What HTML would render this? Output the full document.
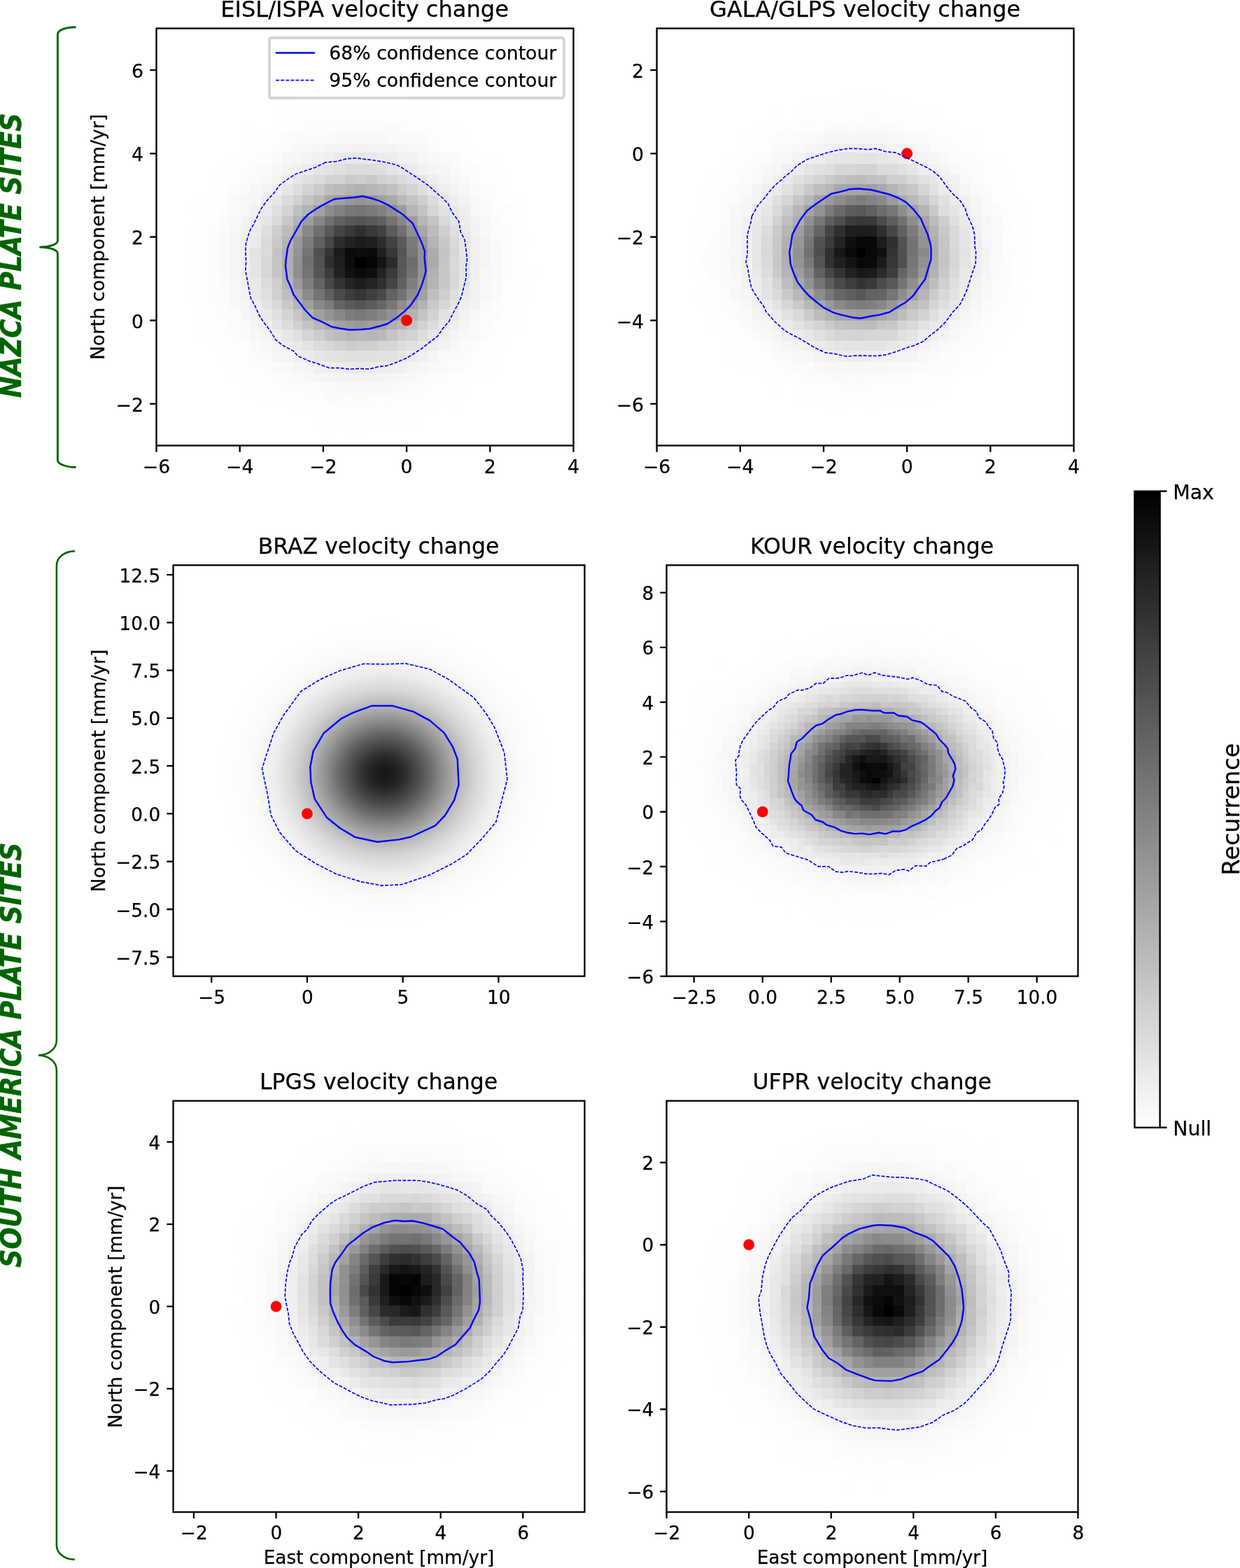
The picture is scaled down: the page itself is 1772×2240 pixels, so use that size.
<!DOCTYPE html>
<html lang="en">
<head>
<meta charset="utf-8">
<title>Velocity change at Nazca and South America plate sites</title>
<style>
html,body{margin:0;padding:0;background:#fff}
body{width:1772px;height:2240px;overflow:hidden}
svg{display:block;font-family:"DejaVu Sans","Liberation Sans",sans-serif;fill:#000}
svg text{white-space:pre;stroke:#000;stroke-width:0.25px}
.pl text{stroke:#006400;stroke-width:0.4px}
.pl{font-family:"DejaVu Sans Condensed","DejaVu Sans","Liberation Sans",sans-serif;font-weight:bold;font-style:oblique}
</style>
</head>
<body>
<svg width="1772" height="2240" viewBox="0 0 1772 2240">
<defs>
<clipPath id="cp0"><rect x="223.5" y="40.55" width="596" height="595.95"/></clipPath>
<clipPath id="cp1"><rect x="938.6" y="40.55" width="595.9" height="595.95"/></clipPath>
<clipPath id="cp2"><rect x="247.55" y="807.4" width="587.9" height="587.2"/></clipPath>
<radialGradient id="rg2" cx="0.5" cy="0.5" r="0.5"><stop offset="0" stop-color="rgb(22,22,22)"/><stop offset="0.0233" stop-color="rgb(24,24,24)"/><stop offset="0.0465" stop-color="rgb(29,29,29)"/><stop offset="0.0698" stop-color="rgb(36,36,36)"/><stop offset="0.093" stop-color="rgb(45,45,45)"/><stop offset="0.1163" stop-color="rgb(56,56,56)"/><stop offset="0.1395" stop-color="rgb(67,67,67)"/><stop offset="0.1628" stop-color="rgb(79,79,79)"/><stop offset="0.186" stop-color="rgb(92,92,92)"/><stop offset="0.2093" stop-color="rgb(105,105,105)"/><stop offset="0.2326" stop-color="rgb(119,119,119)"/><stop offset="0.2558" stop-color="rgb(133,133,133)"/><stop offset="0.2791" stop-color="rgb(146,146,146)"/><stop offset="0.3023" stop-color="rgb(159,159,159)"/><stop offset="0.3256" stop-color="rgb(171,171,171)"/><stop offset="0.3488" stop-color="rgb(182,182,182)"/><stop offset="0.3721" stop-color="rgb(193,193,193)"/><stop offset="0.3953" stop-color="rgb(203,203,203)"/><stop offset="0.4186" stop-color="rgb(211,211,211)"/><stop offset="0.4419" stop-color="rgb(219,219,219)"/><stop offset="0.4651" stop-color="rgb(225,225,225)"/><stop offset="0.4884" stop-color="rgb(231,231,231)"/><stop offset="0.5116" stop-color="rgb(236,236,236)"/><stop offset="0.5349" stop-color="rgb(240,240,240)"/><stop offset="0.5581" stop-color="rgb(243,243,243)"/><stop offset="0.5814" stop-color="rgb(246,246,246)"/><stop offset="0.6047" stop-color="rgb(248,248,248)"/><stop offset="0.6279" stop-color="rgb(250,250,250)"/><stop offset="0.6512" stop-color="rgb(251,251,251)"/><stop offset="0.6744" stop-color="rgb(252,252,252)"/><stop offset="0.6977" stop-color="rgb(253,253,253)"/><stop offset="0.7209" stop-color="rgb(254,254,254)"/><stop offset="0.7442" stop-color="rgb(254,254,254)"/><stop offset="0.7674" stop-color="rgb(255,255,255)"/><stop offset="0.7907" stop-color="rgb(255,255,255)"/><stop offset="0.814" stop-color="rgb(255,255,255)"/><stop offset="0.8372" stop-color="rgb(255,255,255)"/><stop offset="0.8605" stop-color="rgb(255,255,255)"/><stop offset="0.8837" stop-color="rgb(255,255,255)"/><stop offset="0.907" stop-color="rgb(255,255,255)"/><stop offset="0.9302" stop-color="rgb(255,255,255)"/><stop offset="0.9535" stop-color="rgb(255,255,255)"/><stop offset="0.9767" stop-color="rgb(255,255,255)"/><stop offset="1" stop-color="rgb(255,255,255)"/></radialGradient>
<clipPath id="cp3"><rect x="952.55" y="807.4" width="587.95" height="587.2"/></clipPath>
<clipPath id="cp4"><rect x="247.55" y="1572.65" width="587.9" height="587.45"/></clipPath>
<clipPath id="cp5"><rect x="952.55" y="1572.65" width="587.95" height="587.45"/></clipPath>
<linearGradient id="cbg" x1="0" y1="0" x2="0" y2="1"><stop offset="0" stop-color="#000"/><stop offset="1" stop-color="#fff"/></linearGradient>
</defs>
<rect width="1772" height="2240" fill="#fff"/>
<g id="ax0">
<g clip-path="url(#cp0)">
<g shape-rendering="crispEdges">
<path fill="rgb(0,0,0)" d="M507 367h16v16h-16z"/>
<path fill="rgb(6,6,6)" d="M523 367h16v16h-16z"/>
<path fill="rgb(11,11,11)" d="M493 354h14v13h-14zM507 383h16v14h-16zM523 354h16v13h-16z"/>
<path fill="rgb(12,12,12)" d="M493 367h14v16h-14z"/>
<path fill="rgb(13,13,13)" d="M507 354h16v13h-16z"/>
<path fill="rgb(15,15,15)" d="M523 383h16v14h-16z"/>
<path fill="rgb(16,16,16)" d="M493 383h14v14h-14z"/>
<path fill="rgb(20,20,20)" d="M539 367h13v16h-13z"/>
<path fill="rgb(26,26,26)" d="M477 354h16v13h-16z"/>
<path fill="rgb(27,27,27)" d="M507 338h16v16h-16z"/>
<path fill="rgb(28,28,28)" d="M507 397h16v16h-16z"/>
<path fill="rgb(30,30,30)" d="M523 338h16v16h-16z"/>
<path fill="rgb(31,31,31)" d="M477 367h16v16h-16z"/>
<path fill="rgb(32,32,32)" d="M539 354h13v13h-13z"/>
<path fill="rgb(34,34,34)" d="M477 383h16v14h-16zM493 338h14v16h-14z"/>
<path fill="rgb(35,35,35)" d="M493 397h14v16h-14zM539 383h13v14h-13z"/>
<path fill="rgb(36,36,36)" d="M523 397h16v16h-16z"/>
<path fill="rgb(43,43,43)" d="M552 367h16v16h-16z"/>
<path fill="rgb(44,44,44)" d="M477 338h16v16h-16z"/>
<path fill="rgb(45,45,45)" d="M539 338h13v16h-13z"/>
<path fill="rgb(47,47,47)" d="M464 367h13v16h-13zM507 322h16v16h-16z"/>
<path fill="rgb(48,48,48)" d="M539 397h13v16h-13z"/>
<path fill="rgb(52,52,52)" d="M477 397h16v16h-16z"/>
<path fill="rgb(53,53,53)" d="M464 354h13v13h-13zM507 413h16v16h-16z"/>
<path fill="rgb(56,56,56)" d="M523 322h16v16h-16zM552 354h16v13h-16z"/>
<path fill="rgb(57,57,57)" d="M493 322h14v16h-14z"/>
<path fill="rgb(59,59,59)" d="M552 383h16v14h-16z"/>
<path fill="rgb(61,61,61)" d="M464 383h13v14h-13zM493 413h14v16h-14z"/>
<path fill="rgb(63,63,63)" d="M523 413h16v16h-16z"/>
<path fill="rgb(65,65,65)" d="M539 322h13v16h-13zM552 338h16v16h-16z"/>
<path fill="rgb(69,69,69)" d="M477 322h16v16h-16zM552 397h16v16h-16z"/>
<path fill="rgb(71,71,71)" d="M464 397h13v16h-13zM464 338h13v16h-13z"/>
<path fill="rgb(73,73,73)" d="M539 413h13v16h-13z"/>
<path fill="rgb(75,75,75)" d="M477 413h16v16h-16z"/>
<path fill="rgb(78,78,78)" d="M448 354h16v13h-16z"/>
<path fill="rgb(82,82,82)" d="M448 367h16v16h-16z"/>
<path fill="rgb(84,84,84)" d="M568 354h13v13h-13z"/>
<path fill="rgb(85,85,85)" d="M448 383h16v14h-16zM507 429h16v13h-16zM507 309h16v13h-16z"/>
<path fill="rgb(87,87,87)" d="M493 309h14v13h-14z"/>
<path fill="rgb(88,88,88)" d="M464 322h13v16h-13zM568 367h13v16h-13z"/>
<path fill="rgb(89,89,89)" d="M523 309h16v13h-16zM568 383h13v14h-13z"/>
<path fill="rgb(91,91,91)" d="M493 429h14v13h-14zM552 322h16v16h-16zM568 338h13v16h-13z"/>
<path fill="rgb(92,92,92)" d="M523 429h16v13h-16z"/>
<path fill="rgb(96,96,96)" d="M448 338h16v16h-16zM464 413h13v16h-13z"/>
<path fill="rgb(97,97,97)" d="M477 309h16v13h-16zM539 309h13v13h-13zM568 397h13v16h-13z"/>
<path fill="rgb(98,98,98)" d="M552 413h16v16h-16z"/>
<path fill="rgb(99,99,99)" d="M448 397h16v16h-16z"/>
<path fill="rgb(100,100,100)" d="M477 429h16v13h-16z"/>
<path fill="rgb(102,102,102)" d="M539 429h13v13h-13z"/>
<path fill="rgb(110,110,110)" d="M581 367h16v16h-16z"/>
<path fill="rgb(111,111,111)" d="M448 322h16v16h-16z"/>
<path fill="rgb(112,112,112)" d="M432 367h16v16h-16zM568 322h13v16h-13z"/>
<path fill="rgb(114,114,114)" d="M464 309h13v13h-13zM568 413h13v16h-13zM581 383h16v14h-16z"/>
<path fill="rgb(116,116,116)" d="M432 383h16v14h-16zM432 354h16v13h-16zM448 413h16v16h-16zM507 293h16v16h-16zM552 309h16v13h-16z"/>
<path fill="rgb(118,118,118)" d="M552 429h16v13h-16zM581 354h16v13h-16z"/>
<path fill="rgb(119,119,119)" d="M493 293h14v16h-14z"/>
<path fill="rgb(120,120,120)" d="M507 442h16v16h-16z"/>
<path fill="rgb(122,122,122)" d="M523 293h16v16h-16z"/>
<path fill="rgb(123,123,123)" d="M581 338h16v16h-16z"/>
<path fill="rgb(124,124,124)" d="M464 429h13v13h-13zM493 442h14v16h-14z"/>
<path fill="rgb(125,125,125)" d="M432 338h16v16h-16z"/>
<path fill="rgb(126,126,126)" d="M523 442h16v16h-16z"/>
<path fill="rgb(127,127,127)" d="M432 397h16v16h-16zM581 397h16v16h-16z"/>
<path fill="rgb(129,129,129)" d="M539 293h13v16h-13z"/>
<path fill="rgb(130,130,130)" d="M477 293h16v16h-16z"/>
<path fill="rgb(135,135,135)" d="M448 309h16v13h-16z"/>
<path fill="rgb(136,136,136)" d="M432 322h16v16h-16zM448 429h16v13h-16zM539 442h13v16h-13zM568 309h13v13h-13z"/>
<path fill="rgb(137,137,137)" d="M477 442h16v16h-16z"/>
<path fill="rgb(140,140,140)" d="M432 413h16v16h-16z"/>
<path fill="rgb(141,141,141)" d="M581 413h16v16h-16z"/>
<path fill="rgb(142,142,142)" d="M464 293h13v16h-13zM568 429h13v13h-13z"/>
<path fill="rgb(143,143,143)" d="M552 293h16v16h-16z"/>
<path fill="rgb(144,144,144)" d="M419 383h13v14h-13zM419 367h13v16h-13zM581 322h16v16h-16z"/>
<path fill="rgb(146,146,146)" d="M552 442h16v16h-16zM597 367h14v16h-14z"/>
<path fill="rgb(147,147,147)" d="M597 354h14v13h-14z"/>
<path fill="rgb(148,148,148)" d="M419 354h13v13h-13zM464 442h13v16h-13zM507 279h16v14h-16zM597 383h14v14h-14z"/>
<path fill="rgb(151,151,151)" d="M597 338h14v16h-14z"/>
<path fill="rgb(152,152,152)" d="M493 279h14v14h-14z"/>
<path fill="rgb(153,153,153)" d="M419 338h13v16h-13zM507 458h16v13h-16zM523 279h16v14h-16z"/>
<path fill="rgb(155,155,155)" d="M419 397h13v16h-13zM597 397h14v16h-14z"/>
<path fill="rgb(157,157,157)" d="M432 309h16v13h-16zM493 458h14v13h-14zM523 458h16v13h-16zM568 293h13v16h-13zM581 309h16v13h-16z"/>
<path fill="rgb(159,159,159)" d="M432 429h16v13h-16zM581 429h16v13h-16z"/>
<path fill="rgb(160,160,160)" d="M448 442h16v16h-16zM477 279h16v14h-16zM539 279h13v14h-13z"/>
<path fill="rgb(161,161,161)" d="M448 293h16v16h-16zM477 458h16v13h-16zM597 413h14v16h-14z"/>
<path fill="rgb(162,162,162)" d="M568 442h13v16h-13z"/>
<path fill="rgb(163,163,163)" d="M539 458h13v13h-13z"/>
<path fill="rgb(166,166,166)" d="M419 322h13v16h-13z"/>
<path fill="rgb(167,167,167)" d="M597 322h14v16h-14z"/>
<path fill="rgb(168,168,168)" d="M464 279h13v14h-13z"/>
<path fill="rgb(169,169,169)" d="M419 413h13v16h-13zM552 279h16v14h-16z"/>
<path fill="rgb(170,170,170)" d="M611 367h16v16h-16z"/>
<path fill="rgb(173,173,173)" d="M464 458h13v13h-13zM611 354h16v13h-16z"/>
<path fill="rgb(175,175,175)" d="M403 367h16v16h-16zM403 354h16v13h-16z"/>
<path fill="rgb(176,176,176)" d="M403 383h16v14h-16zM552 458h16v13h-16z"/>
<path fill="rgb(177,177,177)" d="M507 263h16v16h-16zM611 383h16v14h-16z"/>
<path fill="rgb(178,178,178)" d="M432 293h16v16h-16z"/>
<path fill="rgb(179,179,179)" d="M419 309h13v13h-13zM581 442h16v16h-16z"/>
<path fill="rgb(180,180,180)" d="M403 338h16v16h-16zM432 442h16v16h-16zM597 429h14v13h-14zM611 397h16v16h-16zM611 338h16v16h-16z"/>
<path fill="rgb(181,181,181)" d="M403 397h16v16h-16zM493 263h14v16h-14zM523 263h16v16h-16zM581 293h16v16h-16z"/>
<path fill="rgb(182,182,182)" d="M419 429h13v13h-13zM493 471h14v16h-14zM597 309h14v13h-14z"/>
<path fill="rgb(183,183,183)" d="M448 458h16v13h-16zM523 471h16v16h-16zM568 458h13v13h-13z"/>
<path fill="rgb(184,184,184)" d="M448 279h16v14h-16z"/>
<path fill="rgb(185,185,185)" d="M477 263h16v16h-16zM507 471h16v16h-16zM568 279h13v14h-13z"/>
<path fill="rgb(186,186,186)" d="M539 471h13v16h-13zM539 263h13v16h-13z"/>
<path fill="rgb(188,188,188)" d="M403 322h16v16h-16zM611 322h16v16h-16z"/>
<path fill="rgb(189,189,189)" d="M477 471h16v16h-16z"/>
<path fill="rgb(190,190,190)" d="M403 413h16v16h-16zM464 263h13v16h-13z"/>
<path fill="rgb(191,191,191)" d="M611 413h16v16h-16z"/>
<path fill="rgb(192,192,192)" d="M419 293h13v16h-13zM552 263h16v16h-16z"/>
<path fill="rgb(194,194,194)" d="M464 471h13v16h-13z"/>
<path fill="rgb(195,195,195)" d="M581 279h16v14h-16zM597 293h14v16h-14z"/>
<path fill="rgb(196,196,196)" d="M389 354h14v13h-14zM432 458h16v13h-16zM432 279h16v14h-16zM581 458h16v13h-16zM597 442h14v16h-14zM611 309h16v13h-16zM627 354h16v13h-16z"/>
<path fill="rgb(197,197,197)" d="M552 471h16v16h-16z"/>
<path fill="rgb(198,198,198)" d="M389 383h14v14h-14zM389 367h14v16h-14zM419 442h13v16h-13z"/>
<path fill="rgb(199,199,199)" d="M403 309h16v13h-16zM627 383h16v14h-16zM627 367h16v16h-16z"/>
<path fill="rgb(200,200,200)" d="M403 429h16v13h-16zM627 397h16v16h-16z"/>
<path fill="rgb(201,201,201)" d="M389 338h14v16h-14zM523 250h16v13h-16zM627 338h16v16h-16z"/>
<path fill="rgb(202,202,202)" d="M448 263h16v16h-16zM493 250h14v13h-14zM611 429h16v13h-16z"/>
<path fill="rgb(204,204,204)" d="M493 487h14v14h-14zM507 250h16v13h-16zM568 263h13v16h-13z"/>
<path fill="rgb(205,205,205)" d="M448 471h16v16h-16z"/>
<path fill="rgb(206,206,206)" d="M389 397h14v16h-14zM389 322h14v16h-14zM507 487h16v14h-16zM627 413h16v16h-16z"/>
<path fill="rgb(207,207,207)" d="M523 487h16v14h-16zM568 471h13v16h-13zM597 279h14v14h-14zM627 322h16v16h-16z"/>
<path fill="rgb(208,208,208)" d="M389 413h14v16h-14zM419 458h13v13h-13zM539 250h13v13h-13z"/>
<path fill="rgb(209,209,209)" d="M477 487h16v14h-16zM477 250h16v13h-16zM597 458h14v13h-14z"/>
<path fill="rgb(210,210,210)" d="M419 279h13v14h-13zM611 442h16v16h-16z"/>
<path fill="rgb(211,211,211)" d="M403 293h16v16h-16zM432 263h16v16h-16zM464 250h13v13h-13zM581 471h16v16h-16zM581 263h16v16h-16z"/>
<path fill="rgb(212,212,212)" d="M403 442h16v16h-16z"/>
<path fill="rgb(213,213,213)" d="M432 471h16v16h-16zM539 487h13v14h-13zM552 250h16v13h-16zM611 293h16v16h-16z"/>
<path fill="rgb(215,215,215)" d="M373 383h16v14h-16zM373 367h16v16h-16zM464 487h13v14h-13zM552 487h16v14h-16zM627 429h16v13h-16zM643 354h13v13h-13z"/>
<path fill="rgb(217,217,217)" d="M389 429h14v13h-14zM389 309h14v13h-14zM627 309h16v13h-16zM643 397h13v16h-13zM643 383h13v14h-13z"/>
<path fill="rgb(218,218,218)" d="M373 338h16v16h-16zM643 367h13v16h-13zM643 338h13v16h-13z"/>
<path fill="rgb(219,219,219)" d="M373 354h16v13h-16zM448 250h16v13h-16zM568 250h13v13h-13z"/>
<path fill="rgb(220,220,220)" d="M373 397h16v16h-16zM403 279h16v14h-16zM448 487h16v14h-16zM493 234h14v16h-14zM507 234h16v16h-16zM611 458h16v13h-16zM611 279h16v14h-16z"/>
<path fill="rgb(221,221,221)" d="M403 458h16v13h-16zM419 263h13v16h-13zM523 234h16v16h-16zM568 487h13v14h-13zM597 471h14v16h-14z"/>
<path fill="rgb(222,222,222)" d="M597 263h14v16h-14z"/>
<path fill="rgb(223,223,223)" d="M373 322h16v16h-16zM389 442h14v16h-14zM389 293h14v16h-14zM493 501h14v16h-14zM507 501h16v16h-16zM539 234h13v16h-13zM643 413h13v16h-13z"/>
<path fill="rgb(224,224,224)" d="M373 413h16v16h-16zM432 250h16v13h-16zM477 234h16v16h-16zM523 501h16v16h-16zM581 250h16v13h-16zM643 322h13v16h-13z"/>
<path fill="rgb(225,225,225)" d="M419 471h13v16h-13zM627 293h16v16h-16z"/>
<path fill="rgb(226,226,226)" d="M477 501h16v16h-16zM539 501h13v16h-13zM581 487h16v14h-16zM627 442h16v16h-16z"/>
<path fill="rgb(227,227,227)" d="M552 501h16v16h-16z"/>
<path fill="rgb(228,228,228)" d="M357 354h16v13h-16zM373 429h16v13h-16zM432 487h16v14h-16zM464 501h13v16h-13zM464 234h13v16h-13zM643 429h13v13h-13zM643 309h13v13h-13z"/>
<path fill="rgb(229,229,229)" d="M357 383h16v14h-16zM448 234h16v16h-16zM552 234h16v16h-16zM656 383h16v14h-16zM656 367h16v16h-16z"/>
<path fill="rgb(230,230,230)" d="M357 367h16v16h-16zM373 309h16v13h-16zM389 458h14v13h-14zM389 279h14v14h-14zM403 263h16v16h-16zM597 250h14v13h-14zM611 471h16v16h-16zM627 279h16v14h-16z"/>
<path fill="rgb(231,231,231)" d="M419 250h13v13h-13zM568 501h13v16h-13zM611 263h16v16h-16zM656 354h16v13h-16z"/>
<path fill="rgb(232,232,232)" d="M403 471h16v16h-16zM448 501h16v16h-16zM493 218h14v16h-14zM568 234h13v16h-13zM597 487h14v14h-14zM627 458h16v13h-16zM643 293h13v16h-13zM656 397h16v16h-16zM656 338h16v16h-16z"/>
<path fill="rgb(233,233,233)" d="M357 413h16v16h-16zM357 397h16v16h-16zM373 293h16v16h-16zM419 487h13v14h-13zM507 218h16v16h-16zM523 218h16v16h-16z"/>
<path fill="rgb(234,234,234)" d="M357 338h16v16h-16zM373 442h16v16h-16zM477 218h16v16h-16zM507 517h16v16h-16zM643 442h13v16h-13zM656 322h16v16h-16z"/>
<path fill="rgb(235,235,235)" d="M357 322h16v16h-16zM523 517h16v16h-16zM539 218h13v16h-13zM656 413h16v16h-16z"/>
<path fill="rgb(236,236,236)" d="M373 279h16v14h-16zM432 501h16v16h-16zM493 517h14v16h-14zM552 218h16v16h-16zM581 501h16v16h-16zM581 234h16v16h-16z"/>
<path fill="rgb(237,237,237)" d="M357 309h16v13h-16zM432 234h16v16h-16zM477 517h16v16h-16zM539 517h13v16h-13zM611 487h16v14h-16zM656 309h16v13h-16z"/>
<path fill="rgb(238,238,238)" d="M389 263h14v16h-14zM403 487h16v14h-16zM464 218h13v16h-13zM611 250h16v13h-16zM627 471h16v16h-16zM627 263h16v16h-16zM643 279h13v14h-13z"/>
<path fill="rgb(239,239,239)" d="M344 383h13v14h-13zM344 367h13v16h-13zM357 429h16v13h-16zM373 458h16v13h-16zM389 471h14v16h-14zM403 250h16v13h-16zM464 517h13v16h-13zM552 517h16v16h-16zM656 293h16v16h-16zM672 383h13v14h-13zM672 367h13v16h-13zM672 354h13v13h-13z"/>
<path fill="rgb(240,240,240)" d="M344 354h13v13h-13zM344 338h13v16h-13zM419 501h13v16h-13zM448 517h16v16h-16zM448 218h16v16h-16zM568 517h13v16h-13zM597 501h14v16h-14zM643 458h13v13h-13zM656 429h16v13h-16zM672 338h13v16h-13z"/>
<path fill="rgb(241,241,241)" d="M344 397h13v16h-13zM357 442h16v16h-16zM357 293h16v16h-16zM419 234h13v16h-13zM568 218h13v16h-13zM597 234h14v16h-14zM672 397h13v16h-13z"/>
<path fill="rgb(242,242,242)" d="M344 322h13v16h-13zM507 205h16v13h-16zM581 218h16v16h-16zM656 442h16v16h-16zM672 413h13v16h-13zM672 322h13v16h-13z"/>
<path fill="rgb(243,243,243)" d="M344 413h13v16h-13zM344 309h13v13h-13zM373 263h16v16h-16zM389 487h14v14h-14zM389 250h14v13h-14zM432 218h16v16h-16zM477 533h16v13h-16zM493 533h14v13h-14zM493 205h14v13h-14zM523 533h16v13h-16zM523 205h16v13h-16zM539 205h13v13h-13zM627 487h16v14h-16zM627 250h16v13h-16zM643 263h13v16h-13zM656 279h16v14h-16zM672 429h13v13h-13zM672 309h13v13h-13z"/>
<path fill="rgb(244,244,244)" d="M373 471h16v16h-16zM403 234h16v16h-16zM464 205h13v13h-13zM477 205h16v13h-16zM507 533h16v13h-16zM539 533h13v13h-13zM552 205h16v13h-16zM581 517h16v16h-16zM611 234h16v16h-16zM643 471h13v16h-13z"/>
<path fill="rgb(245,245,245)" d="M328 367h16v16h-16zM328 354h16v13h-16zM344 429h13v13h-13zM357 458h16v13h-16zM403 501h16v16h-16zM432 517h16v16h-16zM464 533h13v13h-13zM552 533h16v13h-16zM611 501h16v16h-16zM656 458h16v13h-16zM685 367h16v16h-16zM685 354h16v13h-16z"/>
<path fill="rgb(246,246,246)" d="M328 383h16v14h-16zM328 338h16v16h-16zM344 442h13v16h-13zM357 279h16v14h-16zM389 501h14v16h-14zM419 517h13v16h-13zM419 218h13v16h-13zM448 533h16v13h-16zM448 205h16v13h-16zM568 205h13v13h-13zM597 517h14v16h-14zM597 218h14v16h-14zM685 338h16v16h-16z"/>
<path fill="rgb(247,247,247)" d="M328 397h16v16h-16zM328 322h16v16h-16zM344 293h13v16h-13zM344 279h13v14h-13zM357 471h16v16h-16zM357 263h16v16h-16zM373 487h16v14h-16zM389 234h14v16h-14zM403 218h16v16h-16zM507 189h16v16h-16zM568 533h13v13h-13zM627 234h16v16h-16zM643 487h13v14h-13zM643 250h13v13h-13zM656 263h16v16h-16zM672 293h13v16h-13zM685 413h16v16h-16zM685 397h16v16h-16zM685 383h16v14h-16z"/>
<path fill="rgb(248,248,248)" d="M328 429h16v13h-16zM328 413h16v16h-16zM328 309h16v13h-16zM373 250h16v13h-16zM432 533h16v13h-16zM432 205h16v13h-16zM477 546h16v16h-16zM493 546h14v16h-14zM493 189h14v16h-14zM523 546h16v16h-16zM523 189h16v16h-16zM539 546h13v16h-13zM539 189h13v16h-13zM581 533h16v13h-16zM581 205h16v13h-16zM611 517h16v16h-16zM611 218h16v16h-16zM656 471h16v16h-16zM672 442h13v16h-13zM672 279h13v14h-13zM685 322h16v16h-16zM685 309h16v13h-16z"/>
<path fill="rgb(249,249,249)" d="M315 367h13v16h-13zM315 354h13v13h-13zM315 338h13v16h-13zM403 517h16v16h-16zM419 205h13v13h-13zM477 189h16v16h-16zM507 546h16v16h-16zM552 546h16v16h-16zM597 205h14v13h-14zM627 501h16v16h-16zM656 250h16v13h-16zM672 458h13v13h-13zM685 429h16v13h-16zM701 383h16v14h-16zM701 367h16v16h-16zM701 354h16v13h-16z"/>
<path fill="rgb(250,250,250)" d="M315 397h13v16h-13zM315 383h13v14h-13zM315 322h13v16h-13zM328 293h16v16h-16zM328 279h16v14h-16zM344 458h13v13h-13zM344 263h13v16h-13zM357 487h16v14h-16zM357 250h16v13h-16zM373 501h16v16h-16zM373 234h16v16h-16zM389 517h14v16h-14zM389 218h14v16h-14zM419 533h13v13h-13zM464 546h13v16h-13zM464 189h13v16h-13zM552 189h16v16h-16zM568 546h13v16h-13zM568 189h13v16h-13zM597 533h14v13h-14zM627 517h16v16h-16zM627 218h16v16h-16zM643 501h13v16h-13zM643 234h13v16h-13zM656 487h16v14h-16zM672 471h13v16h-13zM672 263h13v16h-13zM685 293h16v16h-16zM701 413h16v16h-16zM701 397h16v16h-16zM701 338h16v16h-16z"/>
<path fill="rgb(251,251,251)" d="M315 413h13v16h-13zM315 309h13v13h-13zM328 458h16v13h-16zM328 442h16v16h-16zM344 471h13v16h-13zM344 250h13v13h-13zM357 501h16v16h-16zM357 234h16v16h-16zM403 533h16v13h-16zM403 205h16v13h-16zM419 189h13v16h-13zM432 546h16v16h-16zM432 189h16v16h-16zM448 546h16v16h-16zM448 189h16v16h-16zM464 562h13v13h-13zM477 562h16v13h-16zM493 175h14v14h-14zM507 562h16v13h-16zM507 175h16v14h-16zM539 175h13v14h-13zM552 175h16v14h-16zM581 546h16v16h-16zM581 189h16v16h-16zM597 189h14v16h-14zM611 533h16v13h-16zM611 205h16v13h-16zM643 218h13v16h-13zM656 501h16v16h-16zM685 458h16v13h-16zM685 442h16v16h-16zM685 279h16v14h-16zM701 322h16v16h-16z"/>
<path fill="rgb(252,252,252)" d="M299 413h16v16h-16zM299 397h16v16h-16zM299 383h16v14h-16zM299 367h16v16h-16zM299 354h16v13h-16zM299 338h16v16h-16zM299 322h16v16h-16zM315 442h13v16h-13zM315 429h13v13h-13zM315 293h13v16h-13zM328 471h16v16h-16zM328 263h16v16h-16zM373 517h16v16h-16zM373 218h16v16h-16zM389 533h14v13h-14zM389 205h14v13h-14zM403 546h16v16h-16zM403 189h16v16h-16zM419 546h13v16h-13zM432 175h16v14h-16zM448 175h16v14h-16zM464 175h13v14h-13zM477 175h16v14h-16zM493 562h14v13h-14zM523 562h16v13h-16zM523 175h16v14h-16zM539 562h13v13h-13zM552 562h16v13h-16zM568 175h13v14h-13zM597 546h14v16h-14zM627 533h16v13h-16zM643 517h13v16h-13zM656 517h16v16h-16zM656 234h16v16h-16zM672 487h13v14h-13zM672 250h13v13h-13zM672 234h13v16h-13zM685 471h16v16h-16zM685 263h16v16h-16zM701 442h16v16h-16zM701 429h16v13h-16zM701 309h16v13h-16zM701 293h16v16h-16zM717 383h14v14h-14zM717 367h14v16h-14zM717 354h14v13h-14zM717 338h14v16h-14zM717 322h14v16h-14z"/>
<path fill="rgb(253,253,253)" d="M285 383h14v14h-14zM285 338h14v16h-14zM299 442h16v16h-16zM299 429h16v13h-16zM299 309h16v13h-16zM315 471h13v16h-13zM315 458h13v13h-13zM315 279h13v14h-13zM328 487h16v14h-16zM328 250h16v13h-16zM344 501h13v16h-13zM344 487h13v14h-13zM344 234h13v16h-13zM344 218h13v16h-13zM357 517h16v16h-16zM357 218h16v16h-16zM373 533h16v13h-16zM389 546h14v16h-14zM389 189h14v16h-14zM419 175h13v14h-13zM432 562h16v13h-16zM448 562h16v13h-16zM477 575h16v16h-16zM477 159h16v16h-16zM493 575h14v16h-14zM493 159h14v16h-14zM507 575h16v16h-16zM507 159h16v16h-16zM523 575h16v16h-16zM523 159h16v16h-16zM539 159h13v16h-13zM552 575h16v16h-16zM568 562h13v13h-13zM568 159h13v16h-13zM581 562h16v13h-16zM581 175h16v14h-16zM597 562h14v13h-14zM597 175h14v14h-14zM611 546h16v16h-16zM611 189h16v16h-16zM627 546h16v16h-16zM627 205h16v13h-16zM627 189h16v16h-16zM643 205h13v13h-13zM656 218h16v16h-16zM672 501h13v16h-13zM685 250h16v13h-16zM701 471h16v16h-16zM701 458h16v13h-16zM701 279h16v14h-16zM701 263h16v16h-16zM717 429h14v13h-14zM717 413h14v16h-14zM717 397h14v16h-14zM717 293h14v16h-14zM731 413h16v16h-16zM731 397h16v16h-16zM731 383h16v14h-16z"/>
<path fill="rgb(254,254,254)" d="M269 413h16v16h-16zM269 397h16v16h-16zM269 367h16v16h-16zM269 354h16v13h-16zM269 338h16v16h-16zM269 322h16v16h-16zM269 293h16v16h-16zM285 471h14v16h-14zM285 458h14v13h-14zM285 442h14v16h-14zM285 429h14v13h-14zM285 413h14v16h-14zM285 397h14v16h-14zM285 367h14v16h-14zM285 354h14v13h-14zM285 322h14v16h-14zM285 309h14v13h-14zM285 293h14v16h-14zM285 279h14v14h-14zM299 487h16v14h-16zM299 471h16v16h-16zM299 458h16v13h-16zM299 293h16v16h-16zM299 279h16v14h-16zM299 263h16v16h-16zM299 250h16v13h-16zM315 501h13v16h-13zM315 487h13v14h-13zM315 263h13v16h-13zM315 250h13v13h-13zM315 234h13v16h-13zM328 533h16v13h-16zM328 517h16v16h-16zM328 501h16v16h-16zM328 234h16v16h-16zM328 218h16v16h-16zM344 546h13v16h-13zM344 533h13v13h-13zM344 517h13v16h-13zM344 205h13v13h-13zM344 189h13v16h-13zM344 175h13v14h-13zM357 546h16v16h-16zM357 533h16v13h-16zM357 205h16v13h-16zM357 189h16v16h-16zM373 562h16v13h-16zM373 546h16v16h-16zM373 205h16v13h-16zM373 189h16v16h-16zM389 562h14v13h-14zM389 175h14v14h-14zM389 159h14v16h-14zM403 562h16v13h-16zM403 175h16v14h-16zM403 159h16v16h-16zM419 575h13v16h-13zM419 562h13v13h-13zM419 159h13v16h-13zM432 575h16v16h-16zM432 159h16v16h-16zM432 143h16v16h-16zM432 130h16v13h-16zM448 591h16v16h-16zM448 575h16v16h-16zM448 159h16v16h-16zM448 143h16v16h-16zM464 607h13v14h-13zM464 591h13v16h-13zM464 575h13v16h-13zM464 159h13v16h-13zM464 143h13v16h-13zM477 591h16v16h-16zM477 143h16v16h-16zM493 607h14v14h-14zM493 591h14v16h-14zM493 143h14v16h-14zM493 130h14v13h-14zM507 607h16v14h-16zM507 591h16v16h-16zM507 143h16v16h-16zM507 130h16v13h-16zM523 591h16v16h-16zM523 143h16v16h-16zM539 591h13v16h-13zM539 575h13v16h-13zM539 143h13v16h-13zM539 130h13v13h-13zM552 591h16v16h-16zM552 159h16v16h-16zM552 143h16v16h-16zM568 591h13v16h-13zM568 575h13v16h-13zM568 143h13v16h-13zM581 591h16v16h-16zM581 575h16v16h-16zM581 159h16v16h-16zM597 575h14v16h-14zM597 159h14v16h-14zM611 575h16v16h-16zM611 562h16v13h-16zM611 175h16v14h-16zM611 159h16v16h-16zM627 562h16v13h-16zM627 175h16v14h-16zM643 575h13v16h-13zM643 562h13v13h-13zM643 546h13v16h-13zM643 533h13v13h-13zM643 189h13v16h-13zM643 175h13v14h-13zM656 546h16v16h-16zM656 533h16v13h-16zM656 205h16v13h-16zM656 189h16v16h-16zM672 533h13v13h-13zM672 517h13v16h-13zM672 218h13v16h-13zM672 205h13v13h-13zM685 533h16v13h-16zM685 517h16v16h-16zM685 501h16v16h-16zM685 487h16v14h-16zM685 234h16v16h-16zM685 218h16v16h-16zM701 517h16v16h-16zM701 501h16v16h-16zM701 487h16v14h-16zM701 250h16v13h-16zM701 218h16v16h-16zM717 487h14v14h-14zM717 471h14v16h-14zM717 458h14v13h-14zM717 442h14v16h-14zM717 309h14v13h-14zM717 263h14v16h-14zM717 250h14v13h-14zM731 458h16v13h-16zM731 442h16v16h-16zM731 429h16v13h-16zM731 367h16v16h-16zM731 354h16v13h-16zM731 338h16v16h-16zM731 322h16v16h-16zM731 309h16v13h-16zM731 293h16v16h-16zM731 279h16v14h-16zM747 413h13v16h-13zM747 397h13v16h-13zM747 383h13v14h-13zM747 338h13v16h-13zM760 383h16v14h-16z"/>
</g>
<circle cx="581.1" cy="457.72" r="8" fill="#ff0000"/>
<path d="M569.2 302.1L554.7 292.9L542.5 287.2L529.9 283L517.9 280.2L506.4 282L485.9 283.6L477.5 284.5L459.5 293.9L450.6 299.2L439.7 306.8L430.9 316.2L424.3 327.6L415 344L411 354.3L409 368.3L408 379L410.4 399.1L415.4 409.8L419.4 420.8L429 433.6L435.5 442.3L446.7 453.8L459.6 459.7L474.3 466.9L486.1 469.3L499.4 471.3L515.9 470.7L528.4 469.6L543 465.8L553.7 462.5L567.5 453.4L577.4 445.4L586.5 436.5L597 421.3L602.2 408.6L606.4 395.8L608.6 387.3L606.6 368.7L607.1 359.3L602.3 345.9L597.5 335.6L589.7 319.1L577.5 307.8Z" fill="none" stroke="#0000ff" stroke-width="2.45" stroke-linejoin="round"/>
<path d="M465 231.9L451.1 239L440 242.7L422.4 248.7L410.8 256.1L399.8 264.3L391.3 276.2L381.5 286.6L373.8 297.2L368.6 307.5L362.8 319.8L356.9 329.9L351.5 347.4L350.9 360.4L351.6 374.3L350.9 387.3L352.9 397.2L355.7 412.7L358.2 425.6L364.5 437.2L370.4 450.2L376.7 460.3L385.7 471.8L394.2 485.6L403.9 493.2L419.7 501.7L425.6 508.5L443.1 516.3L452.2 518.9L470.4 525.6L484.4 525.5L498.8 527.4L512 526.6L528 527.2L540.1 524L553.5 522.4L566.6 517.6L580.5 511.8L590 506.2L603.9 497L612.2 490.3L625.6 480.1L632.9 469.1L641.5 459.4L646.5 449.2L655.8 431.9L659.4 423.8L663 408.7L666.2 396.4L666 380.4L667.5 370.3L665.5 352.6L663.9 342.4L658.2 331.2L655.6 316.1L646.3 303.6L640.6 291.4L633 283.4L622.1 273.8L612.1 265L600.4 256.8L588.5 249L574.6 239.7L566.6 235.7L551.5 231.9L534.9 229.1L522.6 227.6L509.5 225.8L495.4 226.8L480.8 230.6Z" fill="none" stroke="#0000ff" stroke-width="1.7" stroke-dasharray="4.93 2.13" stroke-linejoin="round"/>
</g>
<path d="M223.5 636.5v9.3M342.7 636.5v9.3M461.9 636.5v9.3M581.1 636.5v9.3M700.3 636.5v9.3M819.5 636.5v9.3M223.5 576.9h-9.3M223.5 457.72h-9.3M223.5 338.53h-9.3M223.5 219.34h-9.3M223.5 100.15h-9.3" stroke="#000" stroke-width="2.35" fill="none"/>
<rect x="223.5" y="40.55" width="596" height="595.95" fill="none" stroke="#000" stroke-width="2.35"/>
<g font-size="26.7px" text-anchor="middle">
<text x="223.5" y="675.7">−6</text>
<text x="342.7" y="675.7">−4</text>
<text x="461.9" y="675.7">−2</text>
<text x="581.1" y="675.7">0</text>
<text x="700.3" y="675.7">2</text>
<text x="819.5" y="675.7">4</text>
</g>
<g font-size="26.7px" text-anchor="end">
<text x="204.9" y="587.7">−2</text>
<text x="204.9" y="468.52">0</text>
<text x="204.9" y="349.33">2</text>
<text x="204.9" y="230.14">4</text>
<text x="204.9" y="110.95">6</text>
</g>
<text x="521.1" y="24.3" font-size="32.1px" text-anchor="middle">EISL/ISPA velocity change</text>
<text transform="translate(149.1 338.52) rotate(-90)" font-size="26.7px" text-anchor="middle">North component [mm/yr]</text>
</g>
<g id="ax1">
<g clip-path="url(#cp1)">
<g shape-rendering="crispEdges">
<path fill="rgb(0,0,0)" d="M1224 354h13v13h-13z"/>
<path fill="rgb(7,7,7)" d="M1224 338h13v16h-13z"/>
<path fill="rgb(8,8,8)" d="M1224 367h13v16h-13zM1237 354h16v13h-16zM1237 338h16v16h-16z"/>
<path fill="rgb(10,10,10)" d="M1208 354h16v13h-16zM1237 367h16v16h-16z"/>
<path fill="rgb(15,15,15)" d="M1208 338h16v16h-16z"/>
<path fill="rgb(16,16,16)" d="M1253 354h14v13h-14z"/>
<path fill="rgb(20,20,20)" d="M1208 367h16v16h-16z"/>
<path fill="rgb(23,23,23)" d="M1192 354h16v13h-16z"/>
<path fill="rgb(25,25,25)" d="M1224 383h13v14h-13z"/>
<path fill="rgb(26,26,26)" d="M1253 367h14v16h-14z"/>
<path fill="rgb(27,27,27)" d="M1237 383h16v14h-16z"/>
<path fill="rgb(28,28,28)" d="M1224 322h13v16h-13zM1253 338h14v16h-14z"/>
<path fill="rgb(30,30,30)" d="M1208 322h16v16h-16zM1237 322h16v16h-16z"/>
<path fill="rgb(32,32,32)" d="M1192 367h16v16h-16z"/>
<path fill="rgb(34,34,34)" d="M1208 383h16v14h-16z"/>
<path fill="rgb(35,35,35)" d="M1192 338h16v16h-16z"/>
<path fill="rgb(42,42,42)" d="M1253 383h14v14h-14z"/>
<path fill="rgb(46,46,46)" d="M1253 322h14v16h-14z"/>
<path fill="rgb(47,47,47)" d="M1192 322h16v16h-16zM1267 338h16v16h-16z"/>
<path fill="rgb(49,49,49)" d="M1179 367h13v16h-13zM1179 354h13v13h-13z"/>
<path fill="rgb(52,52,52)" d="M1192 383h16v14h-16zM1224 397h13v16h-13z"/>
<path fill="rgb(53,53,53)" d="M1267 354h16v13h-16z"/>
<path fill="rgb(54,54,54)" d="M1267 367h16v16h-16z"/>
<path fill="rgb(55,55,55)" d="M1224 309h13v13h-13z"/>
<path fill="rgb(57,57,57)" d="M1237 397h16v16h-16zM1237 309h16v13h-16z"/>
<path fill="rgb(59,59,59)" d="M1179 338h13v16h-13z"/>
<path fill="rgb(60,60,60)" d="M1208 309h16v13h-16z"/>
<path fill="rgb(61,61,61)" d="M1208 397h16v16h-16zM1267 383h16v14h-16z"/>
<path fill="rgb(67,67,67)" d="M1179 322h13v16h-13z"/>
<path fill="rgb(71,71,71)" d="M1179 383h13v14h-13zM1267 322h16v16h-16z"/>
<path fill="rgb(74,74,74)" d="M1192 397h16v16h-16z"/>
<path fill="rgb(75,75,75)" d="M1253 309h14v13h-14z"/>
<path fill="rgb(76,76,76)" d="M1253 397h14v16h-14z"/>
<path fill="rgb(79,79,79)" d="M1163 354h16v13h-16zM1192 309h16v13h-16z"/>
<path fill="rgb(80,80,80)" d="M1283 367h13v16h-13zM1283 354h13v13h-13z"/>
<path fill="rgb(82,82,82)" d="M1283 338h13v16h-13z"/>
<path fill="rgb(83,83,83)" d="M1163 338h16v16h-16z"/>
<path fill="rgb(84,84,84)" d="M1163 367h16v16h-16z"/>
<path fill="rgb(87,87,87)" d="M1224 413h13v16h-13z"/>
<path fill="rgb(88,88,88)" d="M1224 293h13v16h-13zM1267 397h16v16h-16z"/>
<path fill="rgb(92,92,92)" d="M1208 293h16v16h-16z"/>
<path fill="rgb(94,94,94)" d="M1179 397h13v16h-13zM1179 309h13v13h-13zM1267 309h16v13h-16z"/>
<path fill="rgb(95,95,95)" d="M1208 413h16v16h-16z"/>
<path fill="rgb(96,96,96)" d="M1237 293h16v16h-16zM1283 322h13v16h-13z"/>
<path fill="rgb(98,98,98)" d="M1163 383h16v14h-16zM1237 413h16v16h-16z"/>
<path fill="rgb(100,100,100)" d="M1163 322h16v16h-16zM1253 413h14v16h-14z"/>
<path fill="rgb(101,101,101)" d="M1283 383h13v14h-13z"/>
<path fill="rgb(102,102,102)" d="M1192 413h16v16h-16z"/>
<path fill="rgb(106,106,106)" d="M1192 293h16v16h-16z"/>
<path fill="rgb(109,109,109)" d="M1253 293h14v16h-14z"/>
<path fill="rgb(112,112,112)" d="M1149 354h14v13h-14z"/>
<path fill="rgb(114,114,114)" d="M1283 309h13v13h-13zM1296 354h16v13h-16z"/>
<path fill="rgb(115,115,115)" d="M1296 338h16v16h-16z"/>
<path fill="rgb(117,117,117)" d="M1163 397h16v16h-16zM1267 413h16v16h-16zM1283 397h13v16h-13z"/>
<path fill="rgb(118,118,118)" d="M1267 293h16v16h-16z"/>
<path fill="rgb(119,119,119)" d="M1149 338h14v16h-14zM1163 309h16v13h-16zM1296 367h16v16h-16z"/>
<path fill="rgb(120,120,120)" d="M1179 413h13v16h-13z"/>
<path fill="rgb(122,122,122)" d="M1149 367h14v16h-14z"/>
<path fill="rgb(123,123,123)" d="M1179 293h13v16h-13zM1296 383h16v14h-16z"/>
<path fill="rgb(124,124,124)" d="M1224 279h13v14h-13zM1296 322h16v16h-16z"/>
<path fill="rgb(125,125,125)" d="M1224 429h13v13h-13z"/>
<path fill="rgb(128,128,128)" d="M1149 322h14v16h-14zM1237 429h16v13h-16z"/>
<path fill="rgb(129,129,129)" d="M1208 429h16v13h-16z"/>
<path fill="rgb(130,130,130)" d="M1208 279h16v14h-16z"/>
<path fill="rgb(131,131,131)" d="M1237 279h16v14h-16z"/>
<path fill="rgb(133,133,133)" d="M1149 383h14v14h-14z"/>
<path fill="rgb(135,135,135)" d="M1253 429h14v13h-14z"/>
<path fill="rgb(137,137,137)" d="M1192 429h16v13h-16z"/>
<path fill="rgb(138,138,138)" d="M1253 279h14v14h-14zM1312 354h16v13h-16z"/>
<path fill="rgb(140,140,140)" d="M1192 279h16v14h-16z"/>
<path fill="rgb(141,141,141)" d="M1283 413h13v16h-13zM1283 293h13v16h-13z"/>
<path fill="rgb(142,142,142)" d="M1163 413h16v16h-16zM1296 397h16v16h-16zM1296 309h16v13h-16z"/>
<path fill="rgb(144,144,144)" d="M1312 367h16v16h-16z"/>
<path fill="rgb(145,145,145)" d="M1149 309h14v13h-14zM1163 293h16v16h-16z"/>
<path fill="rgb(146,146,146)" d="M1133 354h16v13h-16zM1149 397h14v16h-14zM1312 338h16v16h-16z"/>
<path fill="rgb(148,148,148)" d="M1133 367h16v16h-16z"/>
<path fill="rgb(151,151,151)" d="M1133 338h16v16h-16zM1267 429h16v13h-16zM1312 322h16v16h-16z"/>
<path fill="rgb(152,152,152)" d="M1179 279h13v14h-13z"/>
<path fill="rgb(153,153,153)" d="M1179 429h13v13h-13zM1312 383h16v14h-16z"/>
<path fill="rgb(155,155,155)" d="M1267 279h16v14h-16z"/>
<path fill="rgb(157,157,157)" d="M1133 322h16v16h-16z"/>
<path fill="rgb(158,158,158)" d="M1133 383h16v14h-16z"/>
<path fill="rgb(160,160,160)" d="M1224 442h13v16h-13zM1296 413h16v16h-16z"/>
<path fill="rgb(161,161,161)" d="M1237 263h16v16h-16zM1296 293h16v16h-16z"/>
<path fill="rgb(162,162,162)" d="M1237 442h16v16h-16z"/>
<path fill="rgb(163,163,163)" d="M1149 293h14v16h-14z"/>
<path fill="rgb(165,165,165)" d="M1149 413h14v16h-14zM1208 442h16v16h-16zM1208 263h16v16h-16zM1224 263h13v16h-13z"/>
<path fill="rgb(166,166,166)" d="M1163 279h16v14h-16zM1312 309h16v13h-16z"/>
<path fill="rgb(167,167,167)" d="M1192 442h16v16h-16zM1283 429h13v13h-13z"/>
<path fill="rgb(168,168,168)" d="M1133 397h16v16h-16zM1163 429h16v13h-16zM1192 263h16v16h-16zM1253 442h14v16h-14z"/>
<path fill="rgb(169,169,169)" d="M1253 263h14v16h-14zM1312 397h16v16h-16z"/>
<path fill="rgb(170,170,170)" d="M1283 279h13v14h-13z"/>
<path fill="rgb(172,172,172)" d="M1328 354h13v13h-13z"/>
<path fill="rgb(174,174,174)" d="M1117 354h16v13h-16zM1133 309h16v13h-16zM1328 338h13v16h-13z"/>
<path fill="rgb(175,175,175)" d="M1328 367h13v16h-13z"/>
<path fill="rgb(176,176,176)" d="M1179 442h13v16h-13zM1267 442h16v16h-16z"/>
<path fill="rgb(177,177,177)" d="M1117 367h16v16h-16zM1117 338h16v16h-16z"/>
<path fill="rgb(178,178,178)" d="M1328 383h13v14h-13z"/>
<path fill="rgb(179,179,179)" d="M1328 322h13v16h-13z"/>
<path fill="rgb(180,180,180)" d="M1267 263h16v16h-16zM1312 293h16v16h-16z"/>
<path fill="rgb(181,181,181)" d="M1117 383h16v14h-16z"/>
<path fill="rgb(182,182,182)" d="M1179 263h13v16h-13zM1312 413h16v16h-16z"/>
<path fill="rgb(183,183,183)" d="M1117 322h16v16h-16zM1133 293h16v16h-16z"/>
<path fill="rgb(184,184,184)" d="M1149 429h14v13h-14zM1149 279h14v14h-14z"/>
<path fill="rgb(185,185,185)" d="M1133 413h16v16h-16zM1296 279h16v14h-16z"/>
<path fill="rgb(186,186,186)" d="M1296 429h16v13h-16z"/>
<path fill="rgb(188,188,188)" d="M1224 250h13v13h-13zM1237 458h16v13h-16zM1328 309h13v13h-13z"/>
<path fill="rgb(189,189,189)" d="M1163 442h16v16h-16zM1224 458h13v13h-13z"/>
<path fill="rgb(190,190,190)" d="M1117 397h16v16h-16zM1163 263h16v16h-16zM1208 250h16v13h-16zM1283 442h13v16h-13zM1328 397h13v16h-13z"/>
<path fill="rgb(191,191,191)" d="M1208 458h16v13h-16zM1283 263h13v16h-13z"/>
<path fill="rgb(192,192,192)" d="M1117 309h16v13h-16zM1237 250h16v13h-16z"/>
<path fill="rgb(194,194,194)" d="M1192 458h16v13h-16z"/>
<path fill="rgb(195,195,195)" d="M1192 250h16v13h-16zM1253 250h14v13h-14z"/>
<path fill="rgb(196,196,196)" d="M1312 429h16v13h-16z"/>
<path fill="rgb(197,197,197)" d="M1253 458h14v13h-14zM1341 367h16v16h-16zM1341 338h16v16h-16z"/>
<path fill="rgb(198,198,198)" d="M1296 263h16v16h-16zM1312 279h16v14h-16zM1341 354h16v13h-16z"/>
<path fill="rgb(199,199,199)" d="M1104 367h13v16h-13zM1133 279h16v14h-16z"/>
<path fill="rgb(200,200,200)" d="M1104 354h13v13h-13zM1104 338h13v16h-13zM1267 458h16v13h-16zM1341 383h16v14h-16z"/>
<path fill="rgb(201,201,201)" d="M1133 429h16v13h-16zM1149 263h14v16h-14zM1328 293h13v16h-13zM1341 322h16v16h-16z"/>
<path fill="rgb(202,202,202)" d="M1117 413h16v16h-16zM1117 293h16v16h-16zM1296 442h16v16h-16z"/>
<path fill="rgb(203,203,203)" d="M1104 383h13v14h-13zM1104 322h13v16h-13zM1149 442h14v16h-14zM1179 458h13v13h-13zM1179 250h13v13h-13z"/>
<path fill="rgb(204,204,204)" d="M1328 413h13v16h-13z"/>
<path fill="rgb(205,205,205)" d="M1267 250h16v13h-16zM1341 309h16v13h-16z"/>
<path fill="rgb(207,207,207)" d="M1283 250h13v13h-13zM1341 397h16v16h-16z"/>
<path fill="rgb(210,210,210)" d="M1104 309h13v13h-13z"/>
<path fill="rgb(211,211,211)" d="M1163 458h16v13h-16zM1163 250h16v13h-16zM1224 471h13v16h-13zM1224 234h13v16h-13zM1237 234h16v16h-16zM1283 458h13v13h-13zM1312 442h16v16h-16z"/>
<path fill="rgb(212,212,212)" d="M1104 397h13v16h-13zM1208 471h16v16h-16z"/>
<path fill="rgb(213,213,213)" d="M1192 471h16v16h-16zM1312 263h16v16h-16zM1328 429h13v13h-13z"/>
<path fill="rgb(214,214,214)" d="M1117 279h16v14h-16zM1133 263h16v16h-16zM1237 471h16v16h-16zM1328 279h13v14h-13zM1357 367h14v16h-14z"/>
<path fill="rgb(215,215,215)" d="M1117 429h16v13h-16zM1192 234h16v16h-16zM1208 234h16v16h-16zM1253 471h14v16h-14zM1357 354h14v13h-14z"/>
<path fill="rgb(216,216,216)" d="M1088 354h16v13h-16zM1267 471h16v16h-16zM1296 458h16v13h-16z"/>
<path fill="rgb(217,217,217)" d="M1088 338h16v16h-16zM1133 442h16v16h-16zM1296 250h16v13h-16zM1341 413h16v16h-16zM1357 383h14v14h-14zM1357 338h14v16h-14zM1357 322h14v16h-14z"/>
<path fill="rgb(218,218,218)" d="M1104 413h13v16h-13zM1104 293h13v16h-13zM1149 458h14v13h-14zM1149 250h14v13h-14z"/>
<path fill="rgb(219,219,219)" d="M1088 367h16v16h-16zM1179 471h13v16h-13zM1253 234h14v16h-14z"/>
<path fill="rgb(220,220,220)" d="M1088 322h16v16h-16zM1267 234h16v16h-16z"/>
<path fill="rgb(221,221,221)" d="M1088 383h16v14h-16zM1341 293h16v16h-16z"/>
<path fill="rgb(223,223,223)" d="M1179 234h13v16h-13zM1328 442h13v16h-13zM1341 429h16v13h-16zM1357 397h14v16h-14z"/>
<path fill="rgb(224,224,224)" d="M1283 471h13v16h-13zM1357 309h14v13h-14z"/>
<path fill="rgb(225,225,225)" d="M1104 279h13v14h-13zM1133 250h16v13h-16zM1163 471h16v16h-16zM1283 234h13v16h-13zM1312 250h16v13h-16zM1328 263h13v16h-13zM1341 279h16v14h-16z"/>
<path fill="rgb(226,226,226)" d="M1088 397h16v16h-16zM1117 442h16v16h-16zM1117 263h16v16h-16zM1163 234h16v16h-16zM1312 458h16v13h-16z"/>
<path fill="rgb(227,227,227)" d="M1088 309h16v13h-16zM1133 458h16v13h-16zM1357 413h14v16h-14z"/>
<path fill="rgb(228,228,228)" d="M1088 413h16v16h-16zM1104 429h13v13h-13zM1208 487h16v14h-16zM1237 487h16v14h-16zM1237 218h16v16h-16zM1371 354h16v13h-16z"/>
<path fill="rgb(229,229,229)" d="M1224 487h13v14h-13zM1224 218h13v16h-13zM1253 487h14v14h-14zM1296 471h16v16h-16zM1357 293h14v16h-14zM1371 367h16v16h-16z"/>
<path fill="rgb(230,230,230)" d="M1149 234h14v16h-14zM1192 487h16v14h-16zM1192 218h16v16h-16zM1208 218h16v16h-16zM1296 234h16v16h-16zM1371 338h16v16h-16z"/>
<path fill="rgb(231,231,231)" d="M1075 367h13v16h-13zM1075 354h13v13h-13zM1088 293h16v16h-16zM1149 471h14v16h-14zM1253 218h14v16h-14zM1371 322h16v16h-16z"/>
<path fill="rgb(232,232,232)" d="M1075 338h13v16h-13zM1075 322h13v16h-13zM1179 487h13v14h-13zM1328 250h13v13h-13z"/>
<path fill="rgb(233,233,233)" d="M1075 383h13v14h-13zM1179 218h13v16h-13zM1267 487h16v14h-16zM1267 218h16v16h-16zM1328 458h13v13h-13zM1341 442h16v16h-16zM1357 429h14v13h-14zM1371 383h16v14h-16z"/>
<path fill="rgb(234,234,234)" d="M1104 442h13v16h-13zM1117 458h16v13h-16zM1117 250h16v13h-16zM1341 263h16v16h-16z"/>
<path fill="rgb(235,235,235)" d="M1075 309h13v13h-13zM1088 429h16v13h-16zM1088 279h16v14h-16zM1104 263h13v16h-13zM1357 279h14v14h-14zM1371 397h16v16h-16zM1371 309h16v13h-16z"/>
<path fill="rgb(236,236,236)" d="M1075 397h13v16h-13zM1133 471h16v16h-16zM1163 487h16v14h-16zM1283 487h13v14h-13z"/>
<path fill="rgb(237,237,237)" d="M1133 234h16v16h-16zM1208 501h16v16h-16zM1283 218h13v16h-13zM1312 471h16v16h-16zM1312 234h16v16h-16zM1371 413h16v16h-16zM1387 338h16v16h-16z"/>
<path fill="rgb(238,238,238)" d="M1163 218h16v16h-16zM1224 501h13v16h-13zM1296 487h16v14h-16zM1341 458h16v13h-16zM1357 442h14v16h-14zM1371 293h16v16h-16zM1387 383h16v14h-16zM1387 354h16v13h-16z"/>
<path fill="rgb(239,239,239)" d="M1075 293h13v16h-13zM1117 471h16v16h-16zM1208 205h16v13h-16zM1224 205h13v13h-13zM1237 501h16v16h-16zM1237 205h16v13h-16zM1328 471h13v16h-13zM1387 367h16v16h-16zM1387 322h16v16h-16z"/>
<path fill="rgb(240,240,240)" d="M1059 338h16v16h-16zM1075 413h13v16h-13zM1088 263h16v16h-16zM1104 458h13v13h-13zM1117 234h16v16h-16zM1149 487h14v14h-14zM1149 218h14v16h-14zM1192 501h16v16h-16zM1192 205h16v13h-16zM1253 205h14v13h-14zM1341 250h16v13h-16zM1357 263h14v16h-14zM1371 279h16v14h-16z"/>
<path fill="rgb(241,241,241)" d="M1059 367h16v16h-16zM1059 354h16v13h-16zM1088 442h16v16h-16zM1104 250h13v13h-13zM1179 501h13v16h-13zM1253 501h14v16h-14zM1296 218h16v16h-16zM1371 429h16v13h-16z"/>
<path fill="rgb(242,242,242)" d="M1059 383h16v14h-16zM1059 322h16v16h-16zM1075 429h13v13h-13zM1179 205h13v13h-13zM1267 501h16v16h-16zM1312 487h16v14h-16zM1328 234h13v16h-13zM1357 250h14v13h-14zM1387 397h16v16h-16zM1387 309h16v13h-16z"/>
<path fill="rgb(243,243,243)" d="M1059 397h16v16h-16zM1059 309h16v13h-16zM1075 279h13v14h-13zM1283 205h13v13h-13z"/>
<path fill="rgb(244,244,244)" d="M1075 442h13v16h-13zM1075 263h13v16h-13zM1133 487h16v14h-16zM1133 218h16v16h-16zM1163 501h16v16h-16zM1163 205h16v13h-16zM1267 205h16v13h-16zM1283 501h13v16h-13zM1312 218h16v16h-16zM1341 471h16v16h-16zM1341 234h16v16h-16zM1403 354h13v13h-13z"/>
<path fill="rgb(245,245,245)" d="M1059 413h16v16h-16zM1088 250h16v13h-16zM1104 471h13v16h-13zM1296 501h16v16h-16zM1371 442h16v16h-16zM1387 413h16v16h-16zM1387 293h16v16h-16zM1403 367h13v16h-13z"/>
<path fill="rgb(246,246,246)" d="M1043 367h16v16h-16zM1043 322h16v16h-16zM1059 293h16v16h-16zM1088 458h16v13h-16zM1104 234h13v16h-13zM1117 487h16v14h-16zM1149 205h14v13h-14zM1179 189h13v16h-13zM1224 189h13v16h-13zM1253 517h14v16h-14zM1296 205h16v13h-16zM1357 458h14v13h-14zM1371 263h16v16h-16zM1387 429h16v13h-16zM1387 279h16v14h-16zM1403 383h13v14h-13zM1403 338h13v16h-13zM1403 309h13v13h-13z"/>
<path fill="rgb(247,247,247)" d="M1043 383h16v14h-16zM1043 354h16v13h-16zM1043 338h16v16h-16zM1059 429h16v13h-16zM1059 279h16v14h-16zM1117 218h16v16h-16zM1149 501h14v16h-14zM1179 517h13v16h-13zM1192 517h16v16h-16zM1192 189h16v16h-16zM1208 517h16v16h-16zM1208 189h16v16h-16zM1224 517h13v16h-13zM1237 517h16v16h-16zM1237 189h16v16h-16zM1253 189h14v16h-14zM1312 205h16v13h-16zM1328 487h13v14h-13zM1328 218h13v16h-13zM1357 471h14v16h-14zM1403 322h13v16h-13z"/>
<path fill="rgb(248,248,248)" d="M1043 413h16v16h-16zM1043 309h16v13h-16zM1043 293h16v16h-16zM1075 458h13v13h-13zM1088 471h16v16h-16zM1088 234h16v16h-16zM1104 487h13v14h-13zM1104 218h13v16h-13zM1133 501h16v16h-16zM1133 205h16v13h-16zM1163 517h16v16h-16zM1267 189h16v16h-16zM1312 501h16v16h-16zM1357 234h14v16h-14zM1387 442h16v16h-16zM1403 413h13v16h-13zM1403 397h13v16h-13z"/>
<path fill="rgb(249,249,249)" d="M1029 354h14v13h-14zM1043 397h16v16h-16zM1075 250h13v13h-13zM1163 189h16v16h-16zM1267 517h16v16h-16zM1283 517h13v16h-13zM1283 189h13v16h-13zM1341 487h16v14h-16zM1341 218h16v16h-16zM1371 458h16v13h-16zM1371 250h16v13h-16zM1403 293h13v16h-13zM1416 354h16v13h-16zM1416 338h16v16h-16z"/>
<path fill="rgb(250,250,250)" d="M1029 397h14v16h-14zM1029 383h14v14h-14zM1029 367h14v16h-14zM1029 338h14v16h-14zM1029 322h14v16h-14zM1059 442h16v16h-16zM1059 263h16v16h-16zM1117 501h16v16h-16zM1117 205h16v13h-16zM1149 189h14v16h-14zM1192 533h16v13h-16zM1192 175h16v14h-16zM1224 533h13v13h-13zM1224 175h13v14h-13zM1253 175h14v14h-14zM1267 175h16v14h-16zM1296 517h16v16h-16zM1296 189h16v16h-16zM1328 501h13v16h-13zM1387 263h16v16h-16zM1403 429h13v13h-13zM1403 279h13v14h-13zM1416 383h16v14h-16zM1416 367h16v16h-16zM1416 322h16v16h-16zM1416 309h16v13h-16z"/>
<path fill="rgb(251,251,251)" d="M1043 442h16v16h-16zM1043 429h16v13h-16zM1043 279h16v14h-16zM1043 263h16v16h-16zM1059 458h16v13h-16zM1059 250h16v13h-16zM1075 471h13v16h-13zM1075 234h13v16h-13zM1088 487h16v14h-16zM1088 218h16v16h-16zM1104 501h13v16h-13zM1104 205h13v13h-13zM1133 517h16v16h-16zM1133 189h16v16h-16zM1149 517h14v16h-14zM1179 533h13v13h-13zM1179 175h13v14h-13zM1208 533h16v13h-16zM1208 175h16v14h-16zM1237 533h16v13h-16zM1237 175h16v14h-16zM1253 533h14v13h-14zM1267 533h16v13h-16zM1312 517h16v16h-16zM1312 189h16v16h-16zM1328 205h13v13h-13zM1341 205h16v13h-16zM1357 487h14v14h-14zM1357 218h14v16h-14zM1371 471h16v16h-16zM1371 234h16v16h-16zM1387 458h16v13h-16zM1387 250h16v13h-16zM1403 263h13v16h-13zM1416 413h16v16h-16zM1416 397h16v16h-16zM1416 293h16v16h-16z"/>
<path fill="rgb(252,252,252)" d="M1013 383h16v14h-16zM1013 367h16v16h-16zM1013 354h16v13h-16zM1013 338h16v16h-16zM1029 429h14v13h-14zM1029 413h14v16h-14zM1029 309h14v13h-14zM1029 293h14v16h-14zM1029 279h14v14h-14zM1059 234h16v16h-16zM1075 218h13v16h-13zM1104 189h13v16h-13zM1117 517h16v16h-16zM1117 189h16v16h-16zM1149 533h14v13h-14zM1149 175h14v14h-14zM1163 533h16v13h-16zM1208 546h16v16h-16zM1224 546h13v16h-13zM1237 159h16v16h-16zM1283 533h13v13h-13zM1283 175h13v14h-13zM1328 517h13v16h-13zM1328 189h13v16h-13zM1341 517h16v16h-16zM1341 501h16v16h-16zM1357 501h14v16h-14zM1357 205h14v13h-14zM1371 487h16v14h-16zM1371 218h16v16h-16zM1387 471h16v16h-16zM1387 234h16v16h-16zM1403 442h13v16h-13zM1416 429h16v13h-16zM1432 397h13v16h-13zM1432 383h13v14h-13zM1432 367h13v16h-13zM1432 354h13v13h-13zM1432 322h13v16h-13z"/>
<path fill="rgb(253,253,253)" d="M1000 367h13v16h-13zM1000 354h13v13h-13zM1013 397h16v16h-16zM1013 322h16v16h-16zM1013 309h16v13h-16zM1013 293h16v16h-16zM1029 442h14v16h-14zM1029 263h14v16h-14zM1043 458h16v13h-16zM1043 250h16v13h-16zM1043 234h16v16h-16zM1059 487h16v14h-16zM1059 471h16v16h-16zM1059 218h16v16h-16zM1075 501h13v16h-13zM1075 487h13v14h-13zM1088 501h16v16h-16zM1088 205h16v13h-16zM1088 189h16v16h-16zM1104 517h13v16h-13zM1117 533h16v13h-16zM1117 175h16v14h-16zM1133 533h16v13h-16zM1133 175h16v14h-16zM1149 546h14v16h-14zM1149 159h14v16h-14zM1163 546h16v16h-16zM1163 175h16v14h-16zM1179 546h13v16h-13zM1179 159h13v16h-13zM1192 546h16v16h-16zM1192 159h16v16h-16zM1208 159h16v16h-16zM1224 159h13v16h-13zM1237 546h16v16h-16zM1253 546h14v16h-14zM1253 159h14v16h-14zM1267 546h16v16h-16zM1267 159h16v16h-16zM1283 546h13v16h-13zM1283 159h13v16h-13zM1296 546h16v16h-16zM1296 533h16v13h-16zM1296 175h16v14h-16zM1312 533h16v13h-16zM1312 175h16v14h-16zM1328 533h13v13h-13zM1328 175h13v14h-13zM1341 189h16v16h-16zM1357 517h14v16h-14zM1357 189h14v16h-14zM1387 487h16v14h-16zM1387 218h16v16h-16zM1403 471h13v16h-13zM1403 458h13v13h-13zM1403 250h13v13h-13zM1403 234h13v16h-13zM1416 458h16v13h-16zM1416 442h16v16h-16zM1416 279h16v14h-16zM1416 263h16v16h-16zM1432 429h13v13h-13zM1432 413h13v16h-13zM1432 338h13v16h-13zM1432 309h13v13h-13zM1432 293h13v16h-13zM1445 354h16v13h-16z"/>
<path fill="rgb(254,254,254)" d="M984 413h16v16h-16zM984 383h16v14h-16zM984 354h16v13h-16zM984 338h16v16h-16zM984 322h16v16h-16zM984 309h16v13h-16zM1000 429h13v13h-13zM1000 413h13v16h-13zM1000 397h13v16h-13zM1000 383h13v14h-13zM1000 338h13v16h-13zM1000 322h13v16h-13zM1000 309h13v13h-13zM1000 293h13v16h-13zM1000 279h13v14h-13zM1000 263h13v16h-13zM1013 458h16v13h-16zM1013 442h16v16h-16zM1013 429h16v13h-16zM1013 413h16v16h-16zM1013 279h16v14h-16zM1013 263h16v16h-16zM1013 250h16v13h-16zM1029 501h14v16h-14zM1029 487h14v14h-14zM1029 471h14v16h-14zM1029 458h14v13h-14zM1029 250h14v13h-14zM1029 234h14v16h-14zM1029 218h14v16h-14zM1043 487h16v14h-16zM1043 471h16v16h-16zM1043 218h16v16h-16zM1059 517h16v16h-16zM1059 501h16v16h-16zM1059 205h16v13h-16zM1059 189h16v16h-16zM1075 517h13v16h-13zM1075 205h13v13h-13zM1075 189h13v16h-13zM1075 175h13v14h-13zM1088 533h16v13h-16zM1088 517h16v16h-16zM1088 175h16v14h-16zM1104 546h13v16h-13zM1104 533h13v13h-13zM1104 175h13v14h-13zM1104 159h13v16h-13zM1133 562h16v13h-16zM1133 546h16v16h-16zM1133 159h16v16h-16zM1149 562h14v13h-14zM1149 143h14v16h-14zM1163 562h16v13h-16zM1163 159h16v16h-16zM1163 143h16v16h-16zM1179 575h13v16h-13zM1179 562h13v13h-13zM1179 143h13v16h-13zM1192 575h16v16h-16zM1192 562h16v13h-16zM1192 143h16v16h-16zM1208 562h16v13h-16zM1208 143h16v16h-16zM1208 130h16v13h-16zM1224 562h13v13h-13zM1224 143h13v16h-13zM1224 130h13v13h-13zM1237 575h16v16h-16zM1237 562h16v13h-16zM1237 143h16v16h-16zM1253 562h14v13h-14zM1253 143h14v16h-14zM1253 130h14v13h-14zM1267 562h16v13h-16zM1267 143h16v16h-16zM1283 562h13v13h-13zM1283 143h13v16h-13zM1296 562h16v13h-16zM1296 159h16v16h-16zM1312 562h16v13h-16zM1312 546h16v16h-16zM1312 159h16v16h-16zM1328 159h13v16h-13zM1341 546h16v16h-16zM1341 533h16v13h-16zM1341 175h16v14h-16zM1357 533h14v13h-14zM1357 175h14v14h-14zM1371 517h16v16h-16zM1371 501h16v16h-16zM1371 205h16v13h-16zM1371 189h16v16h-16zM1387 517h16v16h-16zM1387 501h16v16h-16zM1387 205h16v13h-16zM1387 189h16v16h-16zM1403 501h13v16h-13zM1403 487h13v14h-13zM1403 218h13v16h-13zM1416 487h16v14h-16zM1416 471h16v16h-16zM1416 250h16v13h-16zM1416 234h16v16h-16zM1416 218h16v16h-16zM1432 458h13v13h-13zM1432 442h13v16h-13zM1432 279h13v14h-13zM1432 263h13v16h-13zM1432 250h13v13h-13zM1445 442h16v16h-16zM1445 429h16v13h-16zM1445 413h16v16h-16zM1445 397h16v16h-16zM1445 383h16v14h-16zM1445 367h16v16h-16zM1445 338h16v16h-16zM1445 322h16v16h-16zM1445 309h16v13h-16zM1445 293h16v16h-16zM1445 279h16v14h-16zM1461 413h14v16h-14zM1461 383h14v14h-14zM1461 367h14v16h-14zM1461 354h14v13h-14zM1461 338h14v16h-14zM1461 309h14v13h-14zM1461 293h14v16h-14z"/>
</g>
<circle cx="1296.14" cy="219.34" r="8" fill="#ff0000"/>
<path d="M1329.9 349.7L1325.7 334.8L1319.5 320.9L1316 312.6L1305.2 299L1295 289.1L1284.2 283L1271 277.7L1255.3 273.7L1245.4 271.3L1226.7 269.5L1214.3 270.2L1202.3 273.6L1187.4 277L1176.3 284.4L1165.5 291.8L1153.5 300.7L1143.2 314.6L1138.2 323.6L1132.2 335.1L1130.1 349.8L1128.1 359.9L1129.6 377L1132.8 386.7L1139.7 403L1148 413.8L1157.4 423.8L1165 430L1178.1 440.2L1191.9 446.9L1205.5 450.6L1219.9 453.8L1229.7 454.8L1244.2 451.8L1256.2 449.9L1270.9 446L1287.4 435.7L1294.4 431.8L1305.1 422.3L1315.4 407.7L1321.9 399.1L1325.7 386.2L1330.4 370.7L1330.6 357.5Z" fill="none" stroke="#0000ff" stroke-width="2.45" stroke-linejoin="round"/>
<path d="M1074.5 308.7L1073.1 317.3L1067.8 335.7L1068 345.8L1068.1 362.4L1065.9 374.6L1068.8 383.6L1070.9 397.9L1073.9 411.7L1083.3 426.6L1091.3 437.4L1094.6 445.2L1107 459.3L1118.4 469.6L1125.8 474.9L1142.5 483.5L1152.1 489.2L1162.2 495.5L1178.8 503.7L1189.6 504.8L1210.2 509.2L1221.5 508.1L1236.9 508.2L1251.7 508.5L1264.5 507.2L1278.6 503L1295.2 496.9L1304.7 494.2L1319.7 487.6L1329.5 478.9L1339.7 471.2L1351.1 460.2L1361 446.4L1371.6 435.4L1377.3 424.3L1382 413.4L1385.7 401.8L1389.5 389.7L1394.2 376.7L1394.6 360.2L1393.1 352.1L1392.7 335.1L1389.5 322.8L1382.2 307.6L1379.3 297.9L1372.1 286.7L1361.6 276.9L1352.5 266.2L1343 252.8L1333.7 244.6L1323.2 238.7L1310.6 232.5L1293.4 224.3L1279.4 217.8L1266.4 216.8L1250.8 212.1L1241.8 213.7L1226.9 212.5L1212.7 212.2L1195.1 215L1182.6 218L1167.3 223L1153.8 227.5L1138.8 236.7L1131.3 244.6L1121.4 252.6L1106.8 265.4L1098.2 275.3L1090.9 284.7L1083.1 293.4Z" fill="none" stroke="#0000ff" stroke-width="1.7" stroke-dasharray="4.93 2.13" stroke-linejoin="round"/>
</g>
<path d="M938.6 636.5v9.3M1057.78 636.5v9.3M1176.96 636.5v9.3M1296.14 636.5v9.3M1415.32 636.5v9.3M1534.5 636.5v9.3M938.6 576.9h-9.3M938.6 457.72h-9.3M938.6 338.53h-9.3M938.6 219.34h-9.3M938.6 100.15h-9.3" stroke="#000" stroke-width="2.35" fill="none"/>
<rect x="938.6" y="40.55" width="595.9" height="595.95" fill="none" stroke="#000" stroke-width="2.35"/>
<g font-size="26.7px" text-anchor="middle">
<text x="938.6" y="675.7">−6</text>
<text x="1057.78" y="675.7">−4</text>
<text x="1176.96" y="675.7">−2</text>
<text x="1296.14" y="675.7">0</text>
<text x="1415.32" y="675.7">2</text>
<text x="1534.5" y="675.7">4</text>
</g>
<g font-size="26.7px" text-anchor="end">
<text x="920" y="587.7">−6</text>
<text x="920" y="468.52">−4</text>
<text x="920" y="349.33">−2</text>
<text x="920" y="230.14">0</text>
<text x="920" y="110.95">2</text>
</g>
<text x="1236.15" y="24.3" font-size="32.1px" text-anchor="middle">GALA/GLPS velocity change</text>
</g>
<g id="ax2">
<g clip-path="url(#cp2)">
<ellipse cx="549.7" cy="1105.23" rx="306.88" ry="280.68" fill="url(#rg2)"/>
<circle cx="438.96" cy="1162.45" r="7.89" fill="#ff0000"/>
<path d="M531.8 1008.1L504 1018.3L488.1 1026.3L462.5 1047.5L447.7 1073.1L443.3 1095.7L444.3 1117.3L449.7 1141.3L466.9 1167.7L485.5 1182.7L507.3 1195.9L539.1 1202.8L569.9 1199.4L587.4 1195.5L622.1 1179.4L636 1164.8L649.2 1142.9L655.5 1121.1L653.7 1084.5L646.9 1066.8L634.6 1046.8L614.3 1029.4L590.6 1016.6L561 1008.3Z" fill="none" stroke="#0000ff" stroke-width="2.42" stroke-linejoin="round"/>
<path d="M515.9 1259.7L545.8 1265.1L574.1 1263.6L612.1 1250.8L646.1 1233.9L667.5 1220.2L688.9 1197.8L708.8 1174.3L717 1143.5L724.9 1113.3L720.6 1075L706.9 1039.6L695.4 1020.2L676.9 996.4L640.8 970.5L614.3 956L579.8 947.9L550.4 948.8L519.2 948.4L485.6 958.2L457.7 970.5L430 987.7L405.3 1021.7L391.2 1046.9L380.2 1080.2L374.5 1098L382.5 1135.8L387.2 1164.5L399.5 1188.8L422.1 1215.1L451.3 1233.7L480.7 1248.7Z" fill="none" stroke="#0000ff" stroke-width="1.68" stroke-dasharray="4.86 2.1" stroke-linejoin="round"/>
</g>
<path d="M302.24 1394.6v9.18M438.96 1394.6v9.18M575.68 1394.6v9.18M712.4 1394.6v9.18M247.55 1367.29h-9.18M247.55 1299.01h-9.18M247.55 1230.73h-9.18M247.55 1162.45h-9.18M247.55 1094.17h-9.18M247.55 1025.89h-9.18M247.55 957.61h-9.18M247.55 889.33h-9.18M247.55 821.06h-9.18" stroke="#000" stroke-width="2.32" fill="none"/>
<rect x="247.55" y="807.4" width="587.9" height="587.2" fill="none" stroke="#000" stroke-width="2.32"/>
<g font-size="26.34px" text-anchor="middle">
<text x="302.54" y="1433.8">−5</text>
<text x="439.26" y="1433.8">0</text>
<text x="575.98" y="1433.8">5</text>
<text x="712.7" y="1433.8">10</text>
</g>
<g font-size="26.34px" text-anchor="end">
<text x="229.2" y="1377.84">−7.5</text>
<text x="229.2" y="1309.56">−5.0</text>
<text x="229.2" y="1241.28">−2.5</text>
<text x="229.2" y="1173">0.0</text>
<text x="229.2" y="1104.72">2.5</text>
<text x="229.2" y="1036.44">5.0</text>
<text x="229.2" y="968.16">7.5</text>
<text x="229.2" y="899.88">10.0</text>
<text x="229.2" y="831.61">12.5</text>
</g>
<text x="541.1" y="791" font-size="31.54px" text-anchor="middle">BRAZ velocity change</text>
<text transform="translate(149.9 1101) rotate(-90)" font-size="26.34px" text-anchor="middle">North component [mm/yr]</text>
</g>
<g id="ax3">
<g clip-path="url(#cp3)">
<g shape-rendering="crispEdges">
<path fill="rgb(0,0,0)" d="M1247 1111h11v8h-11z"/>
<path fill="rgb(6,6,6)" d="M1229 1090h8v10h-8z"/>
<path fill="rgb(8,8,8)" d="M1237 1100h10v11h-10z"/>
<path fill="rgb(9,9,9)" d="M1258 1090h10v10h-10z"/>
<path fill="rgb(10,10,10)" d="M1237 1111h10v8h-10zM1237 1090h10v10h-10z"/>
<path fill="rgb(12,12,12)" d="M1247 1090h11v10h-11z"/>
<path fill="rgb(13,13,13)" d="M1229 1111h8v8h-8zM1247 1100h11v11h-11z"/>
<path fill="rgb(15,15,15)" d="M1229 1100h8v11h-8zM1229 1079h8v11h-8zM1258 1100h10v11h-10z"/>
<path fill="rgb(17,17,17)" d="M1218 1090h11v10h-11z"/>
<path fill="rgb(19,19,19)" d="M1268 1100h8v11h-8z"/>
<path fill="rgb(20,20,20)" d="M1258 1111h10v8h-10z"/>
<path fill="rgb(21,21,21)" d="M1247 1119h11v10h-11z"/>
<path fill="rgb(22,22,22)" d="M1258 1079h10v11h-10z"/>
<path fill="rgb(23,23,23)" d="M1218 1100h11v11h-11zM1247 1079h11v11h-11zM1268 1090h8v10h-8z"/>
<path fill="rgb(24,24,24)" d="M1218 1079h11v11h-11zM1237 1119h10v10h-10zM1237 1079h10v11h-10z"/>
<path fill="rgb(26,26,26)" d="M1218 1111h11v8h-11z"/>
<path fill="rgb(28,28,28)" d="M1247 1071h11v8h-11z"/>
<path fill="rgb(31,31,31)" d="M1258 1119h10v10h-10z"/>
<path fill="rgb(32,32,32)" d="M1237 1071h10v8h-10zM1268 1111h8v8h-8z"/>
<path fill="rgb(33,33,33)" d="M1218 1119h11v10h-11zM1229 1119h8v10h-8zM1276 1111h11v8h-11z"/>
<path fill="rgb(34,34,34)" d="M1208 1100h10v11h-10zM1208 1090h10v10h-10z"/>
<path fill="rgb(35,35,35)" d="M1200 1100h8v11h-8zM1268 1079h8v11h-8zM1276 1090h11v10h-11z"/>
<path fill="rgb(36,36,36)" d="M1200 1090h8v10h-8zM1208 1111h10v8h-10zM1258 1071h10v8h-10z"/>
<path fill="rgb(38,38,38)" d="M1208 1079h10v11h-10zM1229 1071h8v8h-8zM1276 1100h11v11h-11z"/>
<path fill="rgb(41,41,41)" d="M1237 1129h10v11h-10z"/>
<path fill="rgb(42,42,42)" d="M1200 1111h8v8h-8zM1208 1119h10v10h-10z"/>
<path fill="rgb(44,44,44)" d="M1258 1129h10v11h-10z"/>
<path fill="rgb(45,45,45)" d="M1229 1129h8v11h-8zM1268 1119h8v10h-8zM1287 1111h10v8h-10z"/>
<path fill="rgb(47,47,47)" d="M1218 1071h11v8h-11zM1247 1129h11v11h-11zM1276 1079h11v11h-11z"/>
<path fill="rgb(48,48,48)" d="M1247 1061h11v10h-11z"/>
<path fill="rgb(50,50,50)" d="M1276 1119h11v10h-11z"/>
<path fill="rgb(51,51,51)" d="M1208 1071h10v8h-10z"/>
<path fill="rgb(53,53,53)" d="M1190 1100h10v11h-10zM1287 1100h10v11h-10z"/>
<path fill="rgb(54,54,54)" d="M1237 1061h10v10h-10zM1268 1071h8v8h-8z"/>
<path fill="rgb(55,55,55)" d="M1208 1129h10v11h-10zM1218 1129h11v11h-11z"/>
<path fill="rgb(56,56,56)" d="M1190 1111h10v8h-10z"/>
<path fill="rgb(57,57,57)" d="M1190 1090h10v10h-10zM1229 1061h8v10h-8zM1268 1129h8v11h-8z"/>
<path fill="rgb(58,58,58)" d="M1200 1079h8v11h-8zM1258 1061h10v10h-10zM1276 1071h11v8h-11z"/>
<path fill="rgb(59,59,59)" d="M1190 1119h10v10h-10zM1287 1079h10v11h-10z"/>
<path fill="rgb(60,60,60)" d="M1229 1140h8v10h-8zM1247 1140h11v10h-11z"/>
<path fill="rgb(61,61,61)" d="M1237 1140h10v10h-10z"/>
<path fill="rgb(62,62,62)" d="M1200 1119h8v10h-8z"/>
<path fill="rgb(64,64,64)" d="M1287 1090h10v10h-10z"/>
<path fill="rgb(65,65,65)" d="M1287 1119h10v10h-10z"/>
<path fill="rgb(66,66,66)" d="M1200 1071h8v8h-8z"/>
<path fill="rgb(67,67,67)" d="M1190 1079h10v11h-10zM1200 1129h8v11h-8zM1208 1061h10v10h-10zM1287 1071h10v8h-10zM1297 1090h11v10h-11z"/>
<path fill="rgb(68,68,68)" d="M1297 1111h11v8h-11z"/>
<path fill="rgb(69,69,69)" d="M1218 1061h11v10h-11z"/>
<path fill="rgb(71,71,71)" d="M1179 1100h11v11h-11zM1258 1140h10v10h-10z"/>
<path fill="rgb(72,72,72)" d="M1268 1061h8v10h-8zM1276 1129h11v11h-11z"/>
<path fill="rgb(73,73,73)" d="M1287 1129h10v11h-10zM1297 1100h11v11h-11z"/>
<path fill="rgb(74,74,74)" d="M1179 1090h11v10h-11zM1190 1071h10v8h-10zM1237 1050h10v11h-10zM1247 1050h11v11h-11zM1297 1079h11v11h-11z"/>
<path fill="rgb(75,75,75)" d="M1200 1061h8v10h-8zM1218 1140h11v10h-11zM1247 1150h11v8h-11zM1268 1140h8v10h-8z"/>
<path fill="rgb(76,76,76)" d="M1208 1140h10v10h-10zM1297 1119h11v10h-11z"/>
<path fill="rgb(77,77,77)" d="M1190 1129h10v11h-10z"/>
<path fill="rgb(78,78,78)" d="M1179 1111h11v8h-11z"/>
<path fill="rgb(81,81,81)" d="M1179 1079h11v11h-11zM1276 1061h11v10h-11z"/>
<path fill="rgb(82,82,82)" d="M1237 1150h10v8h-10z"/>
<path fill="rgb(85,85,85)" d="M1208 1050h10v11h-10zM1218 1050h11v11h-11zM1229 1150h8v8h-8zM1308 1111h8v8h-8z"/>
<path fill="rgb(86,86,86)" d="M1308 1100h8v11h-8z"/>
<path fill="rgb(87,87,87)" d="M1229 1050h8v11h-8zM1276 1140h11v10h-11z"/>
<path fill="rgb(88,88,88)" d="M1297 1129h11v11h-11zM1297 1071h11v8h-11z"/>
<path fill="rgb(89,89,89)" d="M1258 1150h10v8h-10zM1308 1090h8v10h-8z"/>
<path fill="rgb(90,90,90)" d="M1200 1140h8v10h-8zM1258 1050h10v11h-10zM1308 1079h8v11h-8z"/>
<path fill="rgb(92,92,92)" d="M1179 1119h11v10h-11zM1179 1071h11v8h-11zM1308 1119h8v10h-8z"/>
<path fill="rgb(93,93,93)" d="M1179 1129h11v11h-11zM1268 1050h8v11h-8zM1287 1061h10v10h-10z"/>
<path fill="rgb(94,94,94)" d="M1169 1111h10v8h-10zM1268 1150h8v8h-8zM1287 1140h10v10h-10z"/>
<path fill="rgb(95,95,95)" d="M1169 1090h10v10h-10zM1218 1150h11v8h-11z"/>
<path fill="rgb(96,96,96)" d="M1169 1100h10v11h-10zM1190 1061h10v10h-10z"/>
<path fill="rgb(97,97,97)" d="M1190 1140h10v10h-10z"/>
<path fill="rgb(98,98,98)" d="M1200 1050h8v11h-8zM1276 1050h11v11h-11z"/>
<path fill="rgb(100,100,100)" d="M1258 1042h10v8h-10zM1316 1079h10v11h-10z"/>
<path fill="rgb(101,101,101)" d="M1229 1042h8v8h-8zM1276 1150h11v8h-11zM1316 1100h10v11h-10z"/>
<path fill="rgb(102,102,102)" d="M1237 1042h10v8h-10zM1308 1071h8v8h-8z"/>
<path fill="rgb(103,103,103)" d="M1169 1079h10v11h-10zM1200 1150h8v8h-8zM1208 1150h10v8h-10zM1297 1061h11v10h-11z"/>
<path fill="rgb(104,104,104)" d="M1179 1061h11v10h-11zM1316 1111h10v8h-10zM1316 1090h10v10h-10z"/>
<path fill="rgb(105,105,105)" d="M1247 1042h11v8h-11zM1308 1129h8v11h-8z"/>
<path fill="rgb(107,107,107)" d="M1169 1119h10v10h-10z"/>
<path fill="rgb(109,109,109)" d="M1161 1111h8v8h-8zM1297 1140h11v10h-11z"/>
<path fill="rgb(110,110,110)" d="M1161 1100h8v11h-8zM1218 1042h11v8h-11zM1237 1158h10v11h-10zM1247 1158h11v11h-11zM1308 1061h8v10h-8z"/>
<path fill="rgb(111,111,111)" d="M1297 1050h11v11h-11z"/>
<path fill="rgb(112,112,112)" d="M1169 1071h10v8h-10zM1229 1158h8v11h-8z"/>
<path fill="rgb(113,113,113)" d="M1161 1079h8v11h-8zM1258 1158h10v11h-10zM1268 1042h8v8h-8z"/>
<path fill="rgb(114,114,114)" d="M1161 1090h8v10h-8zM1179 1140h11v10h-11zM1190 1150h10v8h-10zM1190 1050h10v11h-10zM1287 1050h10v11h-10zM1316 1119h10v10h-10zM1316 1071h10v8h-10z"/>
<path fill="rgb(115,115,115)" d="M1169 1129h10v11h-10zM1169 1061h10v10h-10zM1268 1158h8v11h-8zM1287 1150h10v8h-10z"/>
<path fill="rgb(116,116,116)" d="M1208 1158h10v11h-10z"/>
<path fill="rgb(118,118,118)" d="M1316 1129h10v11h-10z"/>
<path fill="rgb(119,119,119)" d="M1308 1140h8v10h-8z"/>
<path fill="rgb(121,121,121)" d="M1208 1042h10v8h-10zM1276 1042h11v8h-11zM1326 1100h11v11h-11zM1326 1090h11v10h-11z"/>
<path fill="rgb(122,122,122)" d="M1218 1158h11v11h-11zM1326 1119h11v10h-11z"/>
<path fill="rgb(123,123,123)" d="M1161 1119h8v10h-8zM1297 1150h11v8h-11zM1326 1079h11v11h-11z"/>
<path fill="rgb(125,125,125)" d="M1247 1032h11v10h-11z"/>
<path fill="rgb(126,126,126)" d="M1169 1140h10v10h-10z"/>
<path fill="rgb(127,127,127)" d="M1276 1158h11v11h-11z"/>
<path fill="rgb(128,128,128)" d="M1287 1042h10v8h-10zM1316 1140h10v10h-10zM1316 1061h10v10h-10z"/>
<path fill="rgb(129,129,129)" d="M1150 1090h11v10h-11zM1179 1050h11v11h-11zM1326 1111h11v8h-11z"/>
<path fill="rgb(130,130,130)" d="M1150 1100h11v11h-11zM1161 1129h8v11h-8zM1200 1042h8v8h-8zM1237 1032h10v10h-10zM1287 1158h10v11h-10z"/>
<path fill="rgb(131,131,131)" d="M1229 1032h8v10h-8z"/>
<path fill="rgb(132,132,132)" d="M1161 1071h8v8h-8zM1218 1032h11v10h-11z"/>
<path fill="rgb(133,133,133)" d="M1179 1150h11v8h-11zM1190 1042h10v8h-10zM1200 1158h8v11h-8zM1208 1032h10v10h-10zM1258 1032h10v10h-10z"/>
<path fill="rgb(134,134,134)" d="M1150 1111h11v8h-11zM1247 1169h11v10h-11zM1326 1071h11v8h-11z"/>
<path fill="rgb(135,135,135)" d="M1161 1061h8v10h-8zM1308 1050h8v11h-8z"/>
<path fill="rgb(136,136,136)" d="M1150 1079h11v11h-11zM1190 1158h10v11h-10zM1229 1169h8v10h-8z"/>
<path fill="rgb(137,137,137)" d="M1258 1169h10v10h-10zM1308 1150h8v8h-8z"/>
<path fill="rgb(138,138,138)" d="M1150 1071h11v8h-11zM1237 1169h10v10h-10zM1337 1111h10v8h-10z"/>
<path fill="rgb(139,139,139)" d="M1326 1129h11v11h-11z"/>
<path fill="rgb(140,140,140)" d="M1150 1119h11v10h-11zM1169 1050h10v11h-10zM1268 1032h8v10h-8zM1337 1100h10v11h-10z"/>
<path fill="rgb(141,141,141)" d="M1268 1169h8v10h-8zM1326 1061h11v10h-11z"/>
<path fill="rgb(142,142,142)" d="M1140 1100h10v11h-10zM1161 1140h8v10h-8zM1337 1090h10v10h-10z"/>
<path fill="rgb(143,143,143)" d="M1179 1042h11v8h-11zM1218 1169h11v10h-11zM1276 1169h11v10h-11zM1276 1032h11v10h-11zM1297 1042h11v8h-11z"/>
<path fill="rgb(144,144,144)" d="M1297 1158h11v11h-11zM1326 1140h11v10h-11zM1337 1079h10v11h-10z"/>
<path fill="rgb(146,146,146)" d="M1150 1129h11v11h-11zM1316 1050h10v11h-10zM1337 1071h10v8h-10z"/>
<path fill="rgb(147,147,147)" d="M1200 1032h8v10h-8zM1208 1169h10v10h-10zM1308 1042h8v8h-8zM1337 1119h10v10h-10z"/>
<path fill="rgb(148,148,148)" d="M1140 1090h10v10h-10zM1161 1050h8v11h-8zM1237 1021h10v11h-10zM1287 1032h10v10h-10z"/>
<path fill="rgb(149,149,149)" d="M1140 1119h10v10h-10z"/>
<path fill="rgb(150,150,150)" d="M1140 1111h10v8h-10zM1169 1150h10v8h-10z"/>
<path fill="rgb(151,151,151)" d="M1150 1140h11v10h-11z"/>
<path fill="rgb(152,152,152)" d="M1218 1021h11v11h-11zM1258 1021h10v11h-10zM1308 1158h8v11h-8zM1316 1150h10v8h-10zM1347 1100h8v11h-8z"/>
<path fill="rgb(153,153,153)" d="M1150 1061h11v10h-11zM1179 1158h11v11h-11zM1247 1021h11v11h-11zM1297 1032h11v10h-11z"/>
<path fill="rgb(154,154,154)" d="M1161 1150h8v8h-8zM1200 1169h8v10h-8zM1287 1169h10v10h-10z"/>
<path fill="rgb(155,155,155)" d="M1140 1079h10v11h-10zM1229 1021h8v11h-8zM1337 1129h10v11h-10z"/>
<path fill="rgb(156,156,156)" d="M1190 1032h10v10h-10zM1237 1179h10v8h-10zM1268 1021h8v11h-8z"/>
<path fill="rgb(157,157,157)" d="M1169 1042h10v8h-10zM1326 1050h11v11h-11zM1347 1090h8v10h-8z"/>
<path fill="rgb(159,159,159)" d="M1169 1158h10v11h-10zM1268 1179h8v8h-8z"/>
<path fill="rgb(160,160,160)" d="M1297 1169h11v10h-11z"/>
<path fill="rgb(161,161,161)" d="M1179 1032h11v10h-11zM1190 1169h10v10h-10zM1247 1179h11v8h-11zM1258 1179h10v8h-10zM1316 1042h10v8h-10zM1326 1150h11v8h-11zM1347 1119h8v10h-8z"/>
<path fill="rgb(162,162,162)" d="M1140 1129h10v11h-10zM1229 1179h8v8h-8zM1347 1111h8v8h-8z"/>
<path fill="rgb(163,163,163)" d="M1140 1071h10v8h-10zM1200 1021h8v11h-8zM1218 1179h11v8h-11z"/>
<path fill="rgb(164,164,164)" d="M1129 1111h11v8h-11zM1208 1021h10v11h-10zM1337 1061h10v10h-10z"/>
<path fill="rgb(165,165,165)" d="M1129 1100h11v11h-11zM1150 1150h11v8h-11zM1208 1179h10v8h-10zM1276 1179h11v8h-11zM1287 1021h10v11h-10zM1347 1129h8v11h-8z"/>
<path fill="rgb(166,166,166)" d="M1140 1061h10v10h-10zM1347 1079h8v11h-8z"/>
<path fill="rgb(167,167,167)" d="M1129 1119h11v10h-11zM1140 1140h10v10h-10zM1150 1050h11v11h-11zM1276 1021h11v11h-11zM1308 1032h8v10h-8zM1316 1158h10v11h-10zM1347 1071h8v8h-8z"/>
<path fill="rgb(168,168,168)" d="M1129 1090h11v10h-11zM1308 1169h8v10h-8zM1337 1140h10v10h-10z"/>
<path fill="rgb(169,169,169)" d="M1129 1079h11v11h-11zM1161 1042h8v8h-8zM1179 1169h11v10h-11z"/>
<path fill="rgb(170,170,170)" d="M1190 1021h10v11h-10zM1355 1100h11v11h-11z"/>
<path fill="rgb(171,171,171)" d="M1161 1158h8v11h-8zM1200 1179h8v8h-8z"/>
<path fill="rgb(172,172,172)" d="M1326 1042h11v8h-11z"/>
<path fill="rgb(173,173,173)" d="M1247 1011h11v10h-11zM1287 1179h10v8h-10zM1355 1079h11v11h-11z"/>
<path fill="rgb(174,174,174)" d="M1229 1011h8v10h-8zM1247 1187h11v10h-11zM1347 1140h8v10h-8zM1355 1111h11v8h-11z"/>
<path fill="rgb(175,175,175)" d="M1169 1169h10v10h-10zM1237 1187h10v10h-10zM1237 1011h10v10h-10zM1337 1150h10v8h-10zM1337 1050h10v11h-10zM1355 1090h11v10h-11z"/>
<path fill="rgb(176,176,176)" d="M1169 1032h10v10h-10zM1190 1179h10v8h-10zM1268 1011h8v10h-8zM1297 1021h11v11h-11zM1347 1061h8v10h-8z"/>
<path fill="rgb(177,177,177)" d="M1129 1129h11v11h-11zM1129 1071h11v8h-11zM1150 1158h11v11h-11zM1218 1011h11v10h-11zM1229 1187h8v10h-8zM1258 1011h10v10h-10zM1297 1179h11v8h-11zM1316 1169h10v10h-10zM1355 1119h11v10h-11z"/>
<path fill="rgb(178,178,178)" d="M1179 1021h11v11h-11zM1218 1187h11v10h-11zM1326 1158h11v11h-11z"/>
<path fill="rgb(179,179,179)" d="M1150 1042h11v8h-11z"/>
<path fill="rgb(180,180,180)" d="M1121 1100h8v11h-8zM1208 1011h10v10h-10zM1258 1187h10v10h-10zM1308 1179h8v8h-8z"/>
<path fill="rgb(181,181,181)" d="M1121 1090h8v10h-8zM1129 1061h11v10h-11zM1140 1150h10v8h-10zM1140 1050h10v11h-10zM1179 1179h11v8h-11zM1200 1011h8v10h-8zM1308 1021h8v11h-8zM1316 1032h10v10h-10zM1355 1129h11v11h-11z"/>
<path fill="rgb(182,182,182)" d="M1121 1119h8v10h-8zM1121 1111h8v8h-8zM1161 1032h8v10h-8zM1355 1071h11v8h-11z"/>
<path fill="rgb(183,183,183)" d="M1121 1079h8v11h-8z"/>
<path fill="rgb(184,184,184)" d="M1129 1140h11v10h-11zM1208 1187h10v10h-10zM1276 1187h11v10h-11z"/>
<path fill="rgb(185,185,185)" d="M1129 1050h11v11h-11zM1150 1032h11v10h-11zM1161 1169h8v10h-8zM1169 1021h10v11h-10zM1268 1187h8v10h-8zM1276 1011h11v10h-11zM1326 1032h11v10h-11zM1337 1042h10v8h-10zM1366 1100h10v11h-10z"/>
<path fill="rgb(186,186,186)" d="M1121 1129h8v11h-8zM1347 1150h8v8h-8z"/>
<path fill="rgb(187,187,187)" d="M1337 1158h10v11h-10z"/>
<path fill="rgb(188,188,188)" d="M1366 1111h10v8h-10zM1366 1090h10v10h-10z"/>
<path fill="rgb(189,189,189)" d="M1190 1011h10v10h-10zM1200 1187h8v10h-8zM1247 1003h11v8h-11zM1287 1011h10v10h-10zM1366 1079h10v11h-10z"/>
<path fill="rgb(190,190,190)" d="M1121 1071h8v8h-8zM1169 1179h10v8h-10zM1347 1050h8v11h-8zM1355 1061h11v10h-11z"/>
<path fill="rgb(191,191,191)" d="M1355 1140h11v10h-11z"/>
<path fill="rgb(192,192,192)" d="M1140 1042h10v8h-10zM1326 1169h11v10h-11zM1366 1129h10v11h-10zM1366 1119h10v10h-10z"/>
<path fill="rgb(193,193,193)" d="M1111 1090h10v10h-10zM1316 1021h10v11h-10zM1347 1042h8v8h-8zM1355 1050h11v11h-11z"/>
<path fill="rgb(194,194,194)" d="M1111 1100h10v11h-10zM1129 1150h11v8h-11zM1140 1158h10v11h-10zM1179 1011h11v10h-11zM1237 1003h10v8h-10zM1297 1187h11v10h-11zM1316 1179h10v8h-10z"/>
<path fill="rgb(195,195,195)" d="M1111 1111h10v8h-10zM1121 1140h8v10h-8zM1150 1169h11v10h-11zM1161 1021h8v11h-8zM1190 1187h10v10h-10zM1287 1187h10v10h-10zM1366 1071h10v8h-10z"/>
<path fill="rgb(196,196,196)" d="M1121 1061h8v10h-8zM1169 1011h10v10h-10zM1218 1003h11v8h-11zM1229 1003h8v8h-8zM1247 1197h11v11h-11zM1258 1197h10v11h-10zM1337 1032h10v10h-10z"/>
<path fill="rgb(197,197,197)" d="M1111 1119h10v10h-10zM1111 1079h10v11h-10zM1229 1197h8v11h-8zM1237 1197h10v11h-10zM1258 1003h10v8h-10zM1297 1011h11v10h-11zM1347 1158h8v11h-8zM1376 1100h8v11h-8zM1376 1090h8v10h-8z"/>
<path fill="rgb(198,198,198)" d="M1111 1129h10v11h-10zM1140 1032h10v10h-10zM1179 1187h11v10h-11zM1366 1061h10v10h-10z"/>
<path fill="rgb(199,199,199)" d="M1111 1071h10v8h-10zM1161 1179h8v8h-8zM1208 1003h10v8h-10zM1268 1003h8v8h-8zM1276 1003h11v8h-11zM1308 1011h8v10h-8z"/>
<path fill="rgb(200,200,200)" d="M1129 1158h11v11h-11zM1129 1042h11v8h-11zM1218 1197h11v11h-11zM1287 1003h10v8h-10z"/>
<path fill="rgb(201,201,201)" d="M1121 1150h8v8h-8zM1200 1003h8v8h-8zM1308 1187h8v10h-8zM1326 1021h11v11h-11zM1355 1150h11v8h-11z"/>
<path fill="rgb(202,202,202)" d="M1121 1050h8v11h-8zM1150 1179h11v8h-11zM1150 1021h11v11h-11zM1169 1187h10v10h-10zM1366 1140h10v10h-10zM1376 1119h8v10h-8z"/>
<path fill="rgb(203,203,203)" d="M1140 1169h10v10h-10zM1200 1197h8v11h-8zM1287 1197h10v11h-10zM1297 1003h11v8h-11zM1347 1032h8v10h-8zM1376 1111h8v8h-8zM1376 1079h8v11h-8z"/>
<path fill="rgb(204,204,204)" d="M1111 1061h10v10h-10zM1268 1197h8v11h-8zM1276 1197h11v11h-11zM1326 1179h11v8h-11zM1337 1169h10v10h-10zM1347 1169h8v10h-8z"/>
<path fill="rgb(205,205,205)" d="M1100 1111h11v8h-11zM1100 1100h11v11h-11zM1355 1042h11v8h-11z"/>
<path fill="rgb(206,206,206)" d="M1208 1197h10v11h-10zM1316 1187h10v10h-10zM1376 1071h8v8h-8z"/>
<path fill="rgb(207,207,207)" d="M1100 1090h11v10h-11zM1100 1079h11v11h-11zM1229 992h8v11h-8zM1337 1021h10v11h-10zM1366 1050h10v11h-10z"/>
<path fill="rgb(208,208,208)" d="M1100 1129h11v11h-11zM1100 1119h11v10h-11zM1100 1071h11v8h-11zM1111 1050h10v11h-10zM1121 1042h8v8h-8zM1190 1197h10v11h-10zM1247 992h11v11h-11zM1258 992h10v11h-10zM1316 1011h10v10h-10zM1337 1179h10v8h-10zM1355 1158h11v11h-11zM1376 1129h8v11h-8z"/>
<path fill="rgb(209,209,209)" d="M1140 1021h10v11h-10zM1161 1011h8v10h-8zM1237 992h10v11h-10zM1297 1197h11v11h-11zM1376 1140h8v10h-8zM1376 1061h8v10h-8zM1384 1111h11v8h-11zM1384 1090h11v10h-11z"/>
<path fill="rgb(210,210,210)" d="M1111 1150h10v8h-10zM1121 1158h8v11h-8zM1218 992h11v11h-11zM1237 1208h10v10h-10zM1276 992h11v11h-11zM1308 1003h8v8h-8zM1326 1011h11v10h-11zM1347 1021h8v11h-8z"/>
<path fill="rgb(211,211,211)" d="M1111 1140h10v10h-10zM1129 1032h11v10h-11zM1140 1179h10v8h-10zM1179 1197h11v11h-11zM1179 1003h11v8h-11zM1229 1208h8v10h-8zM1326 1187h11v10h-11z"/>
<path fill="rgb(212,212,212)" d="M1100 1061h11v10h-11zM1161 1187h8v10h-8zM1190 1003h10v8h-10zM1366 1150h10v8h-10zM1384 1100h11v11h-11z"/>
<path fill="rgb(213,213,213)" d="M1092 1100h8v11h-8zM1129 1169h11v10h-11zM1169 1197h10v11h-10zM1247 1208h11v10h-11zM1268 992h8v11h-8zM1347 1179h8v8h-8zM1355 1032h11v10h-11z"/>
<path fill="rgb(214,214,214)" d="M1092 1090h8v10h-8zM1100 1140h11v10h-11zM1169 1003h10v8h-10zM1200 992h8v11h-8zM1218 1208h11v10h-11zM1268 1208h8v10h-8zM1287 992h10v11h-10zM1355 1169h11v10h-11zM1384 1079h11v11h-11z"/>
<path fill="rgb(215,215,215)" d="M1150 1011h11v10h-11zM1208 1208h10v10h-10zM1208 992h10v11h-10zM1276 1208h11v10h-11zM1366 1158h10v11h-10zM1376 1150h8v8h-8zM1384 1119h11v10h-11z"/>
<path fill="rgb(216,216,216)" d="M1092 1111h8v8h-8zM1121 1032h8v10h-8zM1140 1011h10v10h-10zM1150 1187h11v10h-11zM1258 1208h10v10h-10zM1308 1197h8v11h-8zM1316 1003h10v8h-10zM1376 1050h8v11h-8zM1395 1119h10v10h-10zM1395 1100h10v11h-10z"/>
<path fill="rgb(217,217,217)" d="M1092 1079h8v11h-8zM1111 1042h10v8h-10zM1129 1179h11v8h-11zM1337 1011h10v10h-10zM1366 1042h10v8h-10z"/>
<path fill="rgb(218,218,218)" d="M1092 1119h8v10h-8zM1121 1169h8v10h-8zM1129 1021h11v11h-11zM1179 992h11v11h-11zM1200 1208h8v10h-8zM1316 1197h10v11h-10zM1384 1129h11v11h-11zM1384 1071h11v8h-11z"/>
<path fill="rgb(219,219,219)" d="M1092 1071h8v8h-8zM1100 1150h11v8h-11zM1100 1050h11v11h-11zM1111 1158h10v11h-10zM1287 1208h10v10h-10zM1355 1021h11v11h-11zM1366 1032h10v10h-10zM1384 1061h11v10h-11zM1395 1090h10v10h-10z"/>
<path fill="rgb(220,220,220)" d="M1161 1197h8v11h-8zM1161 1003h8v8h-8zM1190 1208h10v10h-10zM1337 1187h10v10h-10zM1384 1140h11v10h-11zM1395 1111h10v8h-10z"/>
<path fill="rgb(221,221,221)" d="M1100 1158h11v11h-11zM1190 992h10v11h-10zM1218 982h11v10h-11zM1229 982h8v10h-8zM1237 982h10v10h-10zM1347 1187h8v10h-8zM1376 1042h8v8h-8zM1384 1050h11v11h-11zM1395 1079h10v11h-10z"/>
<path fill="rgb(222,222,222)" d="M1082 1111h10v8h-10zM1082 1079h10v11h-10zM1100 1042h11v8h-11zM1140 1187h10v10h-10zM1150 1003h11v8h-11zM1297 1208h11v10h-11zM1347 1011h8v10h-8zM1355 1179h11v8h-11zM1366 1169h10v10h-10zM1384 1150h11v8h-11zM1395 1071h10v8h-10z"/>
<path fill="rgb(223,223,223)" d="M1082 1119h10v10h-10zM1092 1140h8v10h-8zM1092 1129h8v11h-8zM1111 1169h10v10h-10zM1111 1032h10v10h-10zM1121 1021h8v11h-8zM1169 992h10v11h-10zM1247 982h11v10h-11zM1258 1218h10v8h-10zM1258 982h10v10h-10zM1297 992h11v11h-11zM1308 992h8v11h-8zM1316 992h10v11h-10zM1326 1197h11v11h-11zM1326 1003h11v8h-11zM1376 1158h8v11h-8z"/>
<path fill="rgb(224,224,224)" d="M1082 1071h10v8h-10zM1121 1179h8v8h-8zM1179 1208h11v10h-11zM1268 982h8v10h-8zM1276 982h11v10h-11zM1308 1208h8v10h-8zM1395 1129h10v11h-10z"/>
<path fill="rgb(225,225,225)" d="M1082 1100h10v11h-10zM1082 1090h10v10h-10zM1092 1061h8v10h-8zM1150 1197h11v11h-11zM1208 982h10v10h-10zM1287 982h10v10h-10zM1337 1197h10v11h-10zM1366 1021h10v11h-10z"/>
<path fill="rgb(226,226,226)" d="M1129 1011h11v10h-11zM1337 1003h10v8h-10zM1355 1187h11v10h-11zM1366 1179h10v8h-10zM1405 1090h11v10h-11z"/>
<path fill="rgb(227,227,227)" d="M1092 1050h8v11h-8zM1111 1179h10v8h-10zM1129 1187h11v10h-11zM1200 982h8v10h-8zM1237 1218h10v8h-10zM1268 1218h8v8h-8zM1376 1169h8v10h-8zM1376 1032h8v10h-8zM1384 1042h11v8h-11z"/>
<path fill="rgb(228,228,228)" d="M1071 1100h11v11h-11zM1071 1090h11v10h-11zM1082 1140h10v10h-10zM1092 1150h8v8h-8zM1140 1003h10v8h-10zM1161 1208h8v10h-8zM1161 992h8v11h-8zM1169 1208h10v10h-10zM1247 1218h11v8h-11zM1316 1208h10v10h-10zM1326 992h11v11h-11zM1355 1011h11v10h-11zM1405 1119h11v10h-11z"/>
<path fill="rgb(229,229,229)" d="M1082 1129h10v11h-10zM1100 1169h11v10h-11zM1111 1021h10v11h-10zM1121 1011h8v10h-8zM1190 982h10v10h-10zM1200 1218h8v8h-8zM1208 1218h10v8h-10zM1218 1218h11v8h-11zM1229 1218h8v8h-8zM1276 1218h11v8h-11zM1347 1003h8v8h-8zM1395 1140h10v10h-10zM1395 1061h10v10h-10zM1395 1050h10v11h-10zM1405 1079h11v11h-11z"/>
<path fill="rgb(230,230,230)" d="M1100 1032h11v10h-11zM1129 1003h11v8h-11zM1150 992h11v11h-11zM1287 1218h10v8h-10zM1366 1011h10v10h-10zM1384 1158h11v11h-11zM1395 1150h10v8h-10z"/>
<path fill="rgb(231,231,231)" d="M1082 1061h10v10h-10zM1121 1187h8v10h-8zM1190 1218h10v8h-10zM1208 974h10v8h-10zM1229 1226h8v11h-8zM1237 974h10v8h-10zM1268 974h8v8h-8zM1297 1218h11v8h-11zM1297 982h11v10h-11zM1326 1208h11v10h-11zM1347 1197h8v11h-8zM1384 1032h11v10h-11zM1405 1129h11v11h-11zM1405 1100h11v11h-11zM1405 1071h11v8h-11z"/>
<path fill="rgb(232,232,232)" d="M1071 1119h11v10h-11zM1071 1111h11v8h-11zM1082 1050h10v11h-10zM1092 1158h8v11h-8zM1092 1042h8v8h-8zM1140 1197h10v11h-10zM1169 982h10v10h-10zM1179 982h11v10h-11zM1208 1226h10v11h-10zM1229 974h8v8h-8zM1247 974h11v8h-11zM1395 1042h10v8h-10zM1405 1111h11v8h-11zM1405 1061h11v10h-11z"/>
<path fill="rgb(233,233,233)" d="M1071 1079h11v11h-11zM1179 1218h11v8h-11zM1200 1226h8v11h-8zM1200 974h8v8h-8zM1218 974h11v8h-11zM1258 974h10v8h-10zM1308 1218h8v8h-8zM1308 982h8v10h-8zM1337 1208h10v10h-10zM1337 992h10v11h-10zM1366 1187h10v10h-10zM1395 1158h10v11h-10zM1416 1100h7v11h-7z"/>
<path fill="rgb(234,234,234)" d="M1071 1071h11v8h-11zM1092 1032h8v10h-8zM1111 1011h10v10h-10zM1140 1208h10v10h-10zM1169 1218h10v8h-10zM1218 1226h11v11h-11zM1276 974h11v8h-11zM1355 1003h11v8h-11zM1376 1179h8v8h-8zM1376 1021h8v11h-8zM1416 1090h7v10h-7zM1416 1079h7v11h-7z"/>
<path fill="rgb(235,235,235)" d="M1071 1129h11v11h-11zM1082 1158h10v11h-10zM1082 1042h10v8h-10zM1100 1179h11v8h-11zM1100 1021h11v11h-11zM1121 1003h8v8h-8zM1140 992h10v11h-10zM1150 982h11v10h-11zM1161 982h8v10h-8zM1237 1226h10v11h-10zM1247 1226h11v11h-11zM1258 1226h10v11h-10zM1326 982h11v10h-11zM1355 1197h11v11h-11zM1384 1169h11v10h-11zM1384 1021h11v11h-11zM1405 1140h11v10h-11zM1405 1050h11v11h-11zM1416 1129h7v11h-7zM1416 1071h7v8h-7z"/>
<path fill="rgb(236,236,236)" d="M1061 1111h10v8h-10zM1071 1061h11v10h-11zM1092 1169h8v10h-8zM1111 1187h10v10h-10zM1129 1208h11v10h-11zM1129 1197h11v11h-11zM1190 974h10v8h-10zM1218 964h11v10h-11zM1287 1226h10v11h-10zM1287 974h10v8h-10zM1316 1218h10v8h-10zM1316 982h10v10h-10zM1347 992h8v11h-8z"/>
<path fill="rgb(237,237,237)" d="M1061 1119h10v10h-10zM1061 1090h10v10h-10zM1071 1150h11v8h-11zM1071 1140h11v10h-11zM1082 1150h10v8h-10zM1092 1179h8v8h-8zM1100 1187h11v10h-11zM1150 1218h11v8h-11zM1150 1208h11v10h-11zM1161 1218h8v8h-8zM1169 974h10v8h-10zM1190 1226h10v11h-10zM1237 964h10v10h-10zM1268 1226h8v11h-8zM1276 1226h11v11h-11zM1297 1226h11v11h-11zM1308 974h8v8h-8zM1366 1197h10v11h-10zM1366 1003h10v8h-10zM1376 1187h8v10h-8zM1405 1150h11v8h-11zM1416 1119h7v10h-7zM1416 1111h7v8h-7zM1416 1061h7v10h-7zM1416 1050h7v11h-7z"/>
<path fill="rgb(238,238,238)" d="M1061 1129h10v11h-10zM1061 1079h10v11h-10zM1061 1071h10v8h-10zM1071 1050h11v11h-11zM1082 1021h10v11h-10zM1121 1197h8v11h-8zM1129 992h11v11h-11zM1179 1226h11v11h-11zM1229 964h8v10h-8zM1258 964h10v10h-10zM1347 1208h8v10h-8zM1395 1169h10v10h-10zM1395 1032h10v10h-10zM1405 1042h11v8h-11zM1405 1032h11v10h-11zM1416 1140h7v10h-7z"/>
<path fill="rgb(239,239,239)" d="M1061 1100h10v11h-10zM1082 1032h10v10h-10zM1092 1021h8v11h-8zM1100 1011h11v10h-11zM1111 1003h10v8h-10zM1179 974h11v8h-11zM1208 964h10v10h-10zM1297 974h11v8h-11zM1308 1226h8v11h-8zM1337 982h10v10h-10zM1376 1011h8v10h-8zM1384 1179h11v8h-11zM1384 1011h11v10h-11zM1405 1158h11v11h-11zM1416 1150h7v8h-7zM1423 1100h11v11h-11z"/>
<path fill="rgb(240,240,240)" d="M1061 1150h10v8h-10zM1061 1140h10v10h-10zM1061 1061h10v10h-10zM1071 1042h11v8h-11zM1082 1169h10v10h-10zM1111 1197h10v11h-10zM1169 1226h10v11h-10zM1229 1237h8v10h-8zM1237 1237h10v10h-10zM1247 1237h11v10h-11zM1247 964h11v10h-11zM1268 964h8v10h-8zM1337 1218h10v8h-10zM1355 1208h11v10h-11zM1423 1119h11v10h-11zM1423 1111h11v8h-11zM1423 1090h11v10h-11zM1423 1079h11v11h-11z"/>
<path fill="rgb(241,241,241)" d="M1053 1100h8v11h-8zM1053 1090h8v10h-8zM1053 1079h8v11h-8zM1071 1158h11v11h-11zM1121 992h8v11h-8zM1140 1218h10v8h-10zM1161 974h8v8h-8zM1169 964h10v10h-10zM1200 964h8v10h-8zM1218 1237h11v10h-11zM1258 1237h10v10h-10zM1258 953h10v11h-10zM1268 1237h8v10h-8zM1276 1237h11v10h-11zM1276 964h11v10h-11zM1316 974h10v8h-10zM1326 1218h11v8h-11zM1347 982h8v10h-8zM1355 992h11v11h-11zM1376 1197h8v11h-8zM1376 1003h8v8h-8zM1384 1187h11v10h-11zM1423 1140h11v10h-11zM1423 1129h11v11h-11z"/>
<path fill="rgb(242,242,242)" d="M1053 1111h8v8h-8zM1092 1011h8v10h-8zM1100 1197h11v11h-11zM1100 1003h11v8h-11zM1129 982h11v10h-11zM1150 974h11v8h-11zM1190 964h10v10h-10zM1208 1237h10v10h-10zM1287 964h10v10h-10zM1316 1226h10v11h-10zM1326 974h11v8h-11zM1347 1218h8v8h-8zM1395 1021h10v11h-10zM1405 1021h11v11h-11zM1416 1042h7v8h-7zM1423 1071h11v8h-11zM1434 1100h10v11h-10z"/>
<path fill="rgb(243,243,243)" d="M1053 1129h8v11h-8zM1053 1119h8v10h-8zM1053 1071h8v8h-8zM1061 1050h10v11h-10zM1071 1169h11v10h-11zM1082 1179h10v8h-10zM1092 1187h8v10h-8zM1121 1208h8v10h-8zM1121 982h8v10h-8zM1129 1218h11v8h-11zM1140 974h10v8h-10zM1161 1226h8v11h-8zM1179 964h11v10h-11zM1200 1237h8v10h-8zM1218 953h11v11h-11zM1229 953h8v11h-8zM1287 1237h10v10h-10zM1297 964h11v10h-11zM1308 1237h8v10h-8zM1366 1208h10v10h-10zM1384 1197h11v11h-11zM1384 1003h11v8h-11zM1395 1187h10v10h-10zM1395 1179h10v8h-10zM1395 1011h10v10h-10zM1405 1169h11v10h-11zM1416 1158h7v11h-7zM1423 1061h11v10h-11zM1434 1111h10v8h-10zM1434 1090h10v10h-10zM1434 1079h10v11h-10z"/>
<path fill="rgb(244,244,244)" d="M1042 1100h11v11h-11zM1053 1050h8v11h-8zM1061 1158h10v11h-10zM1071 1032h11v10h-11zM1071 1021h11v11h-11zM1082 1011h10v10h-10zM1092 1197h8v11h-8zM1111 1208h10v10h-10zM1140 982h10v10h-10zM1161 1237h8v10h-8zM1179 1237h11v10h-11zM1190 1237h10v10h-10zM1200 953h8v11h-8zM1237 953h10v11h-10zM1247 953h11v11h-11zM1276 953h11v11h-11zM1297 953h11v11h-11zM1316 964h10v10h-10zM1326 1226h11v11h-11zM1355 1218h11v8h-11zM1355 982h11v10h-11zM1366 992h10v11h-10zM1376 992h8v11h-8zM1423 1050h11v11h-11zM1434 1140h10v10h-10z"/>
<path fill="rgb(245,245,245)" d="M1042 1119h11v10h-11zM1042 1090h11v10h-11zM1042 1079h11v11h-11zM1053 1150h8v8h-8zM1053 1140h8v10h-8zM1053 1061h8v10h-8zM1061 1042h10v8h-10zM1061 1032h10v10h-10zM1082 1187h10v10h-10zM1092 1003h8v8h-8zM1111 992h10v11h-10zM1121 1218h8v8h-8zM1161 964h8v10h-8zM1218 1247h11v11h-11zM1229 1247h8v11h-8zM1237 1247h10v11h-10zM1258 1247h10v11h-10zM1287 953h10v11h-10zM1308 964h8v10h-8zM1337 1226h10v11h-10zM1337 964h10v10h-10zM1347 974h8v8h-8zM1366 982h10v10h-10zM1376 982h8v10h-8zM1384 992h11v11h-11zM1405 1179h11v8h-11zM1416 1169h7v10h-7zM1416 1032h7v10h-7zM1423 1158h11v11h-11zM1423 1150h11v8h-11zM1434 1119h10v10h-10zM1434 1061h10v10h-10z"/>
<path fill="rgb(246,246,246)" d="M1032 1111h10v8h-10zM1042 1140h11v10h-11zM1042 1129h11v11h-11zM1042 1111h11v8h-11zM1071 1179h11v8h-11zM1100 992h11v11h-11zM1129 974h11v8h-11zM1140 1226h10v11h-10zM1140 964h10v10h-10zM1150 1237h11v10h-11zM1150 1226h11v11h-11zM1169 1237h10v10h-10zM1190 1247h10v11h-10zM1190 953h10v11h-10zM1208 1247h10v11h-10zM1208 953h10v11h-10zM1247 1247h11v11h-11zM1268 953h8v11h-8zM1287 1247h10v11h-10zM1297 1237h11v10h-11zM1316 1237h10v10h-10zM1337 974h10v8h-10zM1366 1218h10v8h-10zM1395 1197h10v11h-10zM1405 1187h11v10h-11zM1416 1179h7v8h-7zM1423 1169h11v10h-11zM1423 1042h11v8h-11zM1434 1129h10v11h-10zM1434 1071h10v8h-10zM1444 1111h11v8h-11zM1444 1079h11v11h-11z"/>
<path fill="rgb(247,247,247)" d="M1032 1119h10v10h-10zM1042 1061h11v10h-11zM1053 1042h8v8h-8zM1061 1179h10v8h-10zM1061 1169h10v10h-10zM1071 1187h11v10h-11zM1071 1011h11v10h-11zM1082 1003h10v8h-10zM1092 1208h8v10h-8zM1100 1208h11v10h-11zM1111 1218h10v8h-10zM1111 982h10v10h-10zM1129 964h11v10h-11zM1150 964h11v10h-11zM1161 953h8v11h-8zM1169 953h10v11h-10zM1200 1247h8v11h-8zM1229 943h8v10h-8zM1237 943h10v10h-10zM1258 943h10v10h-10zM1268 1247h8v11h-8zM1276 1247h11v11h-11zM1326 1237h11v10h-11zM1326 964h11v10h-11zM1347 1237h8v10h-8zM1376 1208h8v10h-8zM1384 1208h11v10h-11zM1395 1003h10v8h-10zM1405 1011h11v10h-11zM1416 1021h7v11h-7zM1416 1011h7v10h-7zM1423 1179h11v8h-11zM1434 1158h10v11h-10zM1434 1050h10v11h-10zM1444 1119h11v10h-11zM1444 1100h11v11h-11zM1444 1090h11v10h-11zM1444 1071h11v8h-11z"/>
<path fill="rgb(248,248,248)" d="M1032 1100h10v11h-10zM1032 1071h10v8h-10zM1032 1061h10v10h-10zM1042 1150h11v8h-11zM1042 1071h11v8h-11zM1042 1050h11v11h-11zM1053 1169h8v10h-8zM1053 1032h8v10h-8zM1082 1197h10v11h-10zM1092 992h8v11h-8zM1111 974h10v8h-10zM1121 974h8v8h-8zM1129 1226h11v11h-11zM1179 953h11v11h-11zM1218 1258h11v8h-11zM1218 943h11v10h-11zM1229 1258h8v8h-8zM1247 1258h11v8h-11zM1258 1258h10v8h-10zM1268 943h8v10h-8zM1276 1258h11v8h-11zM1297 1247h11v11h-11zM1326 953h11v11h-11zM1337 1237h10v10h-10zM1347 1226h8v11h-8zM1347 964h8v10h-8zM1355 974h11v8h-11zM1355 964h11v10h-11zM1366 974h10v8h-10zM1376 1218h8v8h-8zM1384 982h11v10h-11zM1395 992h10v11h-10zM1405 1003h11v8h-11zM1423 1032h11v10h-11zM1423 1021h11v11h-11zM1434 1150h10v8h-10zM1434 1042h10v8h-10zM1444 1129h11v11h-11zM1444 1050h11v11h-11zM1455 1100h8v11h-8z"/>
<path fill="rgb(249,249,249)" d="M1021 1111h11v8h-11zM1032 1140h10v10h-10zM1032 1129h10v11h-10zM1032 1090h10v10h-10zM1032 1079h10v11h-10zM1032 1050h10v11h-10zM1042 1158h11v11h-11zM1042 1042h11v8h-11zM1042 1032h11v10h-11zM1053 1158h8v11h-8zM1053 1021h8v11h-8zM1061 1021h10v11h-10zM1061 1011h10v10h-10zM1071 1197h11v11h-11zM1071 1003h11v8h-11zM1082 1208h10v10h-10zM1082 992h10v11h-10zM1100 982h11v10h-11zM1129 1237h11v10h-11zM1140 1237h10v10h-10zM1150 953h11v11h-11zM1161 1247h8v11h-8zM1169 1247h10v11h-10zM1179 1258h11v8h-11zM1179 1247h11v11h-11zM1179 943h11v10h-11zM1190 943h10v10h-10zM1200 943h8v10h-8zM1208 1258h10v8h-10zM1237 1258h10v8h-10zM1247 943h11v10h-11zM1276 943h11v10h-11zM1287 943h10v10h-10zM1308 1247h8v11h-8zM1308 953h8v11h-8zM1316 953h10v11h-10zM1326 1247h11v11h-11zM1355 1226h11v11h-11zM1366 1226h10v11h-10zM1384 1218h11v8h-11zM1395 1208h10v10h-10zM1405 1197h11v11h-11zM1405 992h11v11h-11zM1416 1187h7v10h-7zM1434 1169h10v10h-10zM1434 1032h10v10h-10zM1444 1140h11v10h-11zM1444 1061h11v10h-11zM1455 1079h8v11h-8z"/>
<path fill="rgb(250,250,250)" d="M1021 1129h11v11h-11zM1021 1100h11v11h-11zM1021 1090h11v10h-11zM1021 1079h11v11h-11zM1021 1071h11v8h-11zM1032 1150h10v8h-10zM1042 1169h11v10h-11zM1061 1197h10v11h-10zM1061 1187h10v10h-10zM1061 1003h10v8h-10zM1092 982h8v10h-8zM1100 1226h11v11h-11zM1100 1218h11v8h-11zM1100 974h11v8h-11zM1111 1226h10v11h-10zM1121 1237h8v10h-8zM1121 1226h8v11h-8zM1129 1247h11v11h-11zM1129 953h11v11h-11zM1140 1247h10v11h-10zM1140 953h10v11h-10zM1150 1247h11v11h-11zM1169 1258h10v8h-10zM1169 943h10v10h-10zM1190 935h10v8h-10zM1200 1258h8v8h-8zM1208 943h10v10h-10zM1237 1266h10v10h-10zM1237 935h10v8h-10zM1247 935h11v8h-11zM1258 935h10v8h-10zM1268 1258h8v8h-8zM1276 935h11v8h-11zM1297 1258h11v8h-11zM1297 943h11v10h-11zM1308 1258h8v8h-8zM1308 943h8v10h-8zM1316 1247h10v11h-10zM1316 943h10v10h-10zM1337 1247h10v11h-10zM1337 953h10v11h-10zM1347 1247h8v11h-8zM1366 1237h10v10h-10zM1366 964h10v10h-10zM1376 1226h8v11h-8zM1376 974h8v8h-8zM1376 964h8v10h-8zM1395 1218h10v8h-10zM1395 982h10v10h-10zM1405 1208h11v10h-11zM1416 1197h7v11h-7zM1416 1003h7v8h-7zM1423 1187h11v10h-11zM1423 1011h11v10h-11zM1434 1179h10v8h-10zM1444 1158h11v11h-11zM1444 1150h11v8h-11zM1444 1032h11v10h-11zM1455 1150h8v8h-8zM1455 1140h8v10h-8zM1455 1119h8v10h-8zM1455 1111h8v8h-8zM1455 1090h8v10h-8zM1455 1071h8v8h-8zM1455 1061h8v10h-8zM1463 1090h10v10h-10z"/>
<path fill="rgb(251,251,251)" d="M1014 1119h7v10h-7zM1014 1100h7v11h-7zM1014 1090h7v10h-7zM1014 1071h7v8h-7zM1021 1140h11v10h-11zM1021 1119h11v10h-11zM1021 1061h11v10h-11zM1032 1158h10v11h-10zM1032 1042h10v8h-10zM1032 1032h10v10h-10zM1042 1179h11v8h-11zM1053 1187h8v10h-8zM1053 1179h8v8h-8zM1053 1011h8v10h-8zM1053 1003h8v8h-8zM1071 1208h11v10h-11zM1071 992h11v11h-11zM1082 1218h10v8h-10zM1082 982h10v10h-10zM1082 974h10v8h-10zM1092 1226h8v11h-8zM1092 1218h8v8h-8zM1092 974h8v8h-8zM1111 1237h10v10h-10zM1111 964h10v10h-10zM1121 964h8v10h-8zM1161 943h8v10h-8zM1179 935h11v8h-11zM1190 1266h10v10h-10zM1200 1266h8v10h-8zM1200 935h8v8h-8zM1208 1266h10v10h-10zM1208 935h10v8h-10zM1218 1266h11v10h-11zM1218 935h11v8h-11zM1229 1266h8v10h-8zM1247 1266h11v10h-11zM1258 1266h10v10h-10zM1268 1266h8v10h-8zM1287 1258h10v8h-10zM1287 935h10v8h-10zM1308 935h8v8h-8zM1316 1258h10v8h-10zM1326 1258h11v8h-11zM1326 943h11v10h-11zM1347 1258h8v8h-8zM1347 953h8v11h-8zM1347 943h8v10h-8zM1355 1247h11v11h-11zM1355 1237h11v10h-11zM1366 953h10v11h-10zM1376 1237h8v10h-8zM1384 1226h11v11h-11zM1384 974h11v8h-11zM1405 1218h11v8h-11zM1405 982h11v10h-11zM1416 992h7v11h-7zM1416 982h7v10h-7zM1423 1197h11v11h-11zM1434 1021h10v11h-10zM1444 1179h11v8h-11zM1444 1169h11v10h-11zM1444 1042h11v8h-11zM1444 1021h11v11h-11zM1455 1129h8v11h-8zM1455 1050h8v11h-8zM1455 1042h8v8h-8zM1463 1129h10v11h-10zM1463 1119h10v10h-10zM1463 1111h10v8h-10zM1463 1100h10v11h-10zM1463 1079h10v11h-10zM1463 1071h10v8h-10zM1463 1050h10v11h-10zM1473 1111h11v8h-11z"/>
<path fill="rgb(252,252,252)" d="M1003 1100h11v11h-11zM1003 1090h11v10h-11zM1003 1071h11v8h-11zM1014 1140h7v10h-7zM1014 1129h7v11h-7zM1014 1111h7v8h-7zM1014 1061h7v10h-7zM1021 1150h11v8h-11zM1021 1050h11v11h-11zM1021 1042h11v8h-11zM1021 1032h11v10h-11zM1021 1021h11v11h-11zM1032 1187h10v10h-10zM1032 1179h10v8h-10zM1032 1021h10v11h-10zM1032 1011h10v10h-10zM1042 1187h11v10h-11zM1042 1021h11v11h-11zM1042 1011h11v10h-11zM1053 1208h8v10h-8zM1053 1197h8v11h-8zM1053 992h8v11h-8zM1061 1218h10v8h-10zM1061 1208h10v10h-10zM1061 992h10v11h-10zM1061 982h10v10h-10zM1071 1218h11v8h-11zM1071 982h11v10h-11zM1071 974h11v8h-11zM1082 1226h10v11h-10zM1092 964h8v10h-8zM1100 1247h11v11h-11zM1100 1237h11v10h-11zM1100 964h11v10h-11zM1111 1247h10v11h-10zM1111 953h10v11h-10zM1121 1247h8v11h-8zM1121 953h8v11h-8zM1121 943h8v10h-8zM1129 1258h11v8h-11zM1129 943h11v10h-11zM1140 943h10v10h-10zM1140 935h10v8h-10zM1150 1258h11v8h-11zM1150 943h11v10h-11zM1150 935h11v8h-11zM1161 1266h8v10h-8zM1161 1258h8v8h-8zM1169 1266h10v10h-10zM1169 935h10v8h-10zM1179 1266h11v10h-11zM1190 1276h10v11h-10zM1190 1258h10v8h-10zM1208 1276h10v11h-10zM1229 935h8v8h-8zM1229 924h8v11h-8zM1237 924h10v11h-10zM1247 924h11v11h-11zM1258 924h10v11h-10zM1268 935h8v8h-8zM1276 1266h11v10h-11zM1276 924h11v11h-11zM1297 935h11v8h-11zM1308 1266h8v10h-8zM1308 924h8v11h-8zM1316 1266h10v10h-10zM1316 935h10v8h-10zM1326 935h11v8h-11zM1337 1258h10v8h-10zM1337 943h10v10h-10zM1355 953h11v11h-11zM1366 1247h10v11h-10zM1384 1237h11v10h-11zM1384 964h11v10h-11zM1395 974h10v8h-10zM1405 1226h11v11h-11zM1405 974h11v8h-11zM1416 1208h7v10h-7zM1423 1218h11v8h-11zM1423 1208h11v10h-11zM1423 1003h11v8h-11zM1423 982h11v10h-11zM1434 1208h10v10h-10zM1434 1197h10v11h-10zM1434 1187h10v10h-10zM1434 1011h10v10h-10zM1434 1003h10v8h-10zM1444 1011h11v10h-11zM1455 1179h8v8h-8zM1455 1169h8v10h-8zM1455 1158h8v11h-8zM1455 1032h8v10h-8zM1455 1021h8v11h-8zM1463 1158h10v11h-10zM1463 1150h10v8h-10zM1463 1140h10v10h-10zM1463 1042h10v8h-10zM1473 1129h11v11h-11zM1473 1119h11v10h-11zM1473 1100h11v11h-11zM1473 1090h11v10h-11zM1473 1071h11v8h-11zM1473 1061h11v10h-11zM1484 1079h8v11h-8z"/>
<path fill="rgb(253,253,253)" d="M985 1111h8v8h-8zM993 1129h10v11h-10zM993 1119h10v10h-10zM993 1090h10v10h-10zM993 1079h10v11h-10zM993 1042h10v8h-10zM1003 1169h11v10h-11zM1003 1158h11v11h-11zM1003 1150h11v8h-11zM1003 1140h11v10h-11zM1003 1129h11v11h-11zM1003 1119h11v10h-11zM1003 1111h11v8h-11zM1003 1079h11v11h-11zM1003 1061h11v10h-11zM1003 1050h11v11h-11zM1014 1179h7v8h-7zM1014 1169h7v10h-7zM1014 1158h7v11h-7zM1014 1150h7v8h-7zM1014 1079h7v11h-7zM1014 1050h7v11h-7zM1014 1042h7v8h-7zM1014 1032h7v10h-7zM1021 1179h11v8h-11zM1021 1169h11v10h-11zM1021 1158h11v11h-11zM1021 1011h11v10h-11zM1021 1003h11v8h-11zM1032 1208h10v10h-10zM1032 1197h10v11h-10zM1032 1169h10v10h-10zM1032 1003h10v8h-10zM1042 1208h11v10h-11zM1042 1197h11v11h-11zM1042 1003h11v8h-11zM1042 992h11v11h-11zM1053 1218h8v8h-8zM1053 982h8v10h-8zM1053 974h8v8h-8zM1061 1226h10v11h-10zM1071 1226h11v11h-11zM1082 1247h10v11h-10zM1082 1237h10v10h-10zM1082 964h10v10h-10zM1092 1247h8v11h-8zM1092 1237h8v10h-8zM1092 953h8v11h-8zM1100 953h11v11h-11zM1100 943h11v10h-11zM1111 1258h10v8h-10zM1111 943h10v10h-10zM1121 1258h8v8h-8zM1140 1258h10v8h-10zM1150 1266h11v10h-11zM1161 1276h8v11h-8zM1161 935h8v8h-8zM1161 924h8v11h-8zM1179 1276h11v11h-11zM1190 924h10v11h-10zM1190 914h10v10h-10zM1200 1287h8v8h-8zM1208 924h10v11h-10zM1218 1276h11v11h-11zM1218 924h11v11h-11zM1229 1276h8v11h-8zM1229 914h8v10h-8zM1237 1276h10v11h-10zM1237 914h10v10h-10zM1247 1276h11v11h-11zM1247 914h11v10h-11zM1258 1276h10v11h-10zM1268 1287h8v8h-8zM1268 1276h8v11h-8zM1268 924h8v11h-8zM1276 1287h11v8h-11zM1276 1276h11v11h-11zM1276 914h11v10h-11zM1287 1276h10v11h-10zM1287 1266h10v10h-10zM1287 924h10v11h-10zM1297 1276h11v11h-11zM1297 1266h11v10h-11zM1297 924h11v11h-11zM1316 1276h10v11h-10zM1326 1276h11v11h-11zM1326 1266h11v10h-11zM1326 924h11v11h-11zM1337 1266h10v10h-10zM1337 935h10v8h-10zM1337 924h10v11h-10zM1347 1266h8v10h-8zM1347 935h8v8h-8zM1355 943h11v10h-11zM1355 935h11v8h-11zM1366 1258h10v8h-10zM1366 943h10v10h-10zM1376 1247h8v11h-8zM1376 953h8v11h-8zM1384 1247h11v11h-11zM1384 953h11v11h-11zM1395 1247h10v11h-10zM1395 1237h10v10h-10zM1395 1226h10v11h-10zM1395 964h10v10h-10zM1405 1247h11v11h-11zM1405 964h11v10h-11zM1416 1226h7v11h-7zM1416 1218h7v8h-7zM1416 974h7v8h-7zM1423 992h11v11h-11zM1434 992h10v11h-10zM1434 974h10v8h-10zM1444 1197h11v11h-11zM1444 1187h11v10h-11zM1444 1003h11v8h-11zM1444 992h11v11h-11zM1455 1197h8v11h-8zM1455 1187h8v10h-8zM1463 1187h10v10h-10zM1463 1061h10v10h-10zM1463 1032h10v10h-10zM1463 1021h10v11h-10zM1473 1179h11v8h-11zM1473 1158h11v11h-11zM1473 1150h11v8h-11zM1473 1140h11v10h-11zM1473 1079h11v11h-11zM1473 1050h11v11h-11zM1473 1042h11v8h-11zM1473 1032h11v10h-11zM1484 1158h8v11h-8zM1484 1150h8v8h-8zM1484 1129h8v11h-8zM1484 1111h8v8h-8zM1484 1100h8v11h-8zM1484 1090h8v10h-8zM1484 1071h8v8h-8zM1484 1061h8v10h-8zM1484 1050h8v11h-8zM1484 1032h8v10h-8zM1492 1090h10v10h-10z"/>
<path fill="rgb(254,254,254)" d="M964 1111h10v8h-10zM964 1100h10v11h-10zM964 1042h10v8h-10zM974 1158h11v11h-11zM974 1140h11v10h-11zM974 1129h11v11h-11zM974 1119h11v10h-11zM974 1111h11v8h-11zM974 1100h11v11h-11zM974 1090h11v10h-11zM974 1079h11v11h-11zM974 1071h11v8h-11zM974 1061h11v10h-11zM974 1050h11v11h-11zM985 1169h8v10h-8zM985 1158h8v11h-8zM985 1150h8v8h-8zM985 1140h8v10h-8zM985 1129h8v11h-8zM985 1119h8v10h-8zM985 1100h8v11h-8zM985 1090h8v10h-8zM985 1079h8v11h-8zM985 1071h8v8h-8zM985 1061h8v10h-8zM985 1050h8v11h-8zM985 1042h8v8h-8zM985 1032h8v10h-8zM985 1011h8v10h-8zM985 1003h8v8h-8zM993 1187h10v10h-10zM993 1179h10v8h-10zM993 1169h10v10h-10zM993 1158h10v11h-10zM993 1150h10v8h-10zM993 1140h10v10h-10zM993 1111h10v8h-10zM993 1100h10v11h-10zM993 1071h10v8h-10zM993 1061h10v10h-10zM993 1050h10v11h-10zM993 1032h10v10h-10zM993 1011h10v10h-10zM993 1003h10v8h-10zM993 992h10v11h-10zM1003 1197h11v11h-11zM1003 1187h11v10h-11zM1003 1179h11v8h-11zM1003 1042h11v8h-11zM1003 1032h11v10h-11zM1003 1021h11v11h-11zM1003 1011h11v10h-11zM1003 1003h11v8h-11zM1003 992h11v11h-11zM1003 982h11v10h-11zM1014 1226h7v11h-7zM1014 1218h7v8h-7zM1014 1208h7v10h-7zM1014 1197h7v11h-7zM1014 1021h7v11h-7zM1014 1011h7v10h-7zM1014 1003h7v8h-7zM1021 1218h11v8h-11zM1021 1208h11v10h-11zM1021 1197h11v11h-11zM1021 1187h11v10h-11zM1021 992h11v11h-11zM1021 982h11v10h-11zM1021 974h11v8h-11zM1021 943h11v10h-11zM1032 1237h10v10h-10zM1032 1218h10v8h-10zM1032 992h10v11h-10zM1032 982h10v10h-10zM1032 974h10v8h-10zM1042 1237h11v10h-11zM1042 1226h11v11h-11zM1042 1218h11v8h-11zM1042 982h11v10h-11zM1042 964h11v10h-11zM1053 1237h8v10h-8zM1053 964h8v10h-8zM1053 953h8v11h-8zM1061 1258h10v8h-10zM1061 1247h10v11h-10zM1061 1237h10v10h-10zM1061 974h10v8h-10zM1061 964h10v10h-10zM1061 953h10v11h-10zM1071 1247h11v11h-11zM1071 1237h11v10h-11zM1071 964h11v10h-11zM1071 953h11v11h-11zM1082 1276h10v11h-10zM1082 1258h10v8h-10zM1082 953h10v11h-10zM1082 943h10v10h-10zM1092 1266h8v10h-8zM1092 1258h8v8h-8zM1092 943h8v10h-8zM1092 935h8v8h-8zM1092 914h8v10h-8zM1100 1276h11v11h-11zM1100 1266h11v10h-11zM1100 1258h11v8h-11zM1100 935h11v8h-11zM1111 1276h10v11h-10zM1111 935h10v8h-10zM1111 924h10v11h-10zM1121 1295h8v10h-8zM1121 1287h8v8h-8zM1121 1276h8v11h-8zM1121 1266h8v10h-8zM1121 935h8v8h-8zM1121 924h8v11h-8zM1121 903h8v11h-8zM1129 1276h11v11h-11zM1129 1266h11v10h-11zM1129 935h11v8h-11zM1129 924h11v11h-11zM1140 1276h10v11h-10zM1140 1266h10v10h-10zM1140 924h10v11h-10zM1140 914h10v10h-10zM1150 1287h11v8h-11zM1150 1276h11v11h-11zM1150 924h11v11h-11zM1150 914h11v10h-11zM1161 1295h8v10h-8zM1161 1287h8v8h-8zM1161 914h8v10h-8zM1161 903h8v11h-8zM1169 1305h10v11h-10zM1169 1295h10v10h-10zM1169 1287h10v8h-10zM1169 1276h10v11h-10zM1169 924h10v11h-10zM1169 914h10v10h-10zM1169 903h10v11h-10zM1179 1287h11v8h-11zM1179 924h11v11h-11zM1179 914h11v10h-11zM1179 903h11v11h-11zM1179 895h11v8h-11zM1190 1305h10v11h-10zM1190 1295h10v10h-10zM1190 1287h10v8h-10zM1190 903h10v11h-10zM1190 895h10v8h-10zM1200 1295h8v10h-8zM1200 1276h8v11h-8zM1200 924h8v11h-8zM1200 914h8v10h-8zM1200 903h8v11h-8zM1208 1295h10v10h-10zM1208 1287h10v8h-10zM1208 914h10v10h-10zM1208 903h10v11h-10zM1208 895h10v8h-10zM1218 1305h11v11h-11zM1218 1287h11v8h-11zM1218 914h11v10h-11zM1218 903h11v11h-11zM1218 895h11v8h-11zM1229 1295h8v10h-8zM1229 1287h8v8h-8zM1229 903h8v11h-8zM1229 895h8v8h-8zM1237 1305h10v11h-10zM1237 1295h10v10h-10zM1237 1287h10v8h-10zM1247 1295h11v10h-11zM1247 1287h11v8h-11zM1247 903h11v11h-11zM1247 895h11v8h-11zM1258 1295h10v10h-10zM1258 1287h10v8h-10zM1258 914h10v10h-10zM1258 903h10v11h-10zM1258 895h10v8h-10zM1268 1305h8v11h-8zM1268 1295h8v10h-8zM1268 914h8v10h-8zM1268 903h8v11h-8zM1268 895h8v8h-8zM1276 1295h11v10h-11zM1276 903h11v11h-11zM1276 895h11v8h-11zM1287 1287h10v8h-10zM1287 914h10v10h-10zM1297 1295h11v10h-11zM1297 1287h11v8h-11zM1297 914h11v10h-11zM1297 903h11v11h-11zM1297 895h11v8h-11zM1308 1295h8v10h-8zM1308 1287h8v8h-8zM1308 1276h8v11h-8zM1308 914h8v10h-8zM1308 903h8v11h-8zM1316 1287h10v8h-10zM1316 924h10v11h-10zM1316 914h10v10h-10zM1316 903h10v11h-10zM1326 1295h11v10h-11zM1326 914h11v10h-11zM1326 895h11v8h-11zM1337 1287h10v8h-10zM1337 1276h10v11h-10zM1337 914h10v10h-10zM1347 1287h8v8h-8zM1347 1276h8v11h-8zM1347 924h8v11h-8zM1347 914h8v10h-8zM1355 1276h11v11h-11zM1355 1258h11v8h-11zM1355 924h11v11h-11zM1355 903h11v11h-11zM1366 1276h10v11h-10zM1366 1266h10v10h-10zM1366 935h10v8h-10zM1366 924h10v11h-10zM1376 1276h8v11h-8zM1376 1266h8v10h-8zM1376 1258h8v8h-8zM1376 943h8v10h-8zM1376 935h8v8h-8zM1384 1276h11v11h-11zM1384 1266h11v10h-11zM1384 1258h11v8h-11zM1384 943h11v10h-11zM1384 935h11v8h-11zM1384 924h11v11h-11zM1384 914h11v10h-11zM1395 1266h10v10h-10zM1395 1258h10v8h-10zM1395 953h10v11h-10zM1395 943h10v10h-10zM1395 935h10v8h-10zM1405 1266h11v10h-11zM1405 1258h11v8h-11zM1405 1237h11v10h-11zM1405 953h11v11h-11zM1405 943h11v10h-11zM1416 1258h7v8h-7zM1416 1247h7v11h-7zM1416 1237h7v10h-7zM1416 964h7v10h-7zM1416 953h7v11h-7zM1423 1258h11v8h-11zM1423 1237h11v10h-11zM1423 1226h11v11h-11zM1423 974h11v8h-11zM1423 964h11v10h-11zM1423 953h11v11h-11zM1434 1237h10v10h-10zM1434 1226h10v11h-10zM1434 1218h10v8h-10zM1434 982h10v10h-10zM1434 964h10v10h-10zM1434 953h10v11h-10zM1444 1226h11v11h-11zM1444 1218h11v8h-11zM1444 1208h11v10h-11zM1444 982h11v10h-11zM1444 974h11v8h-11zM1444 953h11v11h-11zM1455 1226h8v11h-8zM1455 1218h8v8h-8zM1455 1208h8v10h-8zM1455 1011h8v10h-8zM1455 1003h8v8h-8zM1455 992h8v11h-8zM1455 982h8v10h-8zM1455 964h8v10h-8zM1463 1218h10v8h-10zM1463 1197h10v11h-10zM1463 1179h10v8h-10zM1463 1169h10v10h-10zM1463 1011h10v10h-10zM1463 1003h10v8h-10zM1463 992h10v11h-10zM1463 982h10v10h-10zM1473 1226h11v11h-11zM1473 1187h11v10h-11zM1473 1169h11v10h-11zM1473 1021h11v11h-11zM1473 1011h11v10h-11zM1473 1003h11v8h-11zM1473 992h11v11h-11zM1473 982h11v10h-11zM1484 1187h8v10h-8zM1484 1179h8v8h-8zM1484 1169h8v10h-8zM1484 1140h8v10h-8zM1484 1119h8v10h-8zM1484 1042h8v8h-8zM1484 1021h8v11h-8zM1484 1011h8v10h-8zM1484 1003h8v8h-8zM1492 1169h10v10h-10zM1492 1158h10v11h-10zM1492 1150h10v8h-10zM1492 1140h10v10h-10zM1492 1129h10v11h-10zM1492 1119h10v10h-10zM1492 1111h10v8h-10zM1492 1100h10v11h-10zM1492 1079h10v11h-10zM1492 1071h10v8h-10zM1492 1061h10v10h-10zM1492 1050h10v11h-10zM1492 1042h10v8h-10zM1492 1032h10v10h-10zM1492 1021h10v11h-10zM1502 1197h11v11h-11zM1502 1158h11v11h-11zM1502 1150h11v8h-11zM1502 1140h11v10h-11zM1502 1129h11v11h-11zM1502 1119h11v10h-11zM1502 1111h11v8h-11zM1502 1100h11v11h-11zM1502 1090h11v10h-11zM1502 1079h11v11h-11zM1502 1071h11v8h-11zM1502 1050h11v11h-11zM1513 1140h10v10h-10zM1513 1119h10v10h-10zM1513 1100h10v11h-10zM1513 1079h10v11h-10zM1513 1061h10v10h-10zM1513 1042h10v8h-10zM1523 1140h8v10h-8zM1523 1111h8v8h-8zM1523 1100h8v11h-8zM1523 1061h8v10h-8z"/>
</g>
<circle cx="1089.74" cy="1159.72" r="7.89" fill="#ff0000"/>
<path d="M1321.8 1035.6L1316.1 1031.7L1303.7 1028.9L1296.5 1023.9L1283.6 1022.2L1277.4 1018.5L1263 1018.3L1257.4 1015.1L1245.5 1015.3L1231.7 1013.9L1222.1 1014.3L1211.3 1016.4L1201.8 1019.9L1194.5 1021.3L1181.9 1028.9L1175 1033.9L1166.1 1036.5L1159.5 1041.8L1151.1 1049.9L1146.2 1055.1L1138.7 1059.9L1136.3 1069.6L1130.4 1077L1129.5 1083.8L1128.2 1090.7L1127.3 1099.6L1126.9 1108.6L1125.9 1115.4L1128.4 1122L1131.1 1129.9L1135 1139.8L1138.7 1145.3L1145.6 1150.7L1148.2 1157.7L1159.9 1164L1165.2 1171L1176 1174.5L1180.9 1178.3L1192.8 1181.9L1202.4 1187.2L1211.3 1189.5L1221.5 1191.1L1232.2 1190.6L1242.8 1192.1L1256 1189.5L1265.3 1191.4L1275.9 1187.5L1284.9 1187.8L1294.3 1185.3L1304 1179.8L1314.6 1175.2L1322.8 1171L1330.8 1165.4L1337 1158.3L1342.2 1154.5L1346.3 1145.5L1351.8 1140L1356.6 1131.6L1361.6 1122.6L1363.5 1114.7L1361.8 1108.2L1365.5 1098.5L1364.2 1091.6L1360.1 1083.8L1355.3 1075.8L1354.2 1069.3L1349.6 1063.5L1342.5 1056.5L1337.8 1048.6L1329.7 1042Z" fill="none" stroke="#0000ff" stroke-width="2.42" stroke-linejoin="round"/>
<path d="M1348.8 1227.2L1359.8 1221.9L1367.6 1211.7L1377.1 1208L1381.6 1204.5L1389.7 1199.9L1395.6 1189.4L1402.4 1185.3L1408.6 1175.6L1412.4 1171.2L1417 1164L1422.1 1153.2L1427.7 1149.2L1427.2 1140.5L1432.5 1133.2L1435 1123.3L1433.6 1117.6L1435.6 1109.3L1436.4 1100.1L1434.3 1091.2L1432.7 1084.8L1428.3 1078L1424.9 1067.2L1425.9 1061.7L1419.8 1054.4L1418 1043.5L1413.3 1039L1408.7 1031.2L1399.2 1025.4L1395.1 1016.3L1388.2 1011.8L1379.8 1001.8L1370.8 998L1361.5 994.5L1354.5 989.8L1345.8 987.4L1338.9 978.8L1326.1 978L1315.4 972.2L1304.1 968.1L1297.2 970.3L1284.9 967.6L1273.3 966.3L1260.7 964.7L1249.9 960.9L1240.2 964.7L1232.5 961L1217.1 965.4L1210.8 964.8L1199.2 968.7L1184.5 969.2L1176.2 976.4L1166.3 976.2L1157.3 982.8L1146.5 986L1140.3 985.7L1127.6 991.5L1123.1 997L1111.8 1001.6L1105.2 1010.4L1097.5 1015.2L1092 1020.7L1084.7 1027.3L1078.3 1034.5L1074.1 1039.6L1069 1047.6L1061.9 1057L1058.4 1064.2L1056.3 1073L1055.9 1079.3L1051.1 1085.8L1051.7 1095.3L1052.6 1105.4L1052 1110.5L1052.4 1121.2L1058.4 1126.9L1057.3 1136.6L1059 1142L1066.9 1151.2L1069.7 1158L1073.2 1165.2L1077 1173.4L1080.3 1181.7L1087.6 1189.3L1092.4 1193.4L1100.2 1200.7L1104.8 1208.8L1116.7 1210.1L1122.6 1218.4L1134.6 1222.3L1141.1 1224.3L1155.2 1228.6L1160.3 1232.2L1169.1 1237.8L1184.4 1238L1194 1245.2L1204.3 1246.3L1211.9 1244.7L1224.6 1246.2L1237.4 1248.3L1247.3 1248.5L1260 1247.6L1270.5 1249.6L1279.5 1243.7L1291.7 1241.8L1298.5 1244.2L1308.3 1236.8L1323.2 1237.4L1329.5 1231.8L1341.7 1229.1Z" fill="none" stroke="#0000ff" stroke-width="1.68" stroke-dasharray="4.86 2.1" stroke-linejoin="round"/>
</g>
<path d="M991.75 1394.6v9.18M1089.74 1394.6v9.18M1187.73 1394.6v9.18M1285.72 1394.6v9.18M1383.71 1394.6v9.18M1481.7 1394.6v9.18M952.55 1394.6h-9.18M952.55 1316.31h-9.18M952.55 1238.01h-9.18M952.55 1159.72h-9.18M952.55 1081.43h-9.18M952.55 1003.13h-9.18M952.55 924.84h-9.18M952.55 846.55h-9.18" stroke="#000" stroke-width="2.32" fill="none"/>
<rect x="952.55" y="807.4" width="587.95" height="587.2" fill="none" stroke="#000" stroke-width="2.32"/>
<g font-size="26.34px" text-anchor="middle">
<text x="992.05" y="1433.8">−2.5</text>
<text x="1090.04" y="1433.8">0.0</text>
<text x="1188.03" y="1433.8">2.5</text>
<text x="1286.02" y="1433.8">5.0</text>
<text x="1384.01" y="1433.8">7.5</text>
<text x="1482" y="1433.8">10.0</text>
</g>
<g font-size="26.34px" text-anchor="end">
<text x="934.2" y="1405.15">−6</text>
<text x="934.2" y="1326.86">−4</text>
<text x="934.2" y="1248.56">−2</text>
<text x="934.2" y="1170.27">0</text>
<text x="934.2" y="1091.98">2</text>
<text x="934.2" y="1013.68">4</text>
<text x="934.2" y="935.39">6</text>
<text x="934.2" y="857.1">8</text>
</g>
<text x="1246.12" y="791" font-size="31.54px" text-anchor="middle">KOUR velocity change</text>
</g>
<g id="ax4">
<g clip-path="url(#cp4)">
<g shape-rendering="crispEdges">
<path fill="rgb(0,0,0)" d="M572 1836h16v16h-16z"/>
<path fill="rgb(4,4,4)" d="M556 1836h16v16h-16zM588 1820h13v16h-13z"/>
<path fill="rgb(5,5,5)" d="M556 1820h16v16h-16z"/>
<path fill="rgb(6,6,6)" d="M572 1820h16v16h-16z"/>
<path fill="rgb(8,8,8)" d="M588 1836h13v16h-13z"/>
<path fill="rgb(9,9,9)" d="M572 1852h16v13h-16z"/>
<path fill="rgb(14,14,14)" d="M556 1852h16v13h-16z"/>
<path fill="rgb(15,15,15)" d="M601 1836h16v16h-16z"/>
<path fill="rgb(17,17,17)" d="M588 1852h13v13h-13z"/>
<path fill="rgb(20,20,20)" d="M572 1807h16v13h-16z"/>
<path fill="rgb(23,23,23)" d="M556 1807h16v13h-16z"/>
<path fill="rgb(24,24,24)" d="M588 1865h13v16h-13zM588 1807h13v13h-13z"/>
<path fill="rgb(25,25,25)" d="M543 1836h13v16h-13zM543 1820h13v16h-13z"/>
<path fill="rgb(26,26,26)" d="M572 1865h16v16h-16z"/>
<path fill="rgb(27,27,27)" d="M601 1852h16v13h-16z"/>
<path fill="rgb(29,29,29)" d="M601 1820h16v16h-16z"/>
<path fill="rgb(32,32,32)" d="M543 1852h13v13h-13z"/>
<path fill="rgb(35,35,35)" d="M601 1807h16v13h-16z"/>
<path fill="rgb(40,40,40)" d="M556 1865h16v16h-16zM617 1836h13v16h-13zM617 1820h13v16h-13z"/>
<path fill="rgb(41,41,41)" d="M543 1807h13v13h-13z"/>
<path fill="rgb(43,43,43)" d="M543 1865h13v16h-13zM572 1791h16v16h-16z"/>
<path fill="rgb(47,47,47)" d="M556 1791h16v16h-16zM601 1865h16v16h-16z"/>
<path fill="rgb(49,49,49)" d="M617 1852h13v13h-13z"/>
<path fill="rgb(50,50,50)" d="M588 1791h13v16h-13z"/>
<path fill="rgb(51,51,51)" d="M527 1836h16v16h-16zM617 1807h13v13h-13z"/>
<path fill="rgb(57,57,57)" d="M588 1881h13v13h-13z"/>
<path fill="rgb(58,58,58)" d="M527 1852h16v13h-16zM527 1820h16v16h-16z"/>
<path fill="rgb(59,59,59)" d="M556 1881h16v13h-16zM572 1881h16v13h-16z"/>
<path fill="rgb(61,61,61)" d="M543 1791h13v16h-13zM601 1791h16v16h-16zM617 1865h13v16h-13z"/>
<path fill="rgb(64,64,64)" d="M527 1807h16v13h-16z"/>
<path fill="rgb(65,65,65)" d="M630 1836h16v16h-16z"/>
<path fill="rgb(66,66,66)" d="M601 1881h16v13h-16z"/>
<path fill="rgb(71,71,71)" d="M527 1865h16v16h-16z"/>
<path fill="rgb(73,73,73)" d="M617 1791h13v16h-13zM630 1820h16v16h-16z"/>
<path fill="rgb(74,74,74)" d="M514 1836h13v16h-13z"/>
<path fill="rgb(75,75,75)" d="M543 1881h13v13h-13z"/>
<path fill="rgb(77,77,77)" d="M630 1852h16v13h-16z"/>
<path fill="rgb(78,78,78)" d="M572 1778h16v13h-16z"/>
<path fill="rgb(80,80,80)" d="M588 1778h13v13h-13z"/>
<path fill="rgb(82,82,82)" d="M556 1778h16v13h-16z"/>
<path fill="rgb(83,83,83)" d="M527 1791h16v16h-16z"/>
<path fill="rgb(84,84,84)" d="M514 1820h13v16h-13zM630 1807h16v13h-16z"/>
<path fill="rgb(86,86,86)" d="M617 1881h13v13h-13z"/>
<path fill="rgb(87,87,87)" d="M588 1894h13v15h-13z"/>
<path fill="rgb(88,88,88)" d="M630 1865h16v16h-16z"/>
<path fill="rgb(90,90,90)" d="M514 1852h13v13h-13zM572 1894h16v15h-16zM601 1778h16v13h-16z"/>
<path fill="rgb(92,92,92)" d="M527 1881h16v13h-16zM556 1894h16v15h-16z"/>
<path fill="rgb(93,93,93)" d="M514 1807h13v13h-13zM543 1778h13v13h-13z"/>
<path fill="rgb(96,96,96)" d="M514 1865h13v16h-13z"/>
<path fill="rgb(98,98,98)" d="M646 1836h15v16h-15z"/>
<path fill="rgb(99,99,99)" d="M601 1894h16v15h-16zM630 1791h16v16h-16z"/>
<path fill="rgb(100,100,100)" d="M543 1894h13v15h-13zM646 1820h15v16h-15z"/>
<path fill="rgb(101,101,101)" d="M617 1778h13v13h-13z"/>
<path fill="rgb(102,102,102)" d="M630 1881h16v13h-16z"/>
<path fill="rgb(107,107,107)" d="M514 1791h13v16h-13zM646 1852h15v13h-15z"/>
<path fill="rgb(108,108,108)" d="M527 1778h16v13h-16z"/>
<path fill="rgb(110,110,110)" d="M499 1836h15v16h-15z"/>
<path fill="rgb(112,112,112)" d="M499 1852h15v13h-15zM588 1762h13v16h-13zM646 1807h15v13h-15z"/>
<path fill="rgb(115,115,115)" d="M499 1820h15v16h-15zM556 1762h16v16h-16zM572 1762h16v16h-16zM617 1894h13v15h-13z"/>
<path fill="rgb(116,116,116)" d="M514 1881h13v13h-13zM527 1894h16v15h-16zM646 1865h15v16h-15z"/>
<path fill="rgb(120,120,120)" d="M601 1762h16v16h-16z"/>
<path fill="rgb(121,121,121)" d="M572 1909h16v16h-16z"/>
<path fill="rgb(123,123,123)" d="M588 1909h13v16h-13z"/>
<path fill="rgb(124,124,124)" d="M543 1762h13v16h-13zM630 1778h16v13h-16z"/>
<path fill="rgb(125,125,125)" d="M499 1807h15v13h-15z"/>
<path fill="rgb(126,126,126)" d="M499 1865h15v16h-15z"/>
<path fill="rgb(127,127,127)" d="M601 1909h16v16h-16z"/>
<path fill="rgb(128,128,128)" d="M556 1909h16v16h-16z"/>
<path fill="rgb(129,129,129)" d="M661 1820h14v16h-14z"/>
<path fill="rgb(130,130,130)" d="M646 1791h15v16h-15zM661 1836h14v16h-14z"/>
<path fill="rgb(131,131,131)" d="M514 1778h13v13h-13zM646 1881h15v13h-15z"/>
<path fill="rgb(132,132,132)" d="M499 1791h15v16h-15zM661 1852h14v13h-14z"/>
<path fill="rgb(133,133,133)" d="M543 1909h13v16h-13zM630 1894h16v15h-16z"/>
<path fill="rgb(136,136,136)" d="M617 1762h13v16h-13z"/>
<path fill="rgb(137,137,137)" d="M527 1762h16v16h-16z"/>
<path fill="rgb(140,140,140)" d="M514 1894h13v15h-13z"/>
<path fill="rgb(142,142,142)" d="M499 1881h15v13h-15zM556 1749h16v13h-16zM572 1749h16v13h-16z"/>
<path fill="rgb(143,143,143)" d="M485 1836h14v16h-14zM588 1749h13v13h-13zM661 1807h14v13h-14z"/>
<path fill="rgb(145,145,145)" d="M485 1852h14v13h-14zM485 1820h14v16h-14z"/>
<path fill="rgb(146,146,146)" d="M485 1807h14v13h-14zM617 1909h13v16h-13z"/>
<path fill="rgb(147,147,147)" d="M601 1749h16v13h-16zM646 1778h15v13h-15zM661 1865h14v16h-14z"/>
<path fill="rgb(149,149,149)" d="M527 1909h16v16h-16zM543 1749h13v13h-13z"/>
<path fill="rgb(150,150,150)" d="M661 1791h14v16h-14z"/>
<path fill="rgb(151,151,151)" d="M514 1762h13v16h-13zM630 1762h16v16h-16z"/>
<path fill="rgb(153,153,153)" d="M646 1894h15v15h-15z"/>
<path fill="rgb(154,154,154)" d="M499 1778h15v13h-15zM572 1925h16v13h-16z"/>
<path fill="rgb(155,155,155)" d="M485 1865h14v16h-14zM588 1925h13v13h-13z"/>
<path fill="rgb(157,157,157)" d="M499 1894h15v15h-15zM617 1749h13v13h-13zM630 1909h16v16h-16z"/>
<path fill="rgb(158,158,158)" d="M556 1925h16v13h-16zM675 1836h15v16h-15z"/>
<path fill="rgb(159,159,159)" d="M661 1881h14v13h-14z"/>
<path fill="rgb(162,162,162)" d="M485 1791h14v16h-14z"/>
<path fill="rgb(163,163,163)" d="M514 1909h13v16h-13zM601 1925h16v13h-16z"/>
<path fill="rgb(164,164,164)" d="M527 1749h16v13h-16zM675 1852h15v13h-15zM675 1820h15v16h-15z"/>
<path fill="rgb(165,165,165)" d="M543 1925h13v13h-13z"/>
<path fill="rgb(166,166,166)" d="M485 1881h14v13h-14z"/>
<path fill="rgb(167,167,167)" d="M646 1762h15v16h-15zM675 1807h15v13h-15z"/>
<path fill="rgb(168,168,168)" d="M470 1836h15v16h-15z"/>
<path fill="rgb(169,169,169)" d="M661 1778h14v13h-14zM675 1865h15v16h-15z"/>
<path fill="rgb(171,171,171)" d="M470 1820h15v16h-15zM588 1733h13v16h-13zM617 1925h13v13h-13z"/>
<path fill="rgb(173,173,173)" d="M485 1778h14v13h-14zM499 1762h15v16h-15zM527 1925h16v13h-16zM572 1733h16v16h-16zM601 1733h16v16h-16zM661 1894h14v15h-14z"/>
<path fill="rgb(175,175,175)" d="M556 1733h16v16h-16zM630 1749h16v13h-16zM646 1909h15v16h-15z"/>
<path fill="rgb(176,176,176)" d="M470 1852h15v13h-15zM675 1791h15v16h-15z"/>
<path fill="rgb(178,178,178)" d="M470 1807h15v13h-15zM514 1749h13v13h-13zM675 1881h15v13h-15z"/>
<path fill="rgb(180,180,180)" d="M499 1909h15v16h-15zM661 1762h14v16h-14z"/>
<path fill="rgb(181,181,181)" d="M470 1865h15v16h-15zM485 1894h14v15h-14zM543 1733h13v16h-13zM630 1925h16v13h-16z"/>
<path fill="rgb(183,183,183)" d="M470 1791h15v16h-15zM572 1938h16v16h-16z"/>
<path fill="rgb(184,184,184)" d="M514 1925h13v13h-13zM556 1938h16v16h-16zM588 1938h13v16h-13z"/>
<path fill="rgb(185,185,185)" d="M601 1938h16v16h-16zM617 1733h13v16h-13zM690 1852h13v13h-13z"/>
<path fill="rgb(187,187,187)" d="M646 1749h15v13h-15zM675 1778h15v13h-15zM690 1836h13v16h-13zM690 1820h13v16h-13z"/>
<path fill="rgb(188,188,188)" d="M470 1881h15v13h-15z"/>
<path fill="rgb(189,189,189)" d="M527 1733h16v16h-16z"/>
<path fill="rgb(190,190,190)" d="M485 1762h14v16h-14zM543 1938h13v16h-13zM617 1938h13v16h-13z"/>
<path fill="rgb(191,191,191)" d="M661 1909h14v16h-14z"/>
<path fill="rgb(192,192,192)" d="M646 1925h15v13h-15zM690 1865h13v16h-13z"/>
<path fill="rgb(193,193,193)" d="M499 1749h15v13h-15zM690 1807h13v13h-13z"/>
<path fill="rgb(194,194,194)" d="M454 1836h16v16h-16zM454 1820h16v16h-16zM470 1778h15v13h-15zM630 1733h16v16h-16zM675 1894h15v15h-15z"/>
<path fill="rgb(195,195,195)" d="M454 1852h16v13h-16zM485 1909h14v16h-14zM527 1938h16v16h-16z"/>
<path fill="rgb(197,197,197)" d="M572 1718h16v15h-16zM690 1791h13v16h-13z"/>
<path fill="rgb(198,198,198)" d="M514 1733h13v16h-13z"/>
<path fill="rgb(199,199,199)" d="M470 1894h15v15h-15zM499 1925h15v13h-15zM601 1718h16v15h-16z"/>
<path fill="rgb(200,200,200)" d="M454 1807h16v13h-16zM556 1718h16v15h-16zM661 1749h14v13h-14z"/>
<path fill="rgb(201,201,201)" d="M454 1865h16v16h-16zM588 1718h13v15h-13zM630 1938h16v16h-16zM675 1762h15v16h-15zM690 1881h13v13h-13z"/>
<path fill="rgb(202,202,202)" d="M572 1954h16v13h-16zM661 1925h14v13h-14z"/>
<path fill="rgb(203,203,203)" d="M454 1791h16v16h-16zM588 1954h13v13h-13z"/>
<path fill="rgb(204,204,204)" d="M543 1718h13v15h-13z"/>
<path fill="rgb(205,205,205)" d="M514 1938h13v16h-13zM527 1718h16v15h-16z"/>
<path fill="rgb(206,206,206)" d="M646 1733h15v16h-15zM690 1778h13v13h-13z"/>
<path fill="rgb(207,207,207)" d="M470 1762h15v16h-15zM556 1954h16v13h-16zM601 1954h16v13h-16zM617 1718h13v15h-13zM675 1909h15v16h-15zM690 1894h13v15h-13zM703 1836h16v16h-16z"/>
<path fill="rgb(208,208,208)" d="M454 1881h16v13h-16zM470 1909h15v16h-15zM485 1925h14v13h-14zM485 1749h14v13h-14zM703 1852h16v13h-16zM703 1820h16v16h-16z"/>
<path fill="rgb(209,209,209)" d="M499 1733h15v16h-15zM703 1865h16v16h-16z"/>
<path fill="rgb(210,210,210)" d="M646 1938h15v16h-15zM703 1807h16v13h-16z"/>
<path fill="rgb(211,211,211)" d="M441 1836h13v16h-13zM543 1954h13v13h-13zM617 1954h13v13h-13z"/>
<path fill="rgb(212,212,212)" d="M441 1820h13v16h-13zM514 1718h13v15h-13z"/>
<path fill="rgb(213,213,213)" d="M454 1778h16v13h-16zM630 1718h16v15h-16z"/>
<path fill="rgb(214,214,214)" d="M441 1852h13v13h-13zM499 1938h15v16h-15zM527 1954h16v13h-16zM661 1733h14v16h-14zM675 1925h15v13h-15z"/>
<path fill="rgb(215,215,215)" d="M441 1807h13v13h-13zM454 1894h16v15h-16zM588 1705h13v13h-13zM690 1762h13v16h-13zM703 1791h16v16h-16z"/>
<path fill="rgb(217,217,217)" d="M441 1865h13v16h-13zM556 1705h16v13h-16z"/>
<path fill="rgb(218,218,218)" d="M470 1749h15v13h-15zM485 1733h14v16h-14zM543 1705h13v13h-13zM572 1705h16v13h-16zM601 1705h16v13h-16zM675 1749h15v13h-15zM703 1881h16v13h-16z"/>
<path fill="rgb(219,219,219)" d="M454 1762h16v16h-16z"/>
<path fill="rgb(220,220,220)" d="M588 1967h13v16h-13zM630 1954h16v13h-16zM661 1938h14v16h-14z"/>
<path fill="rgb(221,221,221)" d="M441 1791h13v16h-13zM454 1909h16v16h-16zM499 1718h15v15h-15zM514 1954h13v13h-13zM690 1909h13v16h-13z"/>
<path fill="rgb(222,222,222)" d="M470 1925h15v13h-15zM572 1967h16v16h-16zM646 1718h15v15h-15zM703 1778h16v13h-16z"/>
<path fill="rgb(223,223,223)" d="M441 1881h13v13h-13zM441 1778h13v13h-13zM485 1938h14v16h-14zM601 1967h16v16h-16zM617 1705h13v13h-13zM675 1733h15v16h-15zM703 1894h16v15h-16zM719 1852h16v13h-16z"/>
<path fill="rgb(224,224,224)" d="M556 1967h16v16h-16zM646 1954h15v13h-15zM719 1836h16v16h-16zM719 1820h16v16h-16z"/>
<path fill="rgb(225,225,225)" d="M527 1705h16v13h-16zM543 1967h13v16h-13z"/>
<path fill="rgb(226,226,226)" d="M425 1836h16v16h-16zM499 1954h15v13h-15zM514 1705h13v13h-13zM617 1967h13v16h-13zM690 1749h13v13h-13zM719 1865h16v16h-16zM719 1807h16v13h-16z"/>
<path fill="rgb(227,227,227)" d="M454 1749h16v13h-16zM630 1705h16v13h-16zM661 1718h14v15h-14zM675 1938h15v16h-15zM690 1925h13v13h-13z"/>
<path fill="rgb(228,228,228)" d="M425 1820h16v16h-16zM441 1894h13v15h-13zM527 1967h16v16h-16zM703 1762h16v16h-16z"/>
<path fill="rgb(229,229,229)" d="M425 1852h16v13h-16zM470 1938h15v16h-15zM470 1733h15v16h-15zM514 1967h13v16h-13zM719 1791h16v16h-16z"/>
<path fill="rgb(230,230,230)" d="M425 1865h16v16h-16zM454 1925h16v13h-16zM556 1689h16v16h-16zM661 1954h14v13h-14zM703 1909h16v16h-16z"/>
<path fill="rgb(231,231,231)" d="M425 1807h16v13h-16zM485 1718h14v15h-14zM543 1689h13v16h-13zM572 1689h16v16h-16zM588 1689h13v16h-13zM601 1689h16v16h-16zM646 1705h15v13h-15zM719 1881h16v13h-16z"/>
<path fill="rgb(232,232,232)" d="M425 1881h16v13h-16zM425 1791h16v16h-16zM441 1909h13v16h-13zM441 1762h13v16h-13zM588 1983h13v16h-13zM617 1689h13v16h-13zM690 1733h13v16h-13zM719 1778h16v13h-16z"/>
<path fill="rgb(233,233,233)" d="M485 1954h14v13h-14zM499 1705h15v13h-15zM630 1967h16v16h-16zM675 1718h15v15h-15zM719 1894h16v15h-16z"/>
<path fill="rgb(234,234,234)" d="M454 1733h16v16h-16zM527 1689h16v16h-16zM556 1983h16v16h-16zM572 1983h16v16h-16zM646 1967h15v16h-15zM690 1938h13v16h-13zM703 1749h16v13h-16zM735 1852h13v13h-13zM735 1836h13v16h-13zM735 1820h13v16h-13z"/>
<path fill="rgb(235,235,235)" d="M425 1894h16v15h-16zM470 1718h15v15h-15zM499 1967h15v16h-15zM543 1983h13v16h-13zM661 1705h14v13h-14zM675 1954h15v13h-15zM735 1807h13v13h-13z"/>
<path fill="rgb(236,236,236)" d="M441 1925h13v13h-13zM441 1749h13v13h-13zM601 1983h16v16h-16zM617 1983h13v16h-13zM630 1689h16v16h-16zM703 1925h16v13h-16zM735 1865h13v16h-13z"/>
<path fill="rgb(237,237,237)" d="M412 1820h13v16h-13zM425 1778h16v13h-16zM514 1689h13v16h-13zM527 1983h16v16h-16zM719 1762h16v16h-16zM735 1791h13v16h-13z"/>
<path fill="rgb(238,238,238)" d="M412 1852h13v13h-13zM412 1836h13v16h-13zM454 1938h16v16h-16zM470 1954h15v13h-15zM485 1705h14v13h-14zM690 1718h13v15h-13zM719 1909h16v16h-16z"/>
<path fill="rgb(239,239,239)" d="M412 1807h13v13h-13zM425 1909h16v16h-16zM425 1762h16v16h-16zM661 1967h14v16h-14zM703 1733h16v16h-16zM735 1881h13v13h-13z"/>
<path fill="rgb(240,240,240)" d="M412 1865h13v16h-13zM514 1983h13v16h-13zM556 1676h16v13h-16zM572 1676h16v13h-16zM588 1999h13v13h-13zM703 1938h16v16h-16z"/>
<path fill="rgb(241,241,241)" d="M412 1881h13v13h-13zM412 1791h13v16h-13zM470 1705h15v13h-15zM485 1967h14v16h-14zM543 1676h13v13h-13zM588 1676h13v13h-13zM630 1983h16v16h-16zM646 1983h15v16h-15zM675 1705h15v13h-15zM690 1954h13v13h-13zM719 1749h16v13h-16zM735 1778h13v13h-13z"/>
<path fill="rgb(242,242,242)" d="M425 1749h16v13h-16zM441 1938h13v16h-13zM441 1733h13v16h-13zM454 1954h16v13h-16zM499 1689h15v16h-15zM527 1676h16v13h-16zM556 1999h16v13h-16zM601 1676h16v13h-16zM646 1689h15v16h-15zM719 1925h16v13h-16zM735 1894h13v15h-13zM735 1762h13v16h-13zM748 1807h16v13h-16z"/>
<path fill="rgb(243,243,243)" d="M412 1894h13v15h-13zM412 1778h13v13h-13zM454 1718h16v15h-16zM572 1999h16v13h-16zM617 1676h13v13h-13zM630 1676h16v13h-16zM661 1689h14v16h-14zM675 1967h15v16h-15zM690 1705h13v13h-13zM735 1909h13v16h-13zM748 1836h16v16h-16zM748 1820h16v16h-16zM748 1791h16v16h-16z"/>
<path fill="rgb(244,244,244)" d="M396 1852h16v13h-16zM470 1967h15v16h-15zM485 1689h14v16h-14zM499 1983h15v16h-15zM543 1999h13v13h-13zM601 1999h16v13h-16zM703 1954h16v13h-16zM703 1718h16v15h-16zM748 1852h16v13h-16z"/>
<path fill="rgb(245,245,245)" d="M396 1836h16v16h-16zM396 1820h16v16h-16zM396 1807h16v13h-16zM412 1762h13v16h-13zM425 1925h16v13h-16zM454 1705h16v13h-16zM514 1676h13v13h-13zM527 1999h16v13h-16zM617 1999h13v13h-13zM661 1983h14v16h-14zM675 1689h15v16h-15zM719 1733h16v16h-16zM748 1881h16v13h-16zM748 1865h16v16h-16z"/>
<path fill="rgb(246,246,246)" d="M396 1865h16v16h-16zM396 1791h16v16h-16zM412 1909h13v16h-13zM425 1733h16v16h-16zM441 1718h13v15h-13zM485 1983h14v16h-14zM514 1999h13v13h-13zM588 1660h13v16h-13zM630 1999h16v13h-16zM646 1676h15v13h-15zM690 1967h13v16h-13zM719 1938h16v16h-16zM735 1925h13v13h-13zM735 1749h13v13h-13zM748 1894h16v15h-16zM748 1778h16v13h-16z"/>
<path fill="rgb(247,247,247)" d="M396 1881h16v13h-16zM396 1778h16v13h-16zM412 1749h13v13h-13zM441 1954h13v13h-13zM454 1967h16v16h-16zM499 1999h15v13h-15zM499 1676h15v13h-15zM543 1660h13v16h-13zM556 1660h16v16h-16zM572 2012h16v16h-16zM572 1660h16v16h-16zM588 2012h13v16h-13zM601 1660h16v16h-16zM675 1983h15v16h-15zM703 1705h16v13h-16zM719 1718h16v15h-16zM764 1852h13v13h-13zM764 1836h13v16h-13zM764 1820h13v16h-13z"/>
<path fill="rgb(248,248,248)" d="M380 1865h16v16h-16zM396 1894h16v15h-16zM396 1762h16v16h-16zM412 1925h13v13h-13zM425 1938h16v16h-16zM425 1718h16v15h-16zM470 1983h15v16h-15zM470 1689h15v16h-15zM527 1660h16v16h-16zM543 2012h13v16h-13zM556 2012h16v16h-16zM601 2012h16v16h-16zM617 1660h13v16h-13zM630 1660h16v16h-16zM661 1676h14v13h-14zM703 1967h16v16h-16zM748 1909h16v16h-16zM748 1762h16v16h-16zM764 1865h13v16h-13z"/>
<path fill="rgb(249,249,249)" d="M380 1852h16v13h-16zM380 1836h16v16h-16zM380 1820h16v16h-16zM380 1807h16v13h-16zM396 1909h16v16h-16zM412 1733h13v16h-13zM441 1705h13v13h-13zM470 1676h15v13h-15zM485 1676h14v13h-14zM514 1660h13v16h-13zM527 2012h16v16h-16zM617 2012h13v16h-13zM646 1999h15v13h-15zM661 1999h14v13h-14zM675 1676h15v13h-15zM690 1983h13v16h-13zM690 1689h13v16h-13zM719 1954h16v13h-16zM735 1938h13v16h-13zM735 1733h13v16h-13zM748 1749h16v13h-16zM764 1807h13v13h-13zM764 1791h13v16h-13z"/>
<path fill="rgb(250,250,250)" d="M380 1881h16v13h-16zM380 1791h16v16h-16zM396 1925h16v13h-16zM412 1938h13v16h-13zM425 1954h16v13h-16zM441 1967h13v16h-13zM454 1983h16v16h-16zM454 1689h16v16h-16zM485 1999h14v13h-14zM499 1660h15v16h-15zM514 2012h13v16h-13zM527 1644h16v16h-16zM572 1644h16v16h-16zM601 1644h16v16h-16zM630 2012h16v16h-16zM646 1660h15v16h-15zM675 1999h15v13h-15zM703 1689h16v16h-16zM719 1705h16v13h-16zM748 1925h16v13h-16zM764 1894h13v15h-13zM764 1881h13v13h-13z"/>
<path fill="rgb(251,251,251)" d="M367 1852h13v13h-13zM367 1807h13v13h-13zM380 1894h16v15h-16zM380 1778h16v13h-16zM396 1749h16v13h-16zM396 1733h16v16h-16zM412 1954h13v13h-13zM412 1718h13v15h-13zM425 1967h16v16h-16zM425 1705h16v13h-16zM441 1689h13v16h-13zM454 1676h16v13h-16zM470 1999h15v13h-15zM485 2012h14v16h-14zM485 1660h14v16h-14zM499 2012h15v16h-15zM543 2028h13v13h-13zM543 1644h13v16h-13zM556 1644h16v16h-16zM588 2028h13v13h-13zM588 1644h13v16h-13zM601 2028h16v13h-16zM617 1644h13v16h-13zM630 1644h16v16h-16zM646 2012h15v16h-15zM646 1644h15v16h-15zM661 2012h14v16h-14zM661 1660h14v16h-14zM690 1676h13v13h-13zM703 1983h16v16h-16zM719 1967h16v16h-16zM735 1954h13v13h-13zM735 1718h13v15h-13zM748 1733h16v16h-16zM764 1909h13v16h-13zM764 1778h13v13h-13zM764 1762h13v16h-13zM764 1749h13v13h-13zM777 1865h16v16h-16zM777 1852h16v13h-16zM777 1836h16v16h-16zM777 1820h16v16h-16zM777 1807h16v13h-16z"/>
<path fill="rgb(252,252,252)" d="M367 1894h13v15h-13zM367 1881h13v13h-13zM367 1865h13v16h-13zM367 1836h13v16h-13zM367 1820h13v16h-13zM367 1791h13v16h-13zM380 1909h16v16h-16zM380 1762h16v16h-16zM380 1749h16v13h-16zM396 1938h16v16h-16zM396 1718h16v15h-16zM412 1705h13v13h-13zM425 1689h16v16h-16zM441 1999h13v13h-13zM454 1999h16v13h-16zM470 1660h15v16h-15zM499 1644h15v16h-15zM514 2028h13v13h-13zM514 1644h13v16h-13zM527 2028h16v13h-16zM556 2028h16v13h-16zM556 1631h16v13h-16zM572 2041h16v16h-16zM572 2028h16v13h-16zM572 1631h16v13h-16zM617 2028h13v13h-13zM630 2028h16v13h-16zM675 2012h15v16h-15zM675 1660h15v16h-15zM690 1999h13v13h-13zM703 1676h16v13h-16zM719 1689h16v16h-16zM735 1967h13v16h-13zM735 1705h13v13h-13zM748 1938h16v16h-16zM748 1718h16v15h-16zM764 1925h13v13h-13zM777 1894h16v15h-16zM777 1881h16v13h-16zM777 1791h16v16h-16zM777 1778h16v13h-16z"/>
<path fill="rgb(253,253,253)" d="M351 1894h16v15h-16zM351 1852h16v13h-16zM351 1836h16v16h-16zM351 1820h16v16h-16zM367 1925h13v13h-13zM367 1909h13v16h-13zM367 1778h13v13h-13zM367 1762h13v16h-13zM380 1938h16v16h-16zM380 1925h16v13h-16zM380 1733h16v16h-16zM396 1954h16v13h-16zM396 1705h16v13h-16zM412 1967h13v16h-13zM412 1689h13v16h-13zM425 1983h16v16h-16zM441 1983h13v16h-13zM441 1676h13v13h-13zM454 2012h16v16h-16zM454 1660h16v16h-16zM470 2012h15v16h-15zM470 1644h15v16h-15zM485 2028h14v13h-14zM485 1644h14v16h-14zM499 2028h15v13h-15zM499 1631h15v13h-15zM514 1631h13v13h-13zM527 2041h16v16h-16zM527 1631h16v13h-16zM543 2041h13v16h-13zM543 1631h13v13h-13zM556 2041h16v16h-16zM588 2041h13v16h-13zM588 1631h13v13h-13zM601 2041h16v16h-16zM601 1631h16v13h-16zM617 2041h13v16h-13zM617 1631h13v13h-13zM630 2041h16v16h-16zM630 1631h16v13h-16zM646 2028h15v13h-15zM646 1631h15v13h-15zM661 2028h14v13h-14zM661 1644h14v16h-14zM690 2012h13v16h-13zM690 1660h13v16h-13zM703 1999h16v13h-16zM703 1660h16v16h-16zM719 1999h16v13h-16zM719 1983h16v16h-16zM719 1676h16v13h-16zM735 1983h13v16h-13zM735 1689h13v16h-13zM748 1967h16v16h-16zM748 1954h16v13h-16zM748 1705h16v13h-16zM764 1938h13v16h-13zM764 1733h13v16h-13zM764 1718h13v15h-13zM777 1925h16v13h-16zM777 1909h16v16h-16zM777 1762h16v16h-16zM777 1749h16v13h-16zM793 1881h16v13h-16zM793 1865h16v16h-16zM793 1852h16v13h-16zM793 1836h16v16h-16zM793 1820h16v16h-16zM793 1807h16v13h-16zM793 1791h16v16h-16zM793 1778h16v13h-16zM793 1762h16v16h-16z"/>
<path fill="rgb(254,254,254)" d="M323 1865h15v16h-15zM338 1894h13v15h-13zM338 1881h13v13h-13zM338 1865h13v16h-13zM338 1836h13v16h-13zM338 1820h13v16h-13zM338 1807h13v13h-13zM338 1778h13v13h-13zM338 1749h13v13h-13zM351 1925h16v13h-16zM351 1909h16v16h-16zM351 1881h16v13h-16zM351 1865h16v16h-16zM351 1807h16v13h-16zM351 1791h16v16h-16zM351 1778h16v13h-16zM351 1762h16v16h-16zM351 1749h16v13h-16zM351 1733h16v16h-16zM367 1954h13v13h-13zM367 1938h13v16h-13zM367 1749h13v13h-13zM367 1733h13v16h-13zM367 1718h13v15h-13zM380 1983h16v16h-16zM380 1967h16v16h-16zM380 1954h16v13h-16zM380 1718h16v15h-16zM380 1705h16v13h-16zM380 1689h16v16h-16zM396 1999h16v13h-16zM396 1983h16v16h-16zM396 1967h16v16h-16zM396 1689h16v16h-16zM396 1676h16v13h-16zM412 2012h13v16h-13zM412 1999h13v13h-13zM412 1983h13v16h-13zM412 1676h13v13h-13zM412 1660h13v16h-13zM425 2012h16v16h-16zM425 1999h16v13h-16zM425 1676h16v13h-16zM425 1660h16v16h-16zM425 1644h16v16h-16zM441 2028h13v13h-13zM441 2012h13v16h-13zM441 1660h13v16h-13zM441 1644h13v16h-13zM454 2041h16v16h-16zM454 2028h16v13h-16zM454 1644h16v16h-16zM454 1631h16v13h-16zM470 2041h15v16h-15zM470 2028h15v13h-15zM470 1631h15v13h-15zM485 2041h14v16h-14zM485 1631h14v13h-14zM485 1602h14v13h-14zM499 2057h15v13h-15zM499 2041h15v16h-15zM499 1615h15v16h-15zM514 2070h13v16h-13zM514 2041h13v16h-13zM514 1615h13v16h-13zM514 1602h13v13h-13zM527 2070h16v16h-16zM527 2057h16v13h-16zM527 1615h16v16h-16zM527 1602h16v13h-16zM543 2057h13v13h-13zM543 1615h13v16h-13zM543 1602h13v13h-13zM556 2070h16v16h-16zM556 2057h16v13h-16zM556 1615h16v16h-16zM556 1602h16v13h-16zM572 2070h16v16h-16zM572 2057h16v13h-16zM572 1615h16v16h-16zM572 1602h16v13h-16zM588 2057h13v13h-13zM588 1615h13v16h-13zM588 1602h13v13h-13zM601 2057h16v13h-16zM601 1615h16v16h-16zM601 1602h16v13h-16zM617 2057h13v13h-13zM617 1615h13v16h-13zM617 1602h13v13h-13zM630 2070h16v16h-16zM630 2057h16v13h-16zM630 1615h16v16h-16zM630 1602h16v13h-16zM646 2057h15v13h-15zM646 2041h15v16h-15zM646 1615h15v16h-15zM661 2057h14v13h-14zM661 2041h14v16h-14zM661 1631h14v13h-14zM675 2041h15v16h-15zM675 2028h15v13h-15zM675 1644h15v16h-15zM675 1631h15v13h-15zM690 2041h13v16h-13zM690 2028h13v13h-13zM690 1644h13v16h-13zM690 1631h13v13h-13zM703 2012h16v16h-16zM703 1644h16v16h-16zM719 2012h16v16h-16zM719 1660h16v16h-16zM735 2012h13v16h-13zM735 1999h13v13h-13zM735 1676h13v13h-13zM748 1983h16v16h-16zM748 1689h16v16h-16zM748 1676h16v13h-16zM764 1999h13v13h-13zM764 1983h13v16h-13zM764 1967h13v16h-13zM764 1954h13v13h-13zM764 1705h13v13h-13zM764 1689h13v16h-13zM777 1967h16v16h-16zM777 1954h16v13h-16zM777 1938h16v16h-16zM777 1733h16v16h-16zM777 1718h16v15h-16zM777 1705h16v13h-16zM793 1938h16v16h-16zM793 1925h16v13h-16zM793 1909h16v16h-16zM793 1894h16v15h-16zM793 1749h16v13h-16zM793 1733h16v16h-16zM809 1925h13v13h-13zM809 1894h13v15h-13zM809 1881h13v13h-13zM809 1865h13v16h-13zM809 1852h13v13h-13zM809 1836h13v16h-13zM809 1820h13v16h-13zM809 1807h13v13h-13zM809 1791h13v16h-13zM809 1778h13v13h-13zM809 1762h13v16h-13zM809 1749h13v13h-13zM822 1894h13v15h-13zM822 1881h13v13h-13zM822 1865h13v16h-13zM822 1852h13v13h-13zM822 1820h13v16h-13zM822 1778h13v13h-13z"/>
</g>
<circle cx="394.53" cy="1866.38" r="7.89" fill="#ff0000"/>
<path d="M605.3 1747.4L589 1744L577.8 1744.8L564.1 1743.5L548.8 1746.9L531.8 1753.4L518 1762.1L506.6 1771.2L497.4 1778.1L489 1790.1L479 1803.8L474.6 1814.1L472.2 1832.8L471.9 1847L472.1 1861.3L476 1874L483.2 1889.9L489.1 1900.6L495.7 1910.3L507.3 1921.3L522.2 1930.1L533.8 1938L549.3 1944.2L561.4 1946.2L583.3 1945.1L595.7 1943.5L611.6 1941.8L624.1 1937.8L636.5 1929.4L651 1920.8L659.8 1910.4L671.4 1897.4L675.9 1887.5L684.1 1871.2L685.9 1860.2L685.2 1842L684.6 1827.5L681.5 1817.7L677.6 1802.4L670.6 1790.3L657.6 1774.8L646.5 1766.8L633 1755.9L619.1 1751.5Z" fill="none" stroke="#0000ff" stroke-width="2.42" stroke-linejoin="round"/>
<path d="M442.1 1944L454 1956L465.5 1965.9L477.9 1975.8L489.7 1981.8L502.8 1989L516.6 1995.8L532.3 2001.2L544.3 2003.7L558.2 2007.1L578.5 2006.4L588.9 2006.3L607.3 2004.4L624.2 1999.7L634.8 1998.1L647 1993.5L664 1984.8L679.5 1975.3L688.2 1969.7L698.6 1960.2L707.5 1949.3L719.6 1935.3L725.4 1926.2L732.9 1911.6L740.6 1897L743.2 1880.6L747 1871.6L747.9 1853.4L747.8 1838.9L747.1 1826.9L747.6 1815L744.3 1798.5L736.4 1781.9L730.8 1771.6L724.4 1761.5L712.3 1746.4L701.4 1736.3L695.9 1728L682 1720L666.5 1707.5L653.3 1700.1L644.3 1697.1L625.8 1691.8L611.3 1688.4L598.4 1686.5L581.3 1686.3L564.7 1686.3L552.1 1687.5L535.5 1688.9L518.8 1695L510.5 1699.5L492.1 1708.6L482.2 1712.9L471.4 1720.1L455.1 1734.3L445.8 1744L438.7 1756.5L431 1763.8L421.3 1781.3L417.5 1795.3L413.8 1803.9L410.3 1818.1L408.2 1834.4L407.2 1852.1L409.6 1864.8L412.1 1876.5L413.2 1890.2L418.9 1904.5L425.5 1916.5L432.9 1930.6Z" fill="none" stroke="#0000ff" stroke-width="1.68" stroke-dasharray="4.86 2.1" stroke-linejoin="round"/>
</g>
<path d="M276.94 2160.1v9.18M394.53 2160.1v9.18M512.11 2160.1v9.18M629.69 2160.1v9.18M747.27 2160.1v9.18M247.55 2101.36h-9.18M247.55 1983.87h-9.18M247.55 1866.38h-9.18M247.55 1748.88h-9.18M247.55 1631.39h-9.18" stroke="#000" stroke-width="2.32" fill="none"/>
<rect x="247.55" y="1572.65" width="587.9" height="587.45" fill="none" stroke="#000" stroke-width="2.32"/>
<g font-size="26.34px" text-anchor="middle">
<text x="277.25" y="2199.1">−2</text>
<text x="394.83" y="2199.1">0</text>
<text x="512.4" y="2199.1">2</text>
<text x="629.99" y="2199.1">4</text>
<text x="747.57" y="2199.1">6</text>
</g>
<g font-size="26.34px" text-anchor="end">
<text x="229.2" y="2111.51">−4</text>
<text x="229.2" y="1994.02">−2</text>
<text x="229.2" y="1876.53">0</text>
<text x="229.2" y="1759.04">2</text>
<text x="229.2" y="1641.55">4</text>
</g>
<text x="541.1" y="1556.05" font-size="31.54px" text-anchor="middle">LPGS velocity change</text>
<text x="541.5" y="2234.4" font-size="26.34px" text-anchor="middle">East component [mm/yr]</text>
<text transform="translate(173.9 1866.88) rotate(-90)" font-size="26.34px" text-anchor="middle">North component [mm/yr]</text>
</g>
<g id="ax5">
<g clip-path="url(#cp5)">
<g shape-rendering="crispEdges">
<path fill="rgb(0,0,0)" d="M1263 1865h13v16h-13z"/>
<path fill="rgb(4,4,4)" d="M1263 1852h13v13h-13z"/>
<path fill="rgb(8,8,8)" d="M1247 1865h16v16h-16z"/>
<path fill="rgb(10,10,10)" d="M1276 1865h16v16h-16z"/>
<path fill="rgb(11,11,11)" d="M1247 1852h16v13h-16z"/>
<path fill="rgb(15,15,15)" d="M1263 1836h13v16h-13zM1276 1836h16v16h-16z"/>
<path fill="rgb(16,16,16)" d="M1247 1836h16v16h-16z"/>
<path fill="rgb(17,17,17)" d="M1234 1852h13v13h-13zM1276 1852h16v13h-16z"/>
<path fill="rgb(20,20,20)" d="M1263 1881h13v13h-13zM1263 1820h13v16h-13z"/>
<path fill="rgb(24,24,24)" d="M1234 1865h13v16h-13zM1247 1881h16v13h-16z"/>
<path fill="rgb(26,26,26)" d="M1234 1836h13v16h-13z"/>
<path fill="rgb(28,28,28)" d="M1292 1852h16v13h-16z"/>
<path fill="rgb(29,29,29)" d="M1276 1820h16v16h-16z"/>
<path fill="rgb(30,30,30)" d="M1276 1881h16v13h-16z"/>
<path fill="rgb(31,31,31)" d="M1292 1865h16v16h-16z"/>
<path fill="rgb(32,32,32)" d="M1247 1820h16v16h-16z"/>
<path fill="rgb(36,36,36)" d="M1234 1881h13v13h-13zM1234 1820h13v16h-13zM1292 1836h16v16h-16z"/>
<path fill="rgb(38,38,38)" d="M1218 1852h16v13h-16z"/>
<path fill="rgb(43,43,43)" d="M1276 1894h16v15h-16zM1292 1820h16v16h-16z"/>
<path fill="rgb(45,45,45)" d="M1292 1881h16v13h-16z"/>
<path fill="rgb(46,46,46)" d="M1218 1865h16v16h-16z"/>
<path fill="rgb(47,47,47)" d="M1263 1894h13v15h-13zM1263 1807h13v13h-13z"/>
<path fill="rgb(48,48,48)" d="M1218 1836h16v16h-16z"/>
<path fill="rgb(49,49,49)" d="M1247 1894h16v15h-16zM1308 1852h13v13h-13z"/>
<path fill="rgb(51,51,51)" d="M1276 1807h16v13h-16z"/>
<path fill="rgb(54,54,54)" d="M1218 1820h16v16h-16zM1247 1807h16v13h-16z"/>
<path fill="rgb(55,55,55)" d="M1218 1881h16v13h-16z"/>
<path fill="rgb(57,57,57)" d="M1308 1865h13v16h-13zM1308 1836h13v16h-13z"/>
<path fill="rgb(59,59,59)" d="M1234 1894h13v15h-13zM1292 1894h16v15h-16z"/>
<path fill="rgb(62,62,62)" d="M1234 1807h13v13h-13zM1308 1881h13v13h-13z"/>
<path fill="rgb(67,67,67)" d="M1203 1852h15v13h-15z"/>
<path fill="rgb(69,69,69)" d="M1218 1894h16v15h-16zM1263 1909h13v16h-13zM1292 1807h16v13h-16z"/>
<path fill="rgb(71,71,71)" d="M1203 1865h15v16h-15z"/>
<path fill="rgb(72,72,72)" d="M1203 1836h15v16h-15zM1247 1909h16v16h-16zM1308 1820h13v16h-13z"/>
<path fill="rgb(75,75,75)" d="M1218 1807h16v13h-16zM1263 1791h13v16h-13zM1276 1909h16v16h-16z"/>
<path fill="rgb(78,78,78)" d="M1203 1881h15v13h-15z"/>
<path fill="rgb(80,80,80)" d="M1234 1909h13v16h-13zM1247 1791h16v16h-16z"/>
<path fill="rgb(81,81,81)" d="M1321 1852h16v13h-16z"/>
<path fill="rgb(82,82,82)" d="M1203 1820h15v16h-15zM1308 1894h13v15h-13z"/>
<path fill="rgb(83,83,83)" d="M1321 1865h16v16h-16zM1321 1836h16v16h-16z"/>
<path fill="rgb(86,86,86)" d="M1234 1791h13v16h-13zM1276 1791h16v16h-16zM1292 1909h16v16h-16z"/>
<path fill="rgb(91,91,91)" d="M1292 1791h16v16h-16zM1308 1807h13v13h-13zM1321 1820h16v16h-16z"/>
<path fill="rgb(92,92,92)" d="M1321 1881h16v13h-16z"/>
<path fill="rgb(95,95,95)" d="M1203 1894h15v15h-15z"/>
<path fill="rgb(96,96,96)" d="M1247 1925h16v13h-16z"/>
<path fill="rgb(97,97,97)" d="M1190 1852h13v13h-13zM1263 1925h13v13h-13z"/>
<path fill="rgb(99,99,99)" d="M1218 1909h16v16h-16z"/>
<path fill="rgb(102,102,102)" d="M1190 1865h13v16h-13zM1218 1791h16v16h-16z"/>
<path fill="rgb(104,104,104)" d="M1190 1881h13v13h-13zM1190 1836h13v16h-13zM1263 1778h13v13h-13z"/>
<path fill="rgb(105,105,105)" d="M1276 1925h16v13h-16zM1308 1909h13v16h-13z"/>
<path fill="rgb(106,106,106)" d="M1203 1807h15v13h-15zM1321 1894h16v15h-16z"/>
<path fill="rgb(107,107,107)" d="M1247 1778h16v13h-16z"/>
<path fill="rgb(108,108,108)" d="M1234 1925h13v13h-13z"/>
<path fill="rgb(109,109,109)" d="M1308 1791h13v16h-13z"/>
<path fill="rgb(110,110,110)" d="M1337 1852h13v13h-13zM1337 1836h13v16h-13z"/>
<path fill="rgb(111,111,111)" d="M1190 1820h13v16h-13zM1276 1778h16v13h-16zM1321 1807h16v13h-16zM1337 1865h13v16h-13z"/>
<path fill="rgb(112,112,112)" d="M1292 1925h16v13h-16z"/>
<path fill="rgb(116,116,116)" d="M1203 1909h15v16h-15z"/>
<path fill="rgb(119,119,119)" d="M1292 1778h16v13h-16z"/>
<path fill="rgb(120,120,120)" d="M1218 1925h16v13h-16zM1234 1778h13v13h-13z"/>
<path fill="rgb(121,121,121)" d="M1203 1791h15v16h-15zM1337 1881h13v13h-13z"/>
<path fill="rgb(123,123,123)" d="M1190 1894h13v15h-13z"/>
<path fill="rgb(125,125,125)" d="M1174 1852h16v13h-16zM1190 1807h13v13h-13zM1337 1820h13v16h-13z"/>
<path fill="rgb(127,127,127)" d="M1174 1836h16v16h-16z"/>
<path fill="rgb(128,128,128)" d="M1308 1925h13v13h-13z"/>
<path fill="rgb(129,129,129)" d="M1247 1938h16v16h-16zM1321 1909h16v16h-16z"/>
<path fill="rgb(130,130,130)" d="M1218 1778h16v13h-16zM1263 1938h13v16h-13zM1276 1938h16v16h-16z"/>
<path fill="rgb(131,131,131)" d="M1174 1865h16v16h-16zM1337 1894h13v15h-13z"/>
<path fill="rgb(132,132,132)" d="M1337 1807h13v13h-13z"/>
<path fill="rgb(133,133,133)" d="M1321 1791h16v16h-16z"/>
<path fill="rgb(134,134,134)" d="M1308 1778h13v13h-13z"/>
<path fill="rgb(135,135,135)" d="M1190 1909h13v16h-13z"/>
<path fill="rgb(136,136,136)" d="M1174 1881h16v13h-16zM1203 1925h15v13h-15z"/>
<path fill="rgb(137,137,137)" d="M1234 1938h13v16h-13zM1247 1762h16v16h-16z"/>
<path fill="rgb(139,139,139)" d="M1174 1820h16v16h-16zM1263 1762h13v16h-13zM1292 1938h16v16h-16zM1350 1852h16v13h-16z"/>
<path fill="rgb(140,140,140)" d="M1276 1762h16v16h-16z"/>
<path fill="rgb(141,141,141)" d="M1350 1865h16v16h-16z"/>
<path fill="rgb(142,142,142)" d="M1203 1778h15v13h-15z"/>
<path fill="rgb(143,143,143)" d="M1190 1791h13v16h-13zM1234 1762h13v16h-13z"/>
<path fill="rgb(145,145,145)" d="M1350 1881h16v13h-16zM1350 1836h16v16h-16z"/>
<path fill="rgb(146,146,146)" d="M1218 1938h16v16h-16z"/>
<path fill="rgb(147,147,147)" d="M1321 1925h16v13h-16z"/>
<path fill="rgb(148,148,148)" d="M1174 1894h16v15h-16z"/>
<path fill="rgb(150,150,150)" d="M1292 1762h16v16h-16z"/>
<path fill="rgb(151,151,151)" d="M1174 1807h16v13h-16zM1337 1791h13v16h-13zM1350 1820h16v16h-16z"/>
<path fill="rgb(152,152,152)" d="M1321 1778h16v13h-16zM1337 1909h13v16h-13z"/>
<path fill="rgb(154,154,154)" d="M1308 1938h13v16h-13z"/>
<path fill="rgb(155,155,155)" d="M1161 1836h13v16h-13zM1218 1762h16v16h-16z"/>
<path fill="rgb(156,156,156)" d="M1161 1852h13v13h-13z"/>
<path fill="rgb(159,159,159)" d="M1161 1881h13v13h-13zM1161 1865h13v16h-13zM1247 1954h16v13h-16zM1308 1762h13v16h-13z"/>
<path fill="rgb(160,160,160)" d="M1190 1925h13v13h-13zM1263 1954h13v13h-13zM1276 1954h16v13h-16zM1350 1894h16v15h-16z"/>
<path fill="rgb(161,161,161)" d="M1174 1909h16v16h-16z"/>
<path fill="rgb(162,162,162)" d="M1161 1820h13v16h-13zM1366 1852h15v13h-15z"/>
<path fill="rgb(163,163,163)" d="M1203 1938h15v16h-15zM1203 1762h15v16h-15z"/>
<path fill="rgb(164,164,164)" d="M1190 1778h13v13h-13zM1234 1954h13v13h-13zM1292 1954h16v13h-16zM1350 1807h16v13h-16z"/>
<path fill="rgb(165,165,165)" d="M1174 1791h16v16h-16zM1263 1749h13v13h-13z"/>
<path fill="rgb(166,166,166)" d="M1276 1749h16v13h-16zM1337 1925h13v13h-13z"/>
<path fill="rgb(167,167,167)" d="M1247 1749h16v13h-16zM1321 1938h16v16h-16z"/>
<path fill="rgb(168,168,168)" d="M1218 1954h16v13h-16zM1350 1909h16v16h-16zM1366 1836h15v16h-15z"/>
<path fill="rgb(169,169,169)" d="M1337 1778h13v13h-13zM1366 1865h15v16h-15z"/>
<path fill="rgb(170,170,170)" d="M1234 1749h13v13h-13z"/>
<path fill="rgb(172,172,172)" d="M1292 1749h16v13h-16zM1321 1762h16v16h-16z"/>
<path fill="rgb(173,173,173)" d="M1161 1894h13v15h-13zM1161 1807h13v13h-13zM1308 1954h13v13h-13z"/>
<path fill="rgb(174,174,174)" d="M1174 1925h16v13h-16zM1350 1791h16v16h-16z"/>
<path fill="rgb(176,176,176)" d="M1190 1938h13v16h-13zM1366 1881h15v13h-15z"/>
<path fill="rgb(177,177,177)" d="M1366 1820h15v16h-15z"/>
<path fill="rgb(179,179,179)" d="M1366 1894h15v15h-15z"/>
<path fill="rgb(180,180,180)" d="M1145 1852h16v13h-16zM1174 1778h16v13h-16zM1203 1954h15v13h-15zM1218 1749h16v13h-16zM1263 1967h13v16h-13z"/>
<path fill="rgb(181,181,181)" d="M1145 1836h16v16h-16zM1190 1762h13v16h-13zM1337 1938h13v16h-13z"/>
<path fill="rgb(182,182,182)" d="M1145 1865h16v16h-16zM1247 1967h16v16h-16z"/>
<path fill="rgb(183,183,183)" d="M1161 1909h13v16h-13zM1308 1749h13v13h-13z"/>
<path fill="rgb(184,184,184)" d="M1276 1967h16v16h-16z"/>
<path fill="rgb(185,185,185)" d="M1145 1820h16v16h-16zM1161 1791h13v16h-13zM1350 1925h16v13h-16z"/>
<path fill="rgb(186,186,186)" d="M1145 1881h16v13h-16zM1234 1967h13v16h-13zM1337 1762h13v16h-13zM1366 1807h15v13h-15z"/>
<path fill="rgb(187,187,187)" d="M1247 1733h16v16h-16z"/>
<path fill="rgb(188,188,188)" d="M1203 1749h15v13h-15z"/>
<path fill="rgb(189,189,189)" d="M1263 1733h13v16h-13zM1276 1733h16v16h-16zM1292 1967h16v16h-16zM1321 1954h16v13h-16zM1350 1778h16v13h-16zM1381 1852h14v13h-14z"/>
<path fill="rgb(190,190,190)" d="M1366 1791h15v16h-15z"/>
<path fill="rgb(191,191,191)" d="M1218 1967h16v16h-16zM1366 1909h15v16h-15z"/>
<path fill="rgb(192,192,192)" d="M1174 1762h16v16h-16zM1190 1954h13v13h-13zM1292 1733h16v16h-16z"/>
<path fill="rgb(193,193,193)" d="M1161 1778h13v13h-13zM1174 1938h16v16h-16zM1234 1733h13v16h-13zM1321 1749h16v13h-16zM1381 1881h14v13h-14zM1381 1865h14v16h-14z"/>
<path fill="rgb(194,194,194)" d="M1145 1894h16v15h-16zM1145 1807h16v13h-16zM1190 1749h13v13h-13zM1308 1967h13v16h-13zM1381 1836h14v16h-14z"/>
<path fill="rgb(196,196,196)" d="M1337 1954h13v13h-13zM1350 1938h16v16h-16z"/>
<path fill="rgb(197,197,197)" d="M1161 1925h13v13h-13zM1366 1925h15v13h-15zM1381 1820h14v16h-14z"/>
<path fill="rgb(199,199,199)" d="M1218 1733h16v16h-16zM1350 1762h16v16h-16zM1381 1894h14v15h-14z"/>
<path fill="rgb(200,200,200)" d="M1129 1852h16v13h-16zM1145 1791h16v16h-16zM1308 1733h13v16h-13z"/>
<path fill="rgb(201,201,201)" d="M1145 1909h16v16h-16zM1203 1967h15v16h-15z"/>
<path fill="rgb(202,202,202)" d="M1129 1836h16v16h-16zM1263 1983h13v16h-13zM1381 1807h14v13h-14z"/>
<path fill="rgb(203,203,203)" d="M1129 1865h16v16h-16z"/>
<path fill="rgb(204,204,204)" d="M1161 1938h13v16h-13zM1174 1954h16v13h-16zM1234 1983h13v16h-13zM1247 1983h16v16h-16zM1337 1749h13v13h-13zM1366 1778h15v13h-15z"/>
<path fill="rgb(205,205,205)" d="M1129 1881h16v13h-16zM1129 1820h16v16h-16zM1203 1733h15v16h-15zM1276 1983h16v16h-16zM1321 1967h16v16h-16zM1381 1909h14v16h-14z"/>
<path fill="rgb(206,206,206)" d="M1247 1718h16v15h-16z"/>
<path fill="rgb(207,207,207)" d="M1174 1749h16v13h-16z"/>
<path fill="rgb(208,208,208)" d="M1263 1718h13v15h-13z"/>
<path fill="rgb(209,209,209)" d="M1129 1894h16v15h-16zM1145 1925h16v13h-16zM1161 1762h13v16h-13zM1292 1983h16v16h-16zM1321 1733h16v16h-16zM1350 1954h16v13h-16zM1366 1938h15v16h-15zM1381 1791h14v16h-14zM1395 1865h15v16h-15z"/>
<path fill="rgb(210,210,210)" d="M1129 1807h16v13h-16zM1234 1718h13v15h-13zM1337 1967h13v16h-13z"/>
<path fill="rgb(211,211,211)" d="M1145 1778h16v13h-16zM1190 1967h13v16h-13zM1218 1983h16v16h-16zM1276 1718h16v15h-16zM1292 1718h16v15h-16zM1308 1983h13v16h-13zM1395 1836h15v16h-15z"/>
<path fill="rgb(213,213,213)" d="M1366 1762h15v16h-15zM1395 1852h15v13h-15z"/>
<path fill="rgb(214,214,214)" d="M1190 1733h13v16h-13zM1218 1718h16v15h-16zM1350 1749h16v13h-16zM1395 1881h15v13h-15z"/>
<path fill="rgb(215,215,215)" d="M1129 1909h16v16h-16zM1129 1791h16v16h-16zM1381 1925h14v13h-14zM1395 1894h15v15h-15zM1395 1820h15v16h-15z"/>
<path fill="rgb(216,216,216)" d="M1161 1954h13v13h-13zM1203 1983h15v16h-15zM1308 1718h13v15h-13zM1337 1733h13v16h-13zM1381 1778h14v13h-14zM1395 1807h15v13h-15z"/>
<path fill="rgb(217,217,217)" d="M1116 1836h13v16h-13zM1321 1983h16v16h-16z"/>
<path fill="rgb(218,218,218)" d="M1145 1938h16v16h-16zM1161 1749h13v13h-13z"/>
<path fill="rgb(219,219,219)" d="M1116 1852h13v13h-13zM1174 1967h16v16h-16zM1203 1718h15v15h-15zM1247 1999h16v13h-16zM1276 1999h16v13h-16z"/>
<path fill="rgb(220,220,220)" d="M1116 1881h13v13h-13zM1145 1762h16v16h-16zM1263 1999h13v13h-13zM1366 1749h15v13h-15z"/>
<path fill="rgb(221,221,221)" d="M1116 1865h13v16h-13zM1129 1925h16v13h-16zM1174 1733h16v16h-16zM1350 1967h16v16h-16z"/>
<path fill="rgb(222,222,222)" d="M1190 1983h13v16h-13zM1234 1999h13v13h-13zM1263 1705h13v13h-13zM1366 1954h15v13h-15zM1381 1938h14v16h-14zM1395 1909h15v16h-15z"/>
<path fill="rgb(223,223,223)" d="M1218 1999h16v13h-16zM1276 1705h16v13h-16zM1292 1999h16v13h-16zM1410 1852h13v13h-13z"/>
<path fill="rgb(224,224,224)" d="M1116 1894h13v15h-13zM1116 1807h13v13h-13zM1129 1778h16v13h-16zM1161 1967h13v16h-13zM1190 1718h13v15h-13zM1247 1705h16v13h-16zM1292 1705h16v13h-16zM1321 1718h16v15h-16zM1337 1983h13v16h-13z"/>
<path fill="rgb(225,225,225)" d="M1116 1820h13v16h-13zM1350 1733h16v16h-16zM1395 1791h15v16h-15zM1410 1836h13v16h-13z"/>
<path fill="rgb(226,226,226)" d="M1234 1705h13v13h-13zM1337 1718h13v15h-13zM1381 1762h14v16h-14zM1410 1881h13v13h-13zM1410 1865h13v16h-13zM1410 1820h13v16h-13z"/>
<path fill="rgb(227,227,227)" d="M1308 1999h13v13h-13zM1395 1925h15v13h-15zM1395 1778h15v13h-15z"/>
<path fill="rgb(228,228,228)" d="M1129 1938h16v16h-16zM1145 1954h16v13h-16zM1161 1733h13v16h-13zM1174 1983h16v16h-16zM1203 1999h15v13h-15zM1218 1705h16v13h-16zM1366 1967h15v16h-15z"/>
<path fill="rgb(229,229,229)" d="M1116 1909h13v16h-13zM1116 1791h13v16h-13zM1129 1762h16v16h-16zM1145 1749h16v13h-16zM1321 1999h16v13h-16zM1410 1894h13v15h-13zM1410 1807h13v13h-13z"/>
<path fill="rgb(230,230,230)" d="M1203 1705h15v13h-15zM1308 1705h13v13h-13z"/>
<path fill="rgb(231,231,231)" d="M1100 1865h16v16h-16zM1100 1852h16v13h-16zM1247 2012h16v16h-16zM1276 2012h16v16h-16zM1350 1983h16v16h-16zM1381 1954h14v13h-14zM1410 1909h13v16h-13z"/>
<path fill="rgb(232,232,232)" d="M1100 1836h16v16h-16zM1100 1820h16v16h-16zM1116 1778h13v13h-13zM1190 1999h13v13h-13zM1234 2012h13v16h-13zM1263 2012h13v16h-13zM1292 2012h16v16h-16zM1321 1705h16v13h-16zM1350 1718h16v15h-16zM1381 1749h14v13h-14zM1395 1938h15v16h-15z"/>
<path fill="rgb(233,233,233)" d="M1100 1881h16v13h-16zM1145 1967h16v16h-16zM1161 1983h13v16h-13zM1174 1718h16v15h-16zM1190 1705h13v13h-13zM1276 1689h16v16h-16zM1366 1733h15v16h-15z"/>
<path fill="rgb(234,234,234)" d="M1116 1925h13v13h-13zM1129 1749h16v13h-16zM1145 1733h16v16h-16zM1218 2012h16v16h-16zM1247 1689h16v16h-16zM1263 1689h13v16h-13zM1395 1762h15v16h-15zM1410 1791h13v16h-13zM1423 1852h16v13h-16z"/>
<path fill="rgb(235,235,235)" d="M1100 1894h16v15h-16zM1100 1807h16v13h-16zM1129 1954h16v13h-16zM1234 1689h13v16h-13zM1308 2012h13v16h-13zM1337 1999h13v13h-13zM1337 1705h13v13h-13zM1410 1925h13v13h-13zM1423 1820h16v16h-16z"/>
<path fill="rgb(236,236,236)" d="M1218 1689h16v16h-16zM1292 1689h16v16h-16zM1366 1983h15v16h-15zM1423 1865h16v16h-16z"/>
<path fill="rgb(237,237,237)" d="M1161 1718h13v15h-13zM1174 1999h16v13h-16zM1308 1689h13v16h-13zM1321 2012h16v16h-16zM1381 1967h14v16h-14zM1381 1733h14v16h-14zM1410 1778h13v13h-13zM1423 1881h16v13h-16zM1423 1836h16v16h-16z"/>
<path fill="rgb(238,238,238)" d="M1100 1909h16v16h-16zM1100 1791h16v16h-16zM1116 1938h13v16h-13zM1116 1762h13v16h-13zM1145 1983h16v16h-16zM1174 1705h16v13h-16zM1203 2012h15v16h-15zM1203 1689h15v16h-15zM1350 1999h16v13h-16zM1366 1718h15v15h-15zM1423 1894h16v15h-16zM1423 1807h16v13h-16z"/>
<path fill="rgb(239,239,239)" d="M1129 1967h16v16h-16zM1350 1705h16v13h-16zM1395 1954h15v13h-15zM1395 1749h15v13h-15zM1423 1909h16v16h-16z"/>
<path fill="rgb(240,240,240)" d="M1087 1865h13v16h-13zM1087 1852h13v13h-13zM1087 1820h13v16h-13zM1116 1954h13v13h-13zM1145 1718h16v15h-16zM1161 1999h13v13h-13zM1190 2012h13v16h-13zM1263 2028h13v13h-13zM1276 2028h16v13h-16z"/>
<path fill="rgb(241,241,241)" d="M1087 1894h13v15h-13zM1087 1836h13v16h-13zM1100 1925h16v13h-16zM1129 1733h16v16h-16zM1247 2028h16v13h-16zM1263 1676h13v13h-13zM1292 2028h16v13h-16zM1321 1689h16v16h-16zM1381 1983h14v16h-14zM1410 1938h13v16h-13zM1423 1791h16v16h-16z"/>
<path fill="rgb(242,242,242)" d="M1087 1881h13v13h-13zM1100 1778h16v13h-16zM1116 1749h13v13h-13zM1161 1705h13v13h-13zM1190 1689h13v16h-13zM1218 2028h16v13h-16zM1234 2028h13v13h-13zM1234 1676h13v13h-13zM1247 1676h16v13h-16zM1308 2028h13v13h-13zM1337 2012h13v16h-13zM1395 1967h15v16h-15zM1410 1762h13v16h-13zM1423 1925h16v13h-16zM1423 1778h16v13h-16zM1439 1865h16v16h-16zM1439 1820h16v16h-16z"/>
<path fill="rgb(243,243,243)" d="M1087 1807h13v13h-13zM1100 1938h16v16h-16zM1129 1983h16v16h-16zM1174 2012h16v16h-16zM1276 1676h16v13h-16zM1292 1676h16v13h-16zM1337 1689h13v16h-13zM1366 1999h15v13h-15zM1366 1705h15v13h-15zM1381 1718h14v15h-14zM1423 1938h16v16h-16zM1439 1881h16v13h-16zM1439 1852h16v13h-16zM1439 1836h16v16h-16z"/>
<path fill="rgb(244,244,244)" d="M1087 1909h13v16h-13zM1129 1718h16v15h-16zM1145 1999h16v13h-16zM1203 2028h15v13h-15zM1218 1676h16v13h-16zM1321 2028h16v13h-16zM1350 2012h16v16h-16zM1395 1733h15v16h-15zM1410 1954h13v13h-13zM1410 1749h13v13h-13zM1439 1894h16v15h-16z"/>
<path fill="rgb(245,245,245)" d="M1087 1925h13v13h-13zM1087 1791h13v16h-13zM1100 1954h16v13h-16zM1100 1762h16v16h-16zM1116 1967h13v16h-13zM1161 2012h13v16h-13zM1174 1689h16v16h-16zM1190 2028h13v13h-13zM1247 2041h16v16h-16zM1308 1676h13v13h-13zM1350 1689h16v16h-16zM1381 1999h14v13h-14zM1395 1983h15v16h-15zM1439 1909h16v16h-16zM1439 1807h16v13h-16z"/>
<path fill="rgb(246,246,246)" d="M1071 1894h16v15h-16zM1071 1881h16v13h-16zM1071 1852h16v13h-16zM1071 1836h16v16h-16zM1087 1778h13v13h-13zM1100 1749h16v13h-16zM1116 1733h13v16h-13zM1145 1705h16v13h-16zM1174 2028h16v13h-16zM1203 1676h15v13h-15zM1234 2041h13v16h-13zM1263 2041h13v16h-13zM1276 2041h16v16h-16zM1321 1676h16v13h-16zM1337 2028h13v13h-13zM1410 1967h13v16h-13zM1423 1762h16v16h-16zM1455 1852h13v13h-13z"/>
<path fill="rgb(247,247,247)" d="M1071 1865h16v16h-16zM1071 1820h16v16h-16zM1071 1807h16v13h-16zM1087 1938h13v16h-13zM1087 1762h13v16h-13zM1116 1983h13v16h-13zM1161 1689h13v16h-13zM1190 1676h13v13h-13zM1218 2041h16v16h-16zM1234 1660h13v16h-13zM1247 1660h16v16h-16zM1263 1660h13v16h-13zM1276 1660h16v16h-16zM1292 2041h16v16h-16zM1337 1676h13v13h-13zM1366 2012h15v16h-15zM1366 1689h15v16h-15zM1381 1705h14v13h-14zM1410 1733h13v16h-13zM1423 1749h16v13h-16zM1439 1925h16v13h-16zM1439 1791h16v16h-16zM1439 1778h16v13h-16zM1455 1865h13v16h-13z"/>
<path fill="rgb(248,248,248)" d="M1071 1909h16v16h-16zM1071 1791h16v16h-16zM1129 1999h16v13h-16zM1145 2012h16v16h-16zM1174 1676h16v13h-16zM1203 2041h15v16h-15zM1203 1660h15v16h-15zM1218 1660h16v16h-16zM1292 1660h16v16h-16zM1308 2041h13v16h-13zM1350 2028h16v13h-16zM1381 2012h14v16h-14zM1395 1999h15v13h-15zM1395 1718h15v15h-15zM1410 1983h13v16h-13zM1423 1954h16v13h-16zM1455 1836h13v16h-13zM1455 1820h13v16h-13zM1455 1807h13v13h-13z"/>
<path fill="rgb(249,249,249)" d="M1056 1865h15v16h-15zM1056 1852h15v13h-15zM1056 1820h15v16h-15zM1071 1778h16v13h-16zM1087 1954h13v13h-13zM1100 1967h16v16h-16zM1100 1733h16v16h-16zM1116 1718h13v15h-13zM1129 1705h16v13h-16zM1145 1689h16v16h-16zM1161 2028h13v13h-13zM1161 1676h13v13h-13zM1190 2041h13v16h-13zM1263 2057h13v13h-13zM1308 1660h13v16h-13zM1321 2041h16v16h-16zM1321 1660h16v16h-16zM1337 2041h13v16h-13zM1350 1676h16v13h-16zM1395 1705h15v13h-15zM1439 1938h16v16h-16zM1439 1762h16v16h-16zM1455 1909h13v16h-13zM1455 1894h13v15h-13zM1455 1881h13v13h-13z"/>
<path fill="rgb(250,250,250)" d="M1056 1881h15v13h-15zM1056 1836h15v16h-15zM1071 1938h16v16h-16zM1071 1925h16v13h-16zM1071 1762h16v16h-16zM1087 1967h13v16h-13zM1087 1749h13v13h-13zM1100 1983h16v16h-16zM1116 1999h13v13h-13zM1116 1705h13v13h-13zM1129 2012h16v16h-16zM1129 1689h16v16h-16zM1190 1660h13v16h-13zM1218 2057h16v13h-16zM1234 2057h13v13h-13zM1247 2057h16v13h-16zM1263 1644h13v16h-13zM1276 2057h16v13h-16zM1292 2057h16v13h-16zM1321 2057h16v13h-16zM1350 1660h16v16h-16zM1366 2028h15v13h-15zM1381 2028h14v13h-14zM1381 1689h14v16h-14zM1423 1967h16v16h-16zM1423 1733h16v16h-16zM1439 1749h16v13h-16zM1455 1791h13v16h-13zM1455 1778h13v13h-13zM1468 1852h16v13h-16z"/>
<path fill="rgb(251,251,251)" d="M1056 1925h15v13h-15zM1056 1909h15v16h-15zM1056 1894h15v15h-15zM1056 1807h15v13h-15zM1056 1791h15v16h-15zM1071 1954h16v13h-16zM1071 1749h16v13h-16zM1087 1733h13v16h-13zM1100 1999h16v13h-16zM1100 1718h16v15h-16zM1129 1676h16v13h-16zM1145 2028h16v13h-16zM1145 1676h16v13h-16zM1161 2041h13v16h-13zM1161 1660h13v16h-13zM1174 2041h16v16h-16zM1174 1660h16v16h-16zM1190 2057h13v13h-13zM1203 2057h15v13h-15zM1203 1644h15v16h-15zM1218 1644h16v16h-16zM1234 1644h13v16h-13zM1247 1644h16v16h-16zM1276 1644h16v16h-16zM1292 1644h16v16h-16zM1308 2057h13v13h-13zM1308 1644h13v16h-13zM1321 1644h16v16h-16zM1337 1660h13v16h-13zM1350 2041h16v16h-16zM1366 2041h15v16h-15zM1366 1676h15v13h-15zM1381 1676h14v13h-14zM1395 2012h15v16h-15zM1395 1689h15v16h-15zM1410 1999h13v13h-13zM1410 1718h13v15h-13zM1410 1705h13v13h-13zM1423 1983h16v16h-16zM1423 1718h16v15h-16zM1439 1967h16v16h-16zM1439 1954h16v13h-16zM1439 1733h16v16h-16zM1455 1938h13v16h-13zM1455 1925h13v13h-13zM1468 1894h16v15h-16zM1468 1881h16v13h-16zM1468 1865h16v16h-16zM1468 1836h16v16h-16zM1468 1820h16v16h-16zM1468 1807h16v13h-16z"/>
<path fill="rgb(252,252,252)" d="M1042 1894h14v15h-14zM1042 1881h14v13h-14zM1042 1865h14v16h-14zM1042 1852h14v13h-14zM1042 1836h14v16h-14zM1056 1938h15v16h-15zM1056 1778h15v13h-15zM1087 1983h13v16h-13zM1087 1718h13v15h-13zM1100 1705h16v13h-16zM1116 2012h13v16h-13zM1116 1689h13v16h-13zM1129 2041h16v16h-16zM1129 2028h16v13h-16zM1145 2041h16v16h-16zM1174 1644h16v16h-16zM1190 2070h13v16h-13zM1190 1644h13v16h-13zM1218 2070h16v16h-16zM1247 2070h16v16h-16zM1247 1631h16v13h-16zM1263 2070h13v16h-13zM1263 1631h13v13h-13zM1276 2070h16v16h-16zM1276 1631h16v13h-16zM1292 2070h16v16h-16zM1308 2070h13v16h-13zM1337 2057h13v13h-13zM1366 1660h15v16h-15zM1381 2041h14v16h-14zM1395 2028h15v13h-15zM1410 2012h13v16h-13zM1410 1689h13v16h-13zM1423 1999h16v13h-16zM1439 1983h16v16h-16zM1455 1954h13v13h-13zM1455 1762h13v16h-13zM1455 1749h13v13h-13zM1468 1925h16v13h-16zM1468 1909h16v16h-16zM1468 1791h16v16h-16zM1468 1778h16v13h-16zM1468 1762h16v16h-16zM1484 1865h13v16h-13zM1484 1836h13v16h-13z"/>
<path fill="rgb(253,253,253)" d="M1027 1852h15v13h-15zM1027 1836h15v16h-15zM1027 1820h15v16h-15zM1042 1938h14v16h-14zM1042 1925h14v13h-14zM1042 1909h14v16h-14zM1042 1820h14v16h-14zM1042 1807h14v13h-14zM1042 1791h14v16h-14zM1056 1967h15v16h-15zM1056 1954h15v13h-15zM1056 1762h15v16h-15zM1056 1749h15v13h-15zM1071 1999h16v13h-16zM1071 1983h16v16h-16zM1071 1967h16v16h-16zM1071 1733h16v16h-16zM1071 1718h16v15h-16zM1087 1999h13v13h-13zM1087 1705h13v13h-13zM1100 2028h16v13h-16zM1100 2012h16v16h-16zM1100 1689h16v16h-16zM1116 2028h13v13h-13zM1116 1676h13v13h-13zM1129 1660h16v16h-16zM1145 2057h16v13h-16zM1145 1660h16v16h-16zM1145 1644h16v16h-16zM1161 2057h13v13h-13zM1161 1644h13v16h-13zM1174 2070h16v16h-16zM1174 2057h16v13h-16zM1174 1631h16v13h-16zM1190 1631h13v13h-13zM1203 2070h15v16h-15zM1203 1631h15v13h-15zM1218 2086h16v15h-16zM1218 1631h16v13h-16zM1234 2086h13v15h-13zM1234 2070h13v16h-13zM1234 1631h13v13h-13zM1247 2086h16v15h-16zM1247 1615h16v16h-16zM1292 2086h16v15h-16zM1292 1631h16v13h-16zM1308 2086h13v15h-13zM1308 1631h13v13h-13zM1321 2086h16v15h-16zM1321 2070h16v16h-16zM1321 1631h16v13h-16zM1337 2070h13v16h-13zM1337 1644h13v16h-13zM1337 1631h13v13h-13zM1350 2070h16v16h-16zM1350 2057h16v13h-16zM1350 1644h16v16h-16zM1366 2057h15v13h-15zM1366 1644h15v16h-15zM1381 1660h14v16h-14zM1395 2041h15v16h-15zM1395 1676h15v13h-15zM1410 2028h13v13h-13zM1423 2012h16v16h-16zM1423 1705h16v13h-16zM1423 1689h16v16h-16zM1439 1999h16v13h-16zM1439 1718h16v15h-16zM1455 1967h13v16h-13zM1455 1733h13v16h-13zM1455 1718h13v15h-13zM1468 1967h16v16h-16zM1468 1938h16v16h-16zM1468 1749h16v13h-16zM1484 1909h13v16h-13zM1484 1894h13v15h-13zM1484 1881h13v13h-13zM1484 1852h13v13h-13zM1484 1820h13v16h-13zM1484 1807h13v13h-13zM1484 1791h13v16h-13zM1484 1778h13v13h-13zM1497 1865h16v16h-16z"/>
<path fill="rgb(254,254,254)" d="M998 1894h16v15h-16zM998 1865h16v16h-16zM998 1807h16v13h-16zM1014 1925h13v13h-13zM1014 1909h13v16h-13zM1014 1894h13v15h-13zM1014 1881h13v13h-13zM1014 1865h13v16h-13zM1014 1852h13v13h-13zM1014 1836h13v16h-13zM1014 1820h13v16h-13zM1014 1807h13v13h-13zM1014 1791h13v16h-13zM1014 1778h13v13h-13zM1027 1967h15v16h-15zM1027 1954h15v13h-15zM1027 1938h15v16h-15zM1027 1925h15v13h-15zM1027 1909h15v16h-15zM1027 1894h15v15h-15zM1027 1881h15v13h-15zM1027 1865h15v16h-15zM1027 1807h15v13h-15zM1027 1791h15v16h-15zM1027 1778h15v13h-15zM1027 1762h15v16h-15zM1027 1749h15v13h-15zM1042 1999h14v13h-14zM1042 1983h14v16h-14zM1042 1967h14v16h-14zM1042 1954h14v13h-14zM1042 1778h14v13h-14zM1042 1762h14v16h-14zM1042 1749h14v13h-14zM1042 1733h14v16h-14zM1056 2012h15v16h-15zM1056 1999h15v13h-15zM1056 1983h15v16h-15zM1056 1733h15v16h-15zM1056 1718h15v15h-15zM1056 1705h15v13h-15zM1056 1689h15v16h-15zM1071 2012h16v16h-16zM1071 1705h16v13h-16zM1071 1689h16v16h-16zM1071 1676h16v13h-16zM1071 1660h16v16h-16zM1087 2041h13v16h-13zM1087 2028h13v13h-13zM1087 2012h13v16h-13zM1087 1689h13v16h-13zM1087 1676h13v13h-13zM1100 2041h16v16h-16zM1100 1676h16v13h-16zM1100 1660h16v16h-16zM1116 2070h13v16h-13zM1116 2057h13v13h-13zM1116 2041h13v16h-13zM1116 1660h13v16h-13zM1116 1644h13v16h-13zM1129 2070h16v16h-16zM1129 2057h16v13h-16zM1129 1644h16v16h-16zM1145 2086h16v15h-16zM1145 2070h16v16h-16zM1145 1631h16v13h-16zM1161 2086h13v15h-13zM1161 2070h13v16h-13zM1161 1631h13v13h-13zM1174 2086h16v15h-16zM1174 1615h16v16h-16zM1190 2086h13v15h-13zM1190 1615h13v16h-13zM1203 2114h15v16h-15zM1203 2086h15v15h-15zM1203 1615h15v16h-15zM1218 2101h16v13h-16zM1218 1615h16v16h-16zM1234 2101h13v13h-13zM1234 1615h13v16h-13zM1234 1602h13v13h-13zM1247 2114h16v16h-16zM1247 2101h16v13h-16zM1247 1602h16v13h-16zM1263 2101h13v13h-13zM1263 2086h13v15h-13zM1263 1615h13v16h-13zM1263 1602h13v13h-13zM1276 2101h16v13h-16zM1276 2086h16v15h-16zM1276 1615h16v16h-16zM1276 1602h16v13h-16zM1292 2101h16v13h-16zM1292 1615h16v16h-16zM1292 1602h16v13h-16zM1308 2101h13v13h-13zM1308 1615h13v16h-13zM1308 1602h13v13h-13zM1321 2101h16v13h-16zM1321 1615h16v16h-16zM1337 2086h13v15h-13zM1337 1615h13v16h-13zM1350 2086h16v15h-16zM1350 1631h16v13h-16zM1350 1615h16v16h-16zM1366 2070h15v16h-15zM1366 1631h15v13h-15zM1366 1615h15v16h-15zM1381 2086h14v15h-14zM1381 2070h14v16h-14zM1381 2057h14v13h-14zM1381 1644h14v16h-14zM1381 1631h14v13h-14zM1395 2070h15v16h-15zM1395 2057h15v13h-15zM1395 1660h15v16h-15zM1395 1644h15v16h-15zM1410 2070h13v16h-13zM1410 2057h13v13h-13zM1410 2041h13v16h-13zM1410 1676h13v13h-13zM1410 1660h13v16h-13zM1410 1644h13v16h-13zM1410 1631h13v13h-13zM1423 2057h16v13h-16zM1423 2041h16v16h-16zM1423 2028h16v13h-16zM1423 1676h16v13h-16zM1423 1660h16v16h-16zM1439 2028h16v13h-16zM1439 2012h16v16h-16zM1439 1705h16v13h-16zM1439 1689h16v16h-16zM1439 1676h16v13h-16zM1439 1660h16v16h-16zM1455 2028h13v13h-13zM1455 2012h13v16h-13zM1455 1999h13v13h-13zM1455 1983h13v16h-13zM1455 1705h13v13h-13zM1455 1689h13v16h-13zM1468 1999h16v13h-16zM1468 1983h16v16h-16zM1468 1954h16v13h-16zM1468 1733h16v16h-16zM1468 1718h16v15h-16zM1468 1705h16v13h-16zM1468 1689h16v16h-16zM1484 1983h13v16h-13zM1484 1967h13v16h-13zM1484 1954h13v13h-13zM1484 1938h13v16h-13zM1484 1925h13v13h-13zM1484 1762h13v16h-13zM1484 1749h13v13h-13zM1484 1733h13v16h-13zM1497 1938h16v16h-16zM1497 1925h16v13h-16zM1497 1909h16v16h-16zM1497 1894h16v15h-16zM1497 1881h16v13h-16zM1497 1852h16v13h-16zM1497 1836h16v16h-16zM1497 1820h16v16h-16zM1497 1807h16v13h-16zM1497 1791h16v16h-16zM1497 1778h16v13h-16zM1497 1762h16v16h-16zM1513 1909h13v16h-13zM1513 1894h13v15h-13zM1513 1881h13v13h-13zM1513 1865h13v16h-13zM1513 1852h13v13h-13zM1513 1820h13v16h-13zM1513 1807h13v13h-13z"/>
</g>
<circle cx="1070.14" cy="1778.26" r="7.89" fill="#ff0000"/>
<path d="M1163.8 1817.7L1157.5 1833.8L1155.9 1854.1L1153.4 1868L1157.9 1884L1160.1 1894.9L1163.6 1909.4L1174.9 1928.3L1184.3 1940.2L1196.6 1947.3L1208.8 1956.8L1226.8 1963.8L1241.9 1969.5L1250.9 1972.1L1273.6 1972.9L1288.2 1970.2L1300.4 1965.4L1318.9 1958.9L1326.8 1952.7L1342.6 1942L1354.5 1927L1362 1916.7L1368 1906.2L1374.1 1888.7L1377.1 1869L1376.4 1858.9L1374.2 1840.5L1370.2 1825.3L1364.8 1809.3L1356.2 1794.9L1344.1 1783.1L1333.5 1772.8L1323.7 1766.9L1306 1760.4L1293 1754L1274.4 1750.8L1256.6 1749.9L1247.7 1750.7L1228.3 1755.4L1213 1762.6L1203.4 1768.8L1190.9 1780.5L1175.6 1793.7L1167.1 1809.1Z" fill="none" stroke="#0000ff" stroke-width="2.42" stroke-linejoin="round"/>
<path d="M1096.1 1923.4L1100 1932.9L1108.5 1947.5L1115.6 1962L1126.7 1975.1L1138.3 1990.1L1150.1 2001.5L1163.4 2013.2L1180.2 2021.2L1192.4 2026.7L1205.2 2032.2L1218.8 2036.7L1237.6 2040L1255.4 2039.7L1269.2 2041.7L1283 2042.9L1301.5 2040.4L1314.7 2038.5L1332.9 2031.9L1348.9 2021L1363.9 2014.8L1377.7 2005.2L1386.2 1996.9L1400.7 1980.3L1408.6 1972L1419.6 1958L1426.3 1944.6L1431.7 1925.1L1436 1912.3L1441.9 1894.3L1444.5 1883.3L1444.1 1867.2L1445.2 1845.6L1441.2 1830.5L1441.7 1817.9L1433.7 1797.5L1430.5 1787.1L1422.5 1771.6L1413.6 1754.9L1405 1747.5L1392.3 1733.8L1379.1 1720.5L1366.2 1709.9L1353.9 1700.9L1341 1695L1323.2 1686.4L1310.9 1684L1290 1682L1275.6 1681.7L1263.7 1680.6L1246.7 1678.6L1233.2 1684.4L1212.6 1687.6L1198 1692.7L1185.7 1697.2L1166.6 1707.5L1157.6 1714.6L1143.4 1730.2L1132.3 1739.1L1123.8 1750.2L1113.2 1766.3L1105.8 1779.7L1097.9 1795.2L1094.2 1805.2L1089.7 1823L1087.8 1844.2L1084 1854L1086.1 1875L1088.5 1887.7L1092.1 1909.1Z" fill="none" stroke="#0000ff" stroke-width="1.68" stroke-dasharray="4.86 2.1" stroke-linejoin="round"/>
</g>
<path d="M952.55 2160.1v9.18M1070.14 2160.1v9.18M1187.73 2160.1v9.18M1305.32 2160.1v9.18M1422.91 2160.1v9.18M1540.5 2160.1v9.18M952.55 2130.73h-9.18M952.55 2013.24h-9.18M952.55 1895.75h-9.18M952.55 1778.26h-9.18M952.55 1660.77h-9.18" stroke="#000" stroke-width="2.32" fill="none"/>
<rect x="952.55" y="1572.65" width="587.95" height="587.45" fill="none" stroke="#000" stroke-width="2.32"/>
<g font-size="26.34px" text-anchor="middle">
<text x="952.85" y="2199.1">−2</text>
<text x="1070.44" y="2199.1">0</text>
<text x="1188.03" y="2199.1">2</text>
<text x="1305.62" y="2199.1">4</text>
<text x="1423.21" y="2199.1">6</text>
<text x="1540.8" y="2199.1">8</text>
</g>
<g font-size="26.34px" text-anchor="end">
<text x="934.2" y="2140.88">−6</text>
<text x="934.2" y="2023.39">−4</text>
<text x="934.2" y="1905.9">−2</text>
<text x="934.2" y="1788.41">0</text>
<text x="934.2" y="1670.92">2</text>
</g>
<text x="1246.12" y="1556.05" font-size="31.54px" text-anchor="middle">UFPR velocity change</text>
<text x="1246.53" y="2234.4" font-size="26.34px" text-anchor="middle">East component [mm/yr]</text>
</g>
<g id="legend">
<rect x="385" y="54" width="420.9" height="85.95" rx="3.2" ry="3.2" fill="#ffffff" fill-opacity="0.8" stroke="#d5d5d5" stroke-width="3.9"/>
<path d="M395.1 75.4H448.8" stroke="#0000ff" stroke-width="2.45" stroke-linecap="square" fill="none"/>
<path d="M394.2 114.6H449.6" stroke="#0000ff" stroke-width="1.7" stroke-dasharray="4.93 2.13" fill="none"/>
<text x="470.35" y="85.1" font-size="26.7px">68% confidence contour</text>
<text x="470.35" y="124.4" font-size="26.7px">95% confidence contour</text>
</g>
<g id="colorbar">
<rect x="1621.4" y="701.8" width="36.2" height="909" fill="url(#cbg)" stroke="#000" stroke-width="2.4"/>
<path d="M1657.6 701.8h9.8M1657.6 1610.8h9.8" stroke="#000" stroke-width="2.4" fill="none"/>
<text x="1676.2" y="712.8" font-size="28.4px">Max</text>
<text x="1676.2" y="1621.6" font-size="28.4px">Null</text>
<text transform="translate(1771 1156) rotate(-90)" font-size="33.45px" text-anchor="middle">Recurrence</text>
</g>
<g id="plates">
<path d="M108.5 38.7C93.88 38.7 82.4 43.23 82.4 49V344.1C82.4 349.14 70.92 353.1 56.3 353.1M56.3 353.1C70.92 353.1 82.4 357.06 82.4 362.1V657.2C82.4 662.97 93.88 667.5 108.5 667.5" fill="none" stroke="#006400" stroke-width="2.9" stroke-linejoin="round"/>
<path d="M106.9 787.4C92.34 787.4 80.9 796.42 80.9 807.9V1486.1C80.9 1498.14 69.5 1507.6 55 1507.6M55 1507.6C69.5 1507.6 80.9 1517.06 80.9 1529.1V2207.4C80.9 2218.88 92.34 2227.9 106.9 2227.9" fill="none" stroke="#006400" stroke-width="2.6" stroke-linejoin="round"/>
<g class="pl" fill="#006400" font-size="41.6px" text-anchor="middle">
<text transform="translate(30.4 364.8) rotate(-90) scale(0.978 1)" textLength="416" lengthAdjust="spacingAndGlyphs">NAZCA PLATE SITES</text>
<text transform="translate(30.2 1507.2) rotate(-90) scale(0.976 1)" textLength="622.2" lengthAdjust="spacingAndGlyphs">SOUTH AMERICA PLATE SITES</text>
</g></g>
</svg>
</body>
</html>
